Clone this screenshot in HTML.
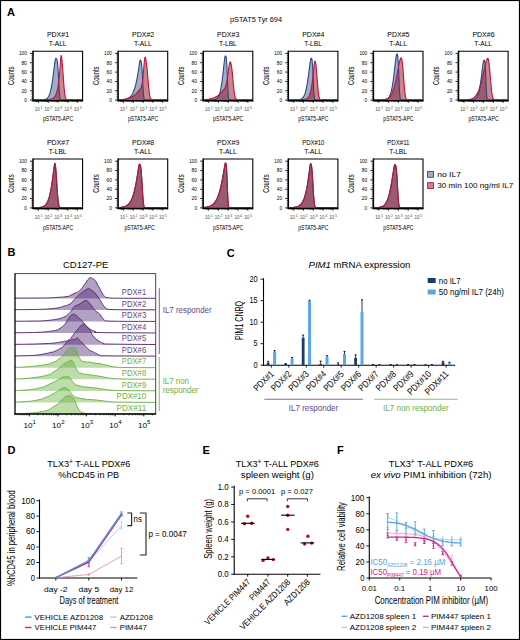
<!DOCTYPE html>
<html><head><meta charset="utf-8"><style>
html,body{margin:0;padding:0;background:#fff;}
svg{display:block;font-family:"Liberation Sans", sans-serif;}
</style></head><body>
<svg width="520" height="640" viewBox="0 0 520 640">
<rect width="520" height="640" fill="#fff"/>
<text x="6.90" y="16.40" font-size="11" fill="#000" font-weight="bold" >A</text>
<text x="7.60" y="256.40" font-size="11" fill="#000" font-weight="bold" >B</text>
<text x="226.80" y="257.20" font-size="11" fill="#000" font-weight="bold" >C</text>
<text x="7.40" y="453.50" font-size="11" fill="#000" font-weight="bold" >D</text>
<text x="202.60" y="453.50" font-size="11" fill="#000" font-weight="bold" >E</text>
<text x="337.00" y="453.50" font-size="11" fill="#000" font-weight="bold" >F</text>
<text x="256.00" y="22.40" font-size="7.6" text-anchor="middle" textLength="52.00" lengthAdjust="spacingAndGlyphs" >pSTAT5 Tyr 694</text>
<text x="58.00" y="36.80" font-size="7.3" text-anchor="middle" textLength="22.20" lengthAdjust="spacingAndGlyphs" >PDX#1</text>
<text x="57.70" y="45.90" font-size="7.3" text-anchor="middle" textLength="17.70" lengthAdjust="spacingAndGlyphs" >T-ALL</text>
<path d="M33.60,99.77 L34.08,99.77 L34.57,99.77 L35.05,99.77 L35.54,99.77 L36.02,99.77 L36.50,99.77 L36.99,99.77 L37.47,99.77 L37.96,99.77 L38.44,99.77 L38.92,99.77 L39.41,99.77 L39.89,99.77 L40.38,99.77 L40.86,99.77 L41.34,99.77 L41.83,99.75 L42.31,99.72 L42.80,99.69 L43.28,99.64 L43.76,99.58 L44.25,99.51 L44.73,99.41 L45.22,99.28 L45.70,99.11 L46.18,98.90 L46.67,98.61 L47.15,98.25 L47.64,97.78 L48.12,97.18 L48.60,96.43 L49.09,95.48 L49.57,94.30 L50.06,92.86 L50.54,91.12 L51.02,89.04 L51.51,86.60 L51.99,83.77 L52.48,80.58 L52.96,77.03 L53.44,73.21 L53.93,69.24 L54.41,65.31 L54.90,61.72 L55.38,58.97 L55.86,58.36 L56.35,58.48 L56.83,59.18 L57.32,61.34 L57.80,65.91 L58.28,73.23 L58.77,82.30 L59.25,90.75 L59.74,96.40 L60.22,98.96 L60.70,99.68 L61.19,99.77 L61.67,99.77 L62.16,99.77 L62.64,99.77 L63.12,99.77 L63.61,99.77 L64.09,99.77 L64.58,99.77 L65.06,99.77 L65.54,99.77 L66.03,99.77 L66.51,99.77 L67.00,99.77 L67.48,99.77 L67.96,99.77 L68.45,99.77 L68.93,99.77 L69.42,99.77 L69.90,99.77 L70.38,99.77 L70.87,99.77 L71.35,99.77 L71.84,99.77 L72.32,99.77 L72.80,99.77 L73.29,99.77 L73.77,99.77 L74.26,99.77 L74.74,99.77 L75.22,99.77 L75.71,99.77 L76.19,99.77 L76.68,99.77 L77.16,99.77 L77.64,99.77 L78.13,99.77 L78.61,99.77 L79.10,99.77 L79.58,99.77 L80.06,99.77 L80.55,99.77 L81.03,99.77 L81.52,99.77 L82.00,99.77 L82.00,100.10 L33.60,100.10 Z" stroke="none" fill="rgba(53,83,138,0.47)" stroke-width="1" />
<path d="M33.60,99.77 L34.08,99.77 L34.57,99.77 L35.05,99.77 L35.54,99.77 L36.02,99.77 L36.50,99.77 L36.99,99.77 L37.47,99.77 L37.96,99.77 L38.44,99.77 L38.92,99.77 L39.41,99.77 L39.89,99.77 L40.38,99.77 L40.86,99.77 L41.34,99.77 L41.83,99.77 L42.31,99.77 L42.80,99.76 L43.28,99.74 L43.76,99.72 L44.25,99.71 L44.73,99.69 L45.22,99.67 L45.70,99.65 L46.18,99.63 L46.67,99.60 L47.15,99.58 L47.64,99.55 L48.12,99.51 L48.60,99.47 L49.09,99.42 L49.57,99.36 L50.06,99.29 L50.54,99.19 L51.02,99.08 L51.51,98.94 L51.99,98.77 L52.48,98.56 L52.96,98.29 L53.44,97.95 L53.93,97.54 L54.41,97.02 L54.90,96.37 L55.38,95.57 L55.86,94.57 L56.35,93.33 L56.83,91.80 L57.32,89.91 L57.80,87.58 L58.28,84.71 L58.77,81.20 L59.25,76.92 L59.74,71.73 L60.22,65.50 L60.70,58.21 L61.19,55.42 L61.67,57.63 L62.16,62.02 L62.64,68.10 L63.12,75.01 L63.61,81.79 L64.09,87.70 L64.58,92.31 L65.06,95.55 L65.54,97.63 L66.03,98.83 L66.51,99.46 L67.00,99.77 L67.48,99.77 L67.96,99.77 L68.45,99.77 L68.93,99.77 L69.42,99.77 L69.90,99.77 L70.38,99.77 L70.87,99.77 L71.35,99.77 L71.84,99.77 L72.32,99.77 L72.80,99.77 L73.29,99.77 L73.77,99.77 L74.26,99.77 L74.74,99.77 L75.22,99.77 L75.71,99.77 L76.19,99.77 L76.68,99.77 L77.16,99.77 L77.64,99.77 L78.13,99.77 L78.61,99.77 L79.10,99.77 L79.58,99.77 L80.06,99.77 L80.55,99.77 L81.03,99.77 L81.52,99.77 L82.00,99.77 L82.00,100.10 L33.60,100.10 Z" stroke="none" fill="rgba(150,0,15,0.48)" stroke-width="1" />
<path d="M33.60,99.77 L34.08,99.77 L34.57,99.77 L35.05,99.77 L35.54,99.77 L36.02,99.77 L36.50,99.77 L36.99,99.77 L37.47,99.77 L37.96,99.77 L38.44,99.77 L38.92,99.77 L39.41,99.77 L39.89,99.77 L40.38,99.77 L40.86,99.77 L41.34,99.77 L41.83,99.75 L42.31,99.72 L42.80,99.69 L43.28,99.64 L43.76,99.58 L44.25,99.51 L44.73,99.41 L45.22,99.28 L45.70,99.11 L46.18,98.90 L46.67,98.61 L47.15,98.25 L47.64,97.78 L48.12,97.18 L48.60,96.43 L49.09,95.48 L49.57,94.30 L50.06,92.86 L50.54,91.12 L51.02,89.04 L51.51,86.60 L51.99,83.77 L52.48,80.58 L52.96,77.03 L53.44,73.21 L53.93,69.24 L54.41,65.31 L54.90,61.72 L55.38,58.97 L55.86,58.36 L56.35,58.48 L56.83,59.18 L57.32,61.34 L57.80,65.91 L58.28,73.23 L58.77,82.30 L59.25,90.75 L59.74,96.40 L60.22,98.96 L60.70,99.68 L61.19,99.77 L61.67,99.77 L62.16,99.77 L62.64,99.77 L63.12,99.77 L63.61,99.77 L64.09,99.77 L64.58,99.77 L65.06,99.77 L65.54,99.77 L66.03,99.77 L66.51,99.77 L67.00,99.77 L67.48,99.77 L67.96,99.77 L68.45,99.77 L68.93,99.77 L69.42,99.77 L69.90,99.77 L70.38,99.77 L70.87,99.77 L71.35,99.77 L71.84,99.77 L72.32,99.77 L72.80,99.77 L73.29,99.77 L73.77,99.77 L74.26,99.77 L74.74,99.77 L75.22,99.77 L75.71,99.77 L76.19,99.77 L76.68,99.77 L77.16,99.77 L77.64,99.77 L78.13,99.77 L78.61,99.77 L79.10,99.77 L79.58,99.77 L80.06,99.77 L80.55,99.77 L81.03,99.77 L81.52,99.77 L82.00,99.77" stroke="#2a4781" fill="none" stroke-width="1.1" stroke-linejoin="round"/>
<path d="M33.60,99.77 L34.08,99.77 L34.57,99.77 L35.05,99.77 L35.54,99.77 L36.02,99.77 L36.50,99.77 L36.99,99.77 L37.47,99.77 L37.96,99.77 L38.44,99.77 L38.92,99.77 L39.41,99.77 L39.89,99.77 L40.38,99.77 L40.86,99.77 L41.34,99.77 L41.83,99.77 L42.31,99.77 L42.80,99.76 L43.28,99.74 L43.76,99.72 L44.25,99.71 L44.73,99.69 L45.22,99.67 L45.70,99.65 L46.18,99.63 L46.67,99.60 L47.15,99.58 L47.64,99.55 L48.12,99.51 L48.60,99.47 L49.09,99.42 L49.57,99.36 L50.06,99.29 L50.54,99.19 L51.02,99.08 L51.51,98.94 L51.99,98.77 L52.48,98.56 L52.96,98.29 L53.44,97.95 L53.93,97.54 L54.41,97.02 L54.90,96.37 L55.38,95.57 L55.86,94.57 L56.35,93.33 L56.83,91.80 L57.32,89.91 L57.80,87.58 L58.28,84.71 L58.77,81.20 L59.25,76.92 L59.74,71.73 L60.22,65.50 L60.70,58.21 L61.19,55.42 L61.67,57.63 L62.16,62.02 L62.64,68.10 L63.12,75.01 L63.61,81.79 L64.09,87.70 L64.58,92.31 L65.06,95.55 L65.54,97.63 L66.03,98.83 L66.51,99.46 L67.00,99.77 L67.48,99.77 L67.96,99.77 L68.45,99.77 L68.93,99.77 L69.42,99.77 L69.90,99.77 L70.38,99.77 L70.87,99.77 L71.35,99.77 L71.84,99.77 L72.32,99.77 L72.80,99.77 L73.29,99.77 L73.77,99.77 L74.26,99.77 L74.74,99.77 L75.22,99.77 L75.71,99.77 L76.19,99.77 L76.68,99.77 L77.16,99.77 L77.64,99.77 L78.13,99.77 L78.61,99.77 L79.10,99.77 L79.58,99.77 L80.06,99.77 L80.55,99.77 L81.03,99.77 L81.52,99.77 L82.00,99.77" stroke="#b8143f" fill="none" stroke-width="1.1" stroke-linejoin="round"/>
<path d="M33.00,51.20 L82.60,51.20 L82.60,100.70" fill="none" stroke="#000" stroke-width="1.1"/>
<line x1="33.00" y1="50.70" x2="33.00" y2="101.30" stroke="#000" stroke-width="1.5" />
<line x1="32.40" y1="100.70" x2="83.10" y2="100.70" stroke="#000" stroke-width="1.4" />
<line x1="30.00" y1="100.10" x2="33.00" y2="100.10" stroke="#000" stroke-width="0.9" />
<text x="26.80" y="102.00" font-size="5.4" text-anchor="end" textLength="2.60" lengthAdjust="spacingAndGlyphs" >0</text>
<line x1="31.40" y1="98.23" x2="33.00" y2="98.23" stroke="#000" stroke-width="0.6" />
<line x1="31.40" y1="96.36" x2="33.00" y2="96.36" stroke="#000" stroke-width="0.6" />
<line x1="31.40" y1="94.50" x2="33.00" y2="94.50" stroke="#000" stroke-width="0.6" />
<line x1="31.40" y1="92.63" x2="33.00" y2="92.63" stroke="#000" stroke-width="0.6" />
<line x1="30.00" y1="90.76" x2="33.00" y2="90.76" stroke="#000" stroke-width="0.9" />
<text x="26.80" y="92.66" font-size="5.4" text-anchor="end" textLength="5.40" lengthAdjust="spacingAndGlyphs" >20</text>
<line x1="31.40" y1="88.89" x2="33.00" y2="88.89" stroke="#000" stroke-width="0.6" />
<line x1="31.40" y1="87.02" x2="33.00" y2="87.02" stroke="#000" stroke-width="0.6" />
<line x1="31.40" y1="85.16" x2="33.00" y2="85.16" stroke="#000" stroke-width="0.6" />
<line x1="31.40" y1="83.29" x2="33.00" y2="83.29" stroke="#000" stroke-width="0.6" />
<line x1="30.00" y1="81.42" x2="33.00" y2="81.42" stroke="#000" stroke-width="0.9" />
<text x="26.80" y="83.32" font-size="5.4" text-anchor="end" textLength="5.40" lengthAdjust="spacingAndGlyphs" >40</text>
<line x1="31.40" y1="79.55" x2="33.00" y2="79.55" stroke="#000" stroke-width="0.6" />
<line x1="31.40" y1="77.68" x2="33.00" y2="77.68" stroke="#000" stroke-width="0.6" />
<line x1="31.40" y1="75.82" x2="33.00" y2="75.82" stroke="#000" stroke-width="0.6" />
<line x1="31.40" y1="73.95" x2="33.00" y2="73.95" stroke="#000" stroke-width="0.6" />
<line x1="30.00" y1="72.08" x2="33.00" y2="72.08" stroke="#000" stroke-width="0.9" />
<text x="26.80" y="73.98" font-size="5.4" text-anchor="end" textLength="5.40" lengthAdjust="spacingAndGlyphs" >60</text>
<line x1="31.40" y1="70.21" x2="33.00" y2="70.21" stroke="#000" stroke-width="0.6" />
<line x1="31.40" y1="68.34" x2="33.00" y2="68.34" stroke="#000" stroke-width="0.6" />
<line x1="31.40" y1="66.48" x2="33.00" y2="66.48" stroke="#000" stroke-width="0.6" />
<line x1="31.40" y1="64.61" x2="33.00" y2="64.61" stroke="#000" stroke-width="0.6" />
<line x1="30.00" y1="62.74" x2="33.00" y2="62.74" stroke="#000" stroke-width="0.9" />
<text x="26.80" y="64.64" font-size="5.4" text-anchor="end" textLength="5.40" lengthAdjust="spacingAndGlyphs" >80</text>
<line x1="31.40" y1="60.87" x2="33.00" y2="60.87" stroke="#000" stroke-width="0.6" />
<line x1="31.40" y1="59.00" x2="33.00" y2="59.00" stroke="#000" stroke-width="0.6" />
<line x1="31.40" y1="57.14" x2="33.00" y2="57.14" stroke="#000" stroke-width="0.6" />
<line x1="31.40" y1="55.27" x2="33.00" y2="55.27" stroke="#000" stroke-width="0.6" />
<line x1="30.00" y1="53.40" x2="33.00" y2="53.40" stroke="#000" stroke-width="0.9" />
<text x="26.80" y="55.30" font-size="5.4" text-anchor="end" textLength="7.80" lengthAdjust="spacingAndGlyphs" >100</text>
<line x1="38.50" y1="100.70" x2="38.50" y2="102.90" stroke="#000" stroke-width="0.8" />
<line x1="41.45" y1="100.70" x2="41.45" y2="101.90" stroke="#000" stroke-width="0.5" />
<line x1="43.18" y1="100.70" x2="43.18" y2="101.90" stroke="#000" stroke-width="0.5" />
<line x1="44.40" y1="100.70" x2="44.40" y2="101.90" stroke="#000" stroke-width="0.5" />
<line x1="45.35" y1="100.70" x2="45.35" y2="101.90" stroke="#000" stroke-width="0.5" />
<line x1="46.13" y1="100.70" x2="46.13" y2="101.90" stroke="#000" stroke-width="0.5" />
<line x1="46.78" y1="100.70" x2="46.78" y2="101.90" stroke="#000" stroke-width="0.5" />
<line x1="47.35" y1="100.70" x2="47.35" y2="101.90" stroke="#000" stroke-width="0.5" />
<line x1="47.85" y1="100.70" x2="47.85" y2="101.90" stroke="#000" stroke-width="0.5" />
<text x="34.80" y="110.80" font-size="5.0" fill="#4a4a4a" textLength="5.00" lengthAdjust="spacingAndGlyphs" >10</text>
<text x="40.50" y="108.70" font-size="3.6" fill="#4a4a4a" >1</text>
<line x1="48.30" y1="100.70" x2="48.30" y2="102.90" stroke="#000" stroke-width="0.8" />
<line x1="51.25" y1="100.70" x2="51.25" y2="101.90" stroke="#000" stroke-width="0.5" />
<line x1="52.98" y1="100.70" x2="52.98" y2="101.90" stroke="#000" stroke-width="0.5" />
<line x1="54.20" y1="100.70" x2="54.20" y2="101.90" stroke="#000" stroke-width="0.5" />
<line x1="55.15" y1="100.70" x2="55.15" y2="101.90" stroke="#000" stroke-width="0.5" />
<line x1="55.93" y1="100.70" x2="55.93" y2="101.90" stroke="#000" stroke-width="0.5" />
<line x1="56.58" y1="100.70" x2="56.58" y2="101.90" stroke="#000" stroke-width="0.5" />
<line x1="57.15" y1="100.70" x2="57.15" y2="101.90" stroke="#000" stroke-width="0.5" />
<line x1="57.65" y1="100.70" x2="57.65" y2="101.90" stroke="#000" stroke-width="0.5" />
<text x="44.60" y="110.80" font-size="5.0" fill="#4a4a4a" textLength="5.00" lengthAdjust="spacingAndGlyphs" >10</text>
<text x="50.30" y="108.70" font-size="3.6" fill="#4a4a4a" >2</text>
<line x1="58.10" y1="100.70" x2="58.10" y2="102.90" stroke="#000" stroke-width="0.8" />
<line x1="61.05" y1="100.70" x2="61.05" y2="101.90" stroke="#000" stroke-width="0.5" />
<line x1="62.78" y1="100.70" x2="62.78" y2="101.90" stroke="#000" stroke-width="0.5" />
<line x1="64.00" y1="100.70" x2="64.00" y2="101.90" stroke="#000" stroke-width="0.5" />
<line x1="64.95" y1="100.70" x2="64.95" y2="101.90" stroke="#000" stroke-width="0.5" />
<line x1="65.73" y1="100.70" x2="65.73" y2="101.90" stroke="#000" stroke-width="0.5" />
<line x1="66.38" y1="100.70" x2="66.38" y2="101.90" stroke="#000" stroke-width="0.5" />
<line x1="66.95" y1="100.70" x2="66.95" y2="101.90" stroke="#000" stroke-width="0.5" />
<line x1="67.45" y1="100.70" x2="67.45" y2="101.90" stroke="#000" stroke-width="0.5" />
<text x="54.40" y="110.80" font-size="5.0" fill="#4a4a4a" textLength="5.00" lengthAdjust="spacingAndGlyphs" >10</text>
<text x="60.10" y="108.70" font-size="3.6" fill="#4a4a4a" >3</text>
<line x1="67.90" y1="100.70" x2="67.90" y2="102.90" stroke="#000" stroke-width="0.8" />
<line x1="70.85" y1="100.70" x2="70.85" y2="101.90" stroke="#000" stroke-width="0.5" />
<line x1="72.58" y1="100.70" x2="72.58" y2="101.90" stroke="#000" stroke-width="0.5" />
<line x1="73.80" y1="100.70" x2="73.80" y2="101.90" stroke="#000" stroke-width="0.5" />
<line x1="74.75" y1="100.70" x2="74.75" y2="101.90" stroke="#000" stroke-width="0.5" />
<line x1="75.53" y1="100.70" x2="75.53" y2="101.90" stroke="#000" stroke-width="0.5" />
<line x1="76.18" y1="100.70" x2="76.18" y2="101.90" stroke="#000" stroke-width="0.5" />
<line x1="76.75" y1="100.70" x2="76.75" y2="101.90" stroke="#000" stroke-width="0.5" />
<line x1="77.25" y1="100.70" x2="77.25" y2="101.90" stroke="#000" stroke-width="0.5" />
<text x="64.20" y="110.80" font-size="5.0" fill="#4a4a4a" textLength="5.00" lengthAdjust="spacingAndGlyphs" >10</text>
<text x="69.90" y="108.70" font-size="3.6" fill="#4a4a4a" >4</text>
<line x1="77.70" y1="100.70" x2="77.70" y2="102.90" stroke="#000" stroke-width="0.8" />
<line x1="80.65" y1="100.70" x2="80.65" y2="101.90" stroke="#000" stroke-width="0.5" />
<line x1="82.38" y1="100.70" x2="82.38" y2="101.90" stroke="#000" stroke-width="0.5" />
<text x="74.00" y="110.80" font-size="5.0" fill="#4a4a4a" textLength="5.00" lengthAdjust="spacingAndGlyphs" >10</text>
<text x="79.70" y="108.70" font-size="3.6" fill="#4a4a4a" >5</text>
<line x1="35.55" y1="100.70" x2="35.55" y2="101.90" stroke="#000" stroke-width="0.5" />
<line x1="36.33" y1="100.70" x2="36.33" y2="101.90" stroke="#000" stroke-width="0.5" />
<line x1="36.98" y1="100.70" x2="36.98" y2="101.90" stroke="#000" stroke-width="0.5" />
<line x1="37.55" y1="100.70" x2="37.55" y2="101.90" stroke="#000" stroke-width="0.5" />
<line x1="38.05" y1="100.70" x2="38.05" y2="101.90" stroke="#000" stroke-width="0.5" />
<text x="13.90" y="75.80" font-size="8.3" text-anchor="middle" textLength="18.50" lengthAdjust="spacingAndGlyphs" transform="rotate(-90 13.90 75.80)" >Counts</text>
<text x="58.00" y="121.40" font-size="7.6" text-anchor="middle" textLength="30.20" lengthAdjust="spacingAndGlyphs" >pSTAT5-APC</text>
<text x="143.10" y="36.80" font-size="7.3" text-anchor="middle" textLength="22.20" lengthAdjust="spacingAndGlyphs" >PDX#2</text>
<text x="142.80" y="45.90" font-size="7.3" text-anchor="middle" textLength="17.70" lengthAdjust="spacingAndGlyphs" >T-ALL</text>
<path d="M118.70,99.77 L119.18,99.77 L119.67,99.77 L120.15,99.77 L120.64,99.77 L121.12,99.77 L121.60,99.77 L122.09,99.73 L122.57,99.68 L123.06,99.63 L123.54,99.56 L124.02,99.49 L124.51,99.41 L124.99,99.31 L125.48,99.20 L125.96,99.07 L126.44,98.93 L126.93,98.76 L127.41,98.57 L127.90,98.35 L128.38,98.09 L128.86,97.79 L129.35,97.46 L129.83,97.07 L130.32,96.62 L130.80,96.10 L131.28,95.52 L131.77,94.84 L132.25,94.08 L132.74,93.20 L133.22,92.21 L133.70,91.08 L134.19,89.81 L134.67,88.37 L135.16,86.76 L135.64,84.96 L136.12,82.95 L136.61,80.73 L137.09,78.29 L137.58,75.62 L138.06,72.74 L138.54,69.68 L139.03,66.49 L139.51,63.29 L140.00,60.40 L140.48,60.02 L140.96,60.65 L141.45,63.04 L141.93,68.28 L142.42,76.36 L142.90,85.57 L143.38,93.19 L143.87,97.60 L144.35,99.30 L144.84,99.72 L145.32,99.77 L145.80,99.77 L146.29,99.77 L146.77,99.77 L147.26,99.77 L147.74,99.77 L148.22,99.77 L148.71,99.77 L149.19,99.77 L149.68,99.77 L150.16,99.77 L150.64,99.77 L151.13,99.77 L151.61,99.77 L152.10,99.77 L152.58,99.77 L153.06,99.77 L153.55,99.77 L154.03,99.77 L154.52,99.77 L155.00,99.77 L155.48,99.77 L155.97,99.77 L156.45,99.77 L156.94,99.77 L157.42,99.77 L157.90,99.77 L158.39,99.77 L158.87,99.77 L159.36,99.77 L159.84,99.77 L160.32,99.77 L160.81,99.77 L161.29,99.77 L161.78,99.77 L162.26,99.77 L162.74,99.77 L163.23,99.77 L163.71,99.77 L164.20,99.77 L164.68,99.77 L165.16,99.77 L165.65,99.77 L166.13,99.77 L166.62,99.77 L167.10,99.77 L167.10,100.10 L118.70,100.10 Z" stroke="none" fill="rgba(53,83,138,0.47)" stroke-width="1" />
<path d="M118.70,99.77 L119.18,99.77 L119.67,99.74 L120.15,99.70 L120.64,99.66 L121.12,99.62 L121.60,99.57 L122.09,99.52 L122.57,99.46 L123.06,99.40 L123.54,99.33 L124.02,99.25 L124.51,99.17 L124.99,99.09 L125.48,98.99 L125.96,98.89 L126.44,98.78 L126.93,98.66 L127.41,98.53 L127.90,98.39 L128.38,98.24 L128.86,98.08 L129.35,97.90 L129.83,97.71 L130.32,97.51 L130.80,97.29 L131.28,97.05 L131.77,96.80 L132.25,96.53 L132.74,96.24 L133.22,95.93 L133.70,95.60 L134.19,95.25 L134.67,94.87 L135.16,94.47 L135.64,94.05 L136.12,93.60 L136.61,93.13 L137.09,92.64 L137.58,92.12 L138.06,91.58 L138.54,91.02 L139.03,90.43 L139.51,89.83 L140.00,89.20 L140.48,88.51 L140.96,87.69 L141.45,86.57 L141.93,84.88 L142.42,82.19 L142.90,78.12 L143.38,72.82 L143.87,66.95 L144.35,61.44 L144.84,57.73 L145.32,57.18 L145.80,59.21 L146.29,62.06 L146.77,65.94 L147.26,70.82 L147.74,76.38 L148.22,82.09 L148.71,87.39 L149.19,91.80 L149.68,95.11 L150.16,97.33 L150.64,98.67 L151.13,99.39 L151.61,99.74 L152.10,99.77 L152.58,99.77 L153.06,99.77 L153.55,99.77 L154.03,99.77 L154.52,99.77 L155.00,99.77 L155.48,99.77 L155.97,99.77 L156.45,99.77 L156.94,99.77 L157.42,99.77 L157.90,99.77 L158.39,99.77 L158.87,99.77 L159.36,99.77 L159.84,99.77 L160.32,99.77 L160.81,99.77 L161.29,99.77 L161.78,99.77 L162.26,99.77 L162.74,99.77 L163.23,99.77 L163.71,99.77 L164.20,99.77 L164.68,99.77 L165.16,99.77 L165.65,99.77 L166.13,99.77 L166.62,99.77 L167.10,99.77 L167.10,100.10 L118.70,100.10 Z" stroke="none" fill="rgba(150,0,15,0.48)" stroke-width="1" />
<path d="M118.70,99.77 L119.18,99.77 L119.67,99.77 L120.15,99.77 L120.64,99.77 L121.12,99.77 L121.60,99.77 L122.09,99.73 L122.57,99.68 L123.06,99.63 L123.54,99.56 L124.02,99.49 L124.51,99.41 L124.99,99.31 L125.48,99.20 L125.96,99.07 L126.44,98.93 L126.93,98.76 L127.41,98.57 L127.90,98.35 L128.38,98.09 L128.86,97.79 L129.35,97.46 L129.83,97.07 L130.32,96.62 L130.80,96.10 L131.28,95.52 L131.77,94.84 L132.25,94.08 L132.74,93.20 L133.22,92.21 L133.70,91.08 L134.19,89.81 L134.67,88.37 L135.16,86.76 L135.64,84.96 L136.12,82.95 L136.61,80.73 L137.09,78.29 L137.58,75.62 L138.06,72.74 L138.54,69.68 L139.03,66.49 L139.51,63.29 L140.00,60.40 L140.48,60.02 L140.96,60.65 L141.45,63.04 L141.93,68.28 L142.42,76.36 L142.90,85.57 L143.38,93.19 L143.87,97.60 L144.35,99.30 L144.84,99.72 L145.32,99.77 L145.80,99.77 L146.29,99.77 L146.77,99.77 L147.26,99.77 L147.74,99.77 L148.22,99.77 L148.71,99.77 L149.19,99.77 L149.68,99.77 L150.16,99.77 L150.64,99.77 L151.13,99.77 L151.61,99.77 L152.10,99.77 L152.58,99.77 L153.06,99.77 L153.55,99.77 L154.03,99.77 L154.52,99.77 L155.00,99.77 L155.48,99.77 L155.97,99.77 L156.45,99.77 L156.94,99.77 L157.42,99.77 L157.90,99.77 L158.39,99.77 L158.87,99.77 L159.36,99.77 L159.84,99.77 L160.32,99.77 L160.81,99.77 L161.29,99.77 L161.78,99.77 L162.26,99.77 L162.74,99.77 L163.23,99.77 L163.71,99.77 L164.20,99.77 L164.68,99.77 L165.16,99.77 L165.65,99.77 L166.13,99.77 L166.62,99.77 L167.10,99.77" stroke="#2a4781" fill="none" stroke-width="1.1" stroke-linejoin="round"/>
<path d="M118.70,99.77 L119.18,99.77 L119.67,99.74 L120.15,99.70 L120.64,99.66 L121.12,99.62 L121.60,99.57 L122.09,99.52 L122.57,99.46 L123.06,99.40 L123.54,99.33 L124.02,99.25 L124.51,99.17 L124.99,99.09 L125.48,98.99 L125.96,98.89 L126.44,98.78 L126.93,98.66 L127.41,98.53 L127.90,98.39 L128.38,98.24 L128.86,98.08 L129.35,97.90 L129.83,97.71 L130.32,97.51 L130.80,97.29 L131.28,97.05 L131.77,96.80 L132.25,96.53 L132.74,96.24 L133.22,95.93 L133.70,95.60 L134.19,95.25 L134.67,94.87 L135.16,94.47 L135.64,94.05 L136.12,93.60 L136.61,93.13 L137.09,92.64 L137.58,92.12 L138.06,91.58 L138.54,91.02 L139.03,90.43 L139.51,89.83 L140.00,89.20 L140.48,88.51 L140.96,87.69 L141.45,86.57 L141.93,84.88 L142.42,82.19 L142.90,78.12 L143.38,72.82 L143.87,66.95 L144.35,61.44 L144.84,57.73 L145.32,57.18 L145.80,59.21 L146.29,62.06 L146.77,65.94 L147.26,70.82 L147.74,76.38 L148.22,82.09 L148.71,87.39 L149.19,91.80 L149.68,95.11 L150.16,97.33 L150.64,98.67 L151.13,99.39 L151.61,99.74 L152.10,99.77 L152.58,99.77 L153.06,99.77 L153.55,99.77 L154.03,99.77 L154.52,99.77 L155.00,99.77 L155.48,99.77 L155.97,99.77 L156.45,99.77 L156.94,99.77 L157.42,99.77 L157.90,99.77 L158.39,99.77 L158.87,99.77 L159.36,99.77 L159.84,99.77 L160.32,99.77 L160.81,99.77 L161.29,99.77 L161.78,99.77 L162.26,99.77 L162.74,99.77 L163.23,99.77 L163.71,99.77 L164.20,99.77 L164.68,99.77 L165.16,99.77 L165.65,99.77 L166.13,99.77 L166.62,99.77 L167.10,99.77" stroke="#b8143f" fill="none" stroke-width="1.1" stroke-linejoin="round"/>
<path d="M118.10,51.20 L167.70,51.20 L167.70,100.70" fill="none" stroke="#000" stroke-width="1.1"/>
<line x1="118.10" y1="50.70" x2="118.10" y2="101.30" stroke="#000" stroke-width="1.5" />
<line x1="117.50" y1="100.70" x2="168.20" y2="100.70" stroke="#000" stroke-width="1.4" />
<line x1="115.10" y1="100.10" x2="118.10" y2="100.10" stroke="#000" stroke-width="0.9" />
<text x="111.90" y="102.00" font-size="5.4" text-anchor="end" textLength="2.60" lengthAdjust="spacingAndGlyphs" >0</text>
<line x1="116.50" y1="98.23" x2="118.10" y2="98.23" stroke="#000" stroke-width="0.6" />
<line x1="116.50" y1="96.36" x2="118.10" y2="96.36" stroke="#000" stroke-width="0.6" />
<line x1="116.50" y1="94.50" x2="118.10" y2="94.50" stroke="#000" stroke-width="0.6" />
<line x1="116.50" y1="92.63" x2="118.10" y2="92.63" stroke="#000" stroke-width="0.6" />
<line x1="115.10" y1="90.76" x2="118.10" y2="90.76" stroke="#000" stroke-width="0.9" />
<text x="111.90" y="92.66" font-size="5.4" text-anchor="end" textLength="5.40" lengthAdjust="spacingAndGlyphs" >20</text>
<line x1="116.50" y1="88.89" x2="118.10" y2="88.89" stroke="#000" stroke-width="0.6" />
<line x1="116.50" y1="87.02" x2="118.10" y2="87.02" stroke="#000" stroke-width="0.6" />
<line x1="116.50" y1="85.16" x2="118.10" y2="85.16" stroke="#000" stroke-width="0.6" />
<line x1="116.50" y1="83.29" x2="118.10" y2="83.29" stroke="#000" stroke-width="0.6" />
<line x1="115.10" y1="81.42" x2="118.10" y2="81.42" stroke="#000" stroke-width="0.9" />
<text x="111.90" y="83.32" font-size="5.4" text-anchor="end" textLength="5.40" lengthAdjust="spacingAndGlyphs" >40</text>
<line x1="116.50" y1="79.55" x2="118.10" y2="79.55" stroke="#000" stroke-width="0.6" />
<line x1="116.50" y1="77.68" x2="118.10" y2="77.68" stroke="#000" stroke-width="0.6" />
<line x1="116.50" y1="75.82" x2="118.10" y2="75.82" stroke="#000" stroke-width="0.6" />
<line x1="116.50" y1="73.95" x2="118.10" y2="73.95" stroke="#000" stroke-width="0.6" />
<line x1="115.10" y1="72.08" x2="118.10" y2="72.08" stroke="#000" stroke-width="0.9" />
<text x="111.90" y="73.98" font-size="5.4" text-anchor="end" textLength="5.40" lengthAdjust="spacingAndGlyphs" >60</text>
<line x1="116.50" y1="70.21" x2="118.10" y2="70.21" stroke="#000" stroke-width="0.6" />
<line x1="116.50" y1="68.34" x2="118.10" y2="68.34" stroke="#000" stroke-width="0.6" />
<line x1="116.50" y1="66.48" x2="118.10" y2="66.48" stroke="#000" stroke-width="0.6" />
<line x1="116.50" y1="64.61" x2="118.10" y2="64.61" stroke="#000" stroke-width="0.6" />
<line x1="115.10" y1="62.74" x2="118.10" y2="62.74" stroke="#000" stroke-width="0.9" />
<text x="111.90" y="64.64" font-size="5.4" text-anchor="end" textLength="5.40" lengthAdjust="spacingAndGlyphs" >80</text>
<line x1="116.50" y1="60.87" x2="118.10" y2="60.87" stroke="#000" stroke-width="0.6" />
<line x1="116.50" y1="59.00" x2="118.10" y2="59.00" stroke="#000" stroke-width="0.6" />
<line x1="116.50" y1="57.14" x2="118.10" y2="57.14" stroke="#000" stroke-width="0.6" />
<line x1="116.50" y1="55.27" x2="118.10" y2="55.27" stroke="#000" stroke-width="0.6" />
<line x1="115.10" y1="53.40" x2="118.10" y2="53.40" stroke="#000" stroke-width="0.9" />
<text x="111.90" y="55.30" font-size="5.4" text-anchor="end" textLength="7.80" lengthAdjust="spacingAndGlyphs" >100</text>
<line x1="123.60" y1="100.70" x2="123.60" y2="102.90" stroke="#000" stroke-width="0.8" />
<line x1="126.55" y1="100.70" x2="126.55" y2="101.90" stroke="#000" stroke-width="0.5" />
<line x1="128.28" y1="100.70" x2="128.28" y2="101.90" stroke="#000" stroke-width="0.5" />
<line x1="129.50" y1="100.70" x2="129.50" y2="101.90" stroke="#000" stroke-width="0.5" />
<line x1="130.45" y1="100.70" x2="130.45" y2="101.90" stroke="#000" stroke-width="0.5" />
<line x1="131.23" y1="100.70" x2="131.23" y2="101.90" stroke="#000" stroke-width="0.5" />
<line x1="131.88" y1="100.70" x2="131.88" y2="101.90" stroke="#000" stroke-width="0.5" />
<line x1="132.45" y1="100.70" x2="132.45" y2="101.90" stroke="#000" stroke-width="0.5" />
<line x1="132.95" y1="100.70" x2="132.95" y2="101.90" stroke="#000" stroke-width="0.5" />
<text x="119.90" y="110.80" font-size="5.0" fill="#4a4a4a" textLength="5.00" lengthAdjust="spacingAndGlyphs" >10</text>
<text x="125.60" y="108.70" font-size="3.6" fill="#4a4a4a" >1</text>
<line x1="133.40" y1="100.70" x2="133.40" y2="102.90" stroke="#000" stroke-width="0.8" />
<line x1="136.35" y1="100.70" x2="136.35" y2="101.90" stroke="#000" stroke-width="0.5" />
<line x1="138.08" y1="100.70" x2="138.08" y2="101.90" stroke="#000" stroke-width="0.5" />
<line x1="139.30" y1="100.70" x2="139.30" y2="101.90" stroke="#000" stroke-width="0.5" />
<line x1="140.25" y1="100.70" x2="140.25" y2="101.90" stroke="#000" stroke-width="0.5" />
<line x1="141.03" y1="100.70" x2="141.03" y2="101.90" stroke="#000" stroke-width="0.5" />
<line x1="141.68" y1="100.70" x2="141.68" y2="101.90" stroke="#000" stroke-width="0.5" />
<line x1="142.25" y1="100.70" x2="142.25" y2="101.90" stroke="#000" stroke-width="0.5" />
<line x1="142.75" y1="100.70" x2="142.75" y2="101.90" stroke="#000" stroke-width="0.5" />
<text x="129.70" y="110.80" font-size="5.0" fill="#4a4a4a" textLength="5.00" lengthAdjust="spacingAndGlyphs" >10</text>
<text x="135.40" y="108.70" font-size="3.6" fill="#4a4a4a" >2</text>
<line x1="143.20" y1="100.70" x2="143.20" y2="102.90" stroke="#000" stroke-width="0.8" />
<line x1="146.15" y1="100.70" x2="146.15" y2="101.90" stroke="#000" stroke-width="0.5" />
<line x1="147.88" y1="100.70" x2="147.88" y2="101.90" stroke="#000" stroke-width="0.5" />
<line x1="149.10" y1="100.70" x2="149.10" y2="101.90" stroke="#000" stroke-width="0.5" />
<line x1="150.05" y1="100.70" x2="150.05" y2="101.90" stroke="#000" stroke-width="0.5" />
<line x1="150.83" y1="100.70" x2="150.83" y2="101.90" stroke="#000" stroke-width="0.5" />
<line x1="151.48" y1="100.70" x2="151.48" y2="101.90" stroke="#000" stroke-width="0.5" />
<line x1="152.05" y1="100.70" x2="152.05" y2="101.90" stroke="#000" stroke-width="0.5" />
<line x1="152.55" y1="100.70" x2="152.55" y2="101.90" stroke="#000" stroke-width="0.5" />
<text x="139.50" y="110.80" font-size="5.0" fill="#4a4a4a" textLength="5.00" lengthAdjust="spacingAndGlyphs" >10</text>
<text x="145.20" y="108.70" font-size="3.6" fill="#4a4a4a" >3</text>
<line x1="153.00" y1="100.70" x2="153.00" y2="102.90" stroke="#000" stroke-width="0.8" />
<line x1="155.95" y1="100.70" x2="155.95" y2="101.90" stroke="#000" stroke-width="0.5" />
<line x1="157.68" y1="100.70" x2="157.68" y2="101.90" stroke="#000" stroke-width="0.5" />
<line x1="158.90" y1="100.70" x2="158.90" y2="101.90" stroke="#000" stroke-width="0.5" />
<line x1="159.85" y1="100.70" x2="159.85" y2="101.90" stroke="#000" stroke-width="0.5" />
<line x1="160.63" y1="100.70" x2="160.63" y2="101.90" stroke="#000" stroke-width="0.5" />
<line x1="161.28" y1="100.70" x2="161.28" y2="101.90" stroke="#000" stroke-width="0.5" />
<line x1="161.85" y1="100.70" x2="161.85" y2="101.90" stroke="#000" stroke-width="0.5" />
<line x1="162.35" y1="100.70" x2="162.35" y2="101.90" stroke="#000" stroke-width="0.5" />
<text x="149.30" y="110.80" font-size="5.0" fill="#4a4a4a" textLength="5.00" lengthAdjust="spacingAndGlyphs" >10</text>
<text x="155.00" y="108.70" font-size="3.6" fill="#4a4a4a" >4</text>
<line x1="162.80" y1="100.70" x2="162.80" y2="102.90" stroke="#000" stroke-width="0.8" />
<line x1="165.75" y1="100.70" x2="165.75" y2="101.90" stroke="#000" stroke-width="0.5" />
<line x1="167.48" y1="100.70" x2="167.48" y2="101.90" stroke="#000" stroke-width="0.5" />
<text x="159.10" y="110.80" font-size="5.0" fill="#4a4a4a" textLength="5.00" lengthAdjust="spacingAndGlyphs" >10</text>
<text x="164.80" y="108.70" font-size="3.6" fill="#4a4a4a" >5</text>
<line x1="120.65" y1="100.70" x2="120.65" y2="101.90" stroke="#000" stroke-width="0.5" />
<line x1="121.43" y1="100.70" x2="121.43" y2="101.90" stroke="#000" stroke-width="0.5" />
<line x1="122.08" y1="100.70" x2="122.08" y2="101.90" stroke="#000" stroke-width="0.5" />
<line x1="122.65" y1="100.70" x2="122.65" y2="101.90" stroke="#000" stroke-width="0.5" />
<line x1="123.15" y1="100.70" x2="123.15" y2="101.90" stroke="#000" stroke-width="0.5" />
<text x="99.00" y="75.80" font-size="8.3" text-anchor="middle" textLength="18.50" lengthAdjust="spacingAndGlyphs" transform="rotate(-90 99.00 75.80)" >Counts</text>
<text x="143.10" y="121.40" font-size="7.6" text-anchor="middle" textLength="30.20" lengthAdjust="spacingAndGlyphs" >pSTAT5-APC</text>
<text x="228.20" y="36.80" font-size="7.3" text-anchor="middle" textLength="22.20" lengthAdjust="spacingAndGlyphs" >PDX#3</text>
<text x="227.90" y="45.90" font-size="7.3" text-anchor="middle" textLength="17.70" lengthAdjust="spacingAndGlyphs" >T-LBL</text>
<path d="M203.80,99.77 L204.28,99.77 L204.77,99.77 L205.25,99.77 L205.74,99.77 L206.22,99.77 L206.70,99.77 L207.19,99.77 L207.67,99.77 L208.16,99.77 L208.64,99.77 L209.12,99.77 L209.61,99.77 L210.09,99.77 L210.58,99.77 L211.06,99.77 L211.54,99.77 L212.03,99.76 L212.51,99.73 L213.00,99.69 L213.48,99.65 L213.96,99.59 L214.45,99.51 L214.93,99.40 L215.42,99.26 L215.90,99.08 L216.38,98.83 L216.87,98.50 L217.35,98.07 L217.84,97.51 L218.32,96.78 L218.80,95.86 L219.29,94.68 L219.77,93.22 L220.26,91.42 L220.74,89.24 L221.22,86.64 L221.71,83.60 L222.19,80.12 L222.68,76.23 L223.16,72.02 L223.64,67.62 L224.13,63.27 L224.61,59.32 L225.10,56.36 L225.58,55.80 L226.06,56.66 L226.55,60.45 L227.03,68.87 L227.52,80.70 L228.00,91.47 L228.48,97.50 L228.97,99.42 L229.45,99.74 L229.94,99.77 L230.42,99.77 L230.90,99.77 L231.39,99.77 L231.87,99.77 L232.36,99.77 L232.84,99.77 L233.32,99.77 L233.81,99.77 L234.29,99.77 L234.78,99.77 L235.26,99.77 L235.74,99.77 L236.23,99.77 L236.71,99.77 L237.20,99.77 L237.68,99.77 L238.16,99.77 L238.65,99.77 L239.13,99.77 L239.62,99.77 L240.10,99.77 L240.58,99.77 L241.07,99.77 L241.55,99.77 L242.04,99.77 L242.52,99.77 L243.00,99.77 L243.49,99.77 L243.97,99.77 L244.46,99.77 L244.94,99.77 L245.42,99.77 L245.91,99.77 L246.39,99.77 L246.88,99.77 L247.36,99.77 L247.84,99.77 L248.33,99.77 L248.81,99.77 L249.30,99.77 L249.78,99.77 L250.26,99.77 L250.75,99.77 L251.23,99.77 L251.72,99.77 L252.20,99.77 L252.20,100.10 L203.80,100.10 Z" stroke="none" fill="rgba(53,83,138,0.47)" stroke-width="1" />
<path d="M203.80,99.76 L204.28,99.72 L204.77,99.68 L205.25,99.64 L205.74,99.59 L206.22,99.54 L206.70,99.48 L207.19,99.42 L207.67,99.35 L208.16,99.28 L208.64,99.20 L209.12,99.11 L209.61,99.01 L210.09,98.91 L210.58,98.80 L211.06,98.68 L211.54,98.55 L212.03,98.41 L212.51,98.26 L213.00,98.09 L213.48,97.92 L213.96,97.72 L214.45,97.52 L214.93,97.30 L215.42,97.06 L215.90,96.80 L216.38,96.53 L216.87,96.24 L217.35,95.92 L217.84,95.59 L218.32,95.23 L218.80,94.85 L219.29,94.45 L219.77,94.03 L220.26,93.58 L220.74,93.10 L221.22,92.60 L221.71,92.08 L222.19,91.53 L222.68,90.97 L223.16,90.37 L223.64,89.75 L224.13,89.09 L224.61,88.35 L225.10,87.49 L225.58,86.42 L226.06,85.02 L226.55,83.12 L227.03,80.62 L227.52,77.68 L228.00,74.27 L228.48,70.52 L228.97,66.83 L229.45,63.78 L229.94,61.99 L230.42,61.93 L230.90,63.30 L231.39,65.53 L231.87,68.91 L232.36,73.35 L232.84,78.50 L233.32,83.78 L233.81,88.62 L234.29,92.59 L234.78,95.50 L235.26,97.43 L235.74,98.59 L236.23,99.23 L236.71,99.57 L237.20,99.75 L237.68,99.77 L238.16,99.77 L238.65,99.77 L239.13,99.77 L239.62,99.77 L240.10,99.77 L240.58,99.77 L241.07,99.77 L241.55,99.77 L242.04,99.77 L242.52,99.77 L243.00,99.77 L243.49,99.77 L243.97,99.77 L244.46,99.77 L244.94,99.77 L245.42,99.77 L245.91,99.77 L246.39,99.77 L246.88,99.77 L247.36,99.77 L247.84,99.77 L248.33,99.77 L248.81,99.77 L249.30,99.77 L249.78,99.77 L250.26,99.77 L250.75,99.77 L251.23,99.77 L251.72,99.77 L252.20,99.77 L252.20,100.10 L203.80,100.10 Z" stroke="none" fill="rgba(150,0,15,0.48)" stroke-width="1" />
<path d="M203.80,99.77 L204.28,99.77 L204.77,99.77 L205.25,99.77 L205.74,99.77 L206.22,99.77 L206.70,99.77 L207.19,99.77 L207.67,99.77 L208.16,99.77 L208.64,99.77 L209.12,99.77 L209.61,99.77 L210.09,99.77 L210.58,99.77 L211.06,99.77 L211.54,99.77 L212.03,99.76 L212.51,99.73 L213.00,99.69 L213.48,99.65 L213.96,99.59 L214.45,99.51 L214.93,99.40 L215.42,99.26 L215.90,99.08 L216.38,98.83 L216.87,98.50 L217.35,98.07 L217.84,97.51 L218.32,96.78 L218.80,95.86 L219.29,94.68 L219.77,93.22 L220.26,91.42 L220.74,89.24 L221.22,86.64 L221.71,83.60 L222.19,80.12 L222.68,76.23 L223.16,72.02 L223.64,67.62 L224.13,63.27 L224.61,59.32 L225.10,56.36 L225.58,55.80 L226.06,56.66 L226.55,60.45 L227.03,68.87 L227.52,80.70 L228.00,91.47 L228.48,97.50 L228.97,99.42 L229.45,99.74 L229.94,99.77 L230.42,99.77 L230.90,99.77 L231.39,99.77 L231.87,99.77 L232.36,99.77 L232.84,99.77 L233.32,99.77 L233.81,99.77 L234.29,99.77 L234.78,99.77 L235.26,99.77 L235.74,99.77 L236.23,99.77 L236.71,99.77 L237.20,99.77 L237.68,99.77 L238.16,99.77 L238.65,99.77 L239.13,99.77 L239.62,99.77 L240.10,99.77 L240.58,99.77 L241.07,99.77 L241.55,99.77 L242.04,99.77 L242.52,99.77 L243.00,99.77 L243.49,99.77 L243.97,99.77 L244.46,99.77 L244.94,99.77 L245.42,99.77 L245.91,99.77 L246.39,99.77 L246.88,99.77 L247.36,99.77 L247.84,99.77 L248.33,99.77 L248.81,99.77 L249.30,99.77 L249.78,99.77 L250.26,99.77 L250.75,99.77 L251.23,99.77 L251.72,99.77 L252.20,99.77" stroke="#2a4781" fill="none" stroke-width="1.1" stroke-linejoin="round"/>
<path d="M203.80,99.76 L204.28,99.72 L204.77,99.68 L205.25,99.64 L205.74,99.59 L206.22,99.54 L206.70,99.48 L207.19,99.42 L207.67,99.35 L208.16,99.28 L208.64,99.20 L209.12,99.11 L209.61,99.01 L210.09,98.91 L210.58,98.80 L211.06,98.68 L211.54,98.55 L212.03,98.41 L212.51,98.26 L213.00,98.09 L213.48,97.92 L213.96,97.72 L214.45,97.52 L214.93,97.30 L215.42,97.06 L215.90,96.80 L216.38,96.53 L216.87,96.24 L217.35,95.92 L217.84,95.59 L218.32,95.23 L218.80,94.85 L219.29,94.45 L219.77,94.03 L220.26,93.58 L220.74,93.10 L221.22,92.60 L221.71,92.08 L222.19,91.53 L222.68,90.97 L223.16,90.37 L223.64,89.75 L224.13,89.09 L224.61,88.35 L225.10,87.49 L225.58,86.42 L226.06,85.02 L226.55,83.12 L227.03,80.62 L227.52,77.68 L228.00,74.27 L228.48,70.52 L228.97,66.83 L229.45,63.78 L229.94,61.99 L230.42,61.93 L230.90,63.30 L231.39,65.53 L231.87,68.91 L232.36,73.35 L232.84,78.50 L233.32,83.78 L233.81,88.62 L234.29,92.59 L234.78,95.50 L235.26,97.43 L235.74,98.59 L236.23,99.23 L236.71,99.57 L237.20,99.75 L237.68,99.77 L238.16,99.77 L238.65,99.77 L239.13,99.77 L239.62,99.77 L240.10,99.77 L240.58,99.77 L241.07,99.77 L241.55,99.77 L242.04,99.77 L242.52,99.77 L243.00,99.77 L243.49,99.77 L243.97,99.77 L244.46,99.77 L244.94,99.77 L245.42,99.77 L245.91,99.77 L246.39,99.77 L246.88,99.77 L247.36,99.77 L247.84,99.77 L248.33,99.77 L248.81,99.77 L249.30,99.77 L249.78,99.77 L250.26,99.77 L250.75,99.77 L251.23,99.77 L251.72,99.77 L252.20,99.77" stroke="#b8143f" fill="none" stroke-width="1.1" stroke-linejoin="round"/>
<path d="M203.20,51.20 L252.80,51.20 L252.80,100.70" fill="none" stroke="#000" stroke-width="1.1"/>
<line x1="203.20" y1="50.70" x2="203.20" y2="101.30" stroke="#000" stroke-width="1.5" />
<line x1="202.60" y1="100.70" x2="253.30" y2="100.70" stroke="#000" stroke-width="1.4" />
<line x1="200.20" y1="100.10" x2="203.20" y2="100.10" stroke="#000" stroke-width="0.9" />
<text x="197.00" y="102.00" font-size="5.4" text-anchor="end" textLength="2.60" lengthAdjust="spacingAndGlyphs" >0</text>
<line x1="201.60" y1="98.23" x2="203.20" y2="98.23" stroke="#000" stroke-width="0.6" />
<line x1="201.60" y1="96.36" x2="203.20" y2="96.36" stroke="#000" stroke-width="0.6" />
<line x1="201.60" y1="94.50" x2="203.20" y2="94.50" stroke="#000" stroke-width="0.6" />
<line x1="201.60" y1="92.63" x2="203.20" y2="92.63" stroke="#000" stroke-width="0.6" />
<line x1="200.20" y1="90.76" x2="203.20" y2="90.76" stroke="#000" stroke-width="0.9" />
<text x="197.00" y="92.66" font-size="5.4" text-anchor="end" textLength="5.40" lengthAdjust="spacingAndGlyphs" >20</text>
<line x1="201.60" y1="88.89" x2="203.20" y2="88.89" stroke="#000" stroke-width="0.6" />
<line x1="201.60" y1="87.02" x2="203.20" y2="87.02" stroke="#000" stroke-width="0.6" />
<line x1="201.60" y1="85.16" x2="203.20" y2="85.16" stroke="#000" stroke-width="0.6" />
<line x1="201.60" y1="83.29" x2="203.20" y2="83.29" stroke="#000" stroke-width="0.6" />
<line x1="200.20" y1="81.42" x2="203.20" y2="81.42" stroke="#000" stroke-width="0.9" />
<text x="197.00" y="83.32" font-size="5.4" text-anchor="end" textLength="5.40" lengthAdjust="spacingAndGlyphs" >40</text>
<line x1="201.60" y1="79.55" x2="203.20" y2="79.55" stroke="#000" stroke-width="0.6" />
<line x1="201.60" y1="77.68" x2="203.20" y2="77.68" stroke="#000" stroke-width="0.6" />
<line x1="201.60" y1="75.82" x2="203.20" y2="75.82" stroke="#000" stroke-width="0.6" />
<line x1="201.60" y1="73.95" x2="203.20" y2="73.95" stroke="#000" stroke-width="0.6" />
<line x1="200.20" y1="72.08" x2="203.20" y2="72.08" stroke="#000" stroke-width="0.9" />
<text x="197.00" y="73.98" font-size="5.4" text-anchor="end" textLength="5.40" lengthAdjust="spacingAndGlyphs" >60</text>
<line x1="201.60" y1="70.21" x2="203.20" y2="70.21" stroke="#000" stroke-width="0.6" />
<line x1="201.60" y1="68.34" x2="203.20" y2="68.34" stroke="#000" stroke-width="0.6" />
<line x1="201.60" y1="66.48" x2="203.20" y2="66.48" stroke="#000" stroke-width="0.6" />
<line x1="201.60" y1="64.61" x2="203.20" y2="64.61" stroke="#000" stroke-width="0.6" />
<line x1="200.20" y1="62.74" x2="203.20" y2="62.74" stroke="#000" stroke-width="0.9" />
<text x="197.00" y="64.64" font-size="5.4" text-anchor="end" textLength="5.40" lengthAdjust="spacingAndGlyphs" >80</text>
<line x1="201.60" y1="60.87" x2="203.20" y2="60.87" stroke="#000" stroke-width="0.6" />
<line x1="201.60" y1="59.00" x2="203.20" y2="59.00" stroke="#000" stroke-width="0.6" />
<line x1="201.60" y1="57.14" x2="203.20" y2="57.14" stroke="#000" stroke-width="0.6" />
<line x1="201.60" y1="55.27" x2="203.20" y2="55.27" stroke="#000" stroke-width="0.6" />
<line x1="200.20" y1="53.40" x2="203.20" y2="53.40" stroke="#000" stroke-width="0.9" />
<text x="197.00" y="55.30" font-size="5.4" text-anchor="end" textLength="7.80" lengthAdjust="spacingAndGlyphs" >100</text>
<line x1="208.70" y1="100.70" x2="208.70" y2="102.90" stroke="#000" stroke-width="0.8" />
<line x1="211.65" y1="100.70" x2="211.65" y2="101.90" stroke="#000" stroke-width="0.5" />
<line x1="213.38" y1="100.70" x2="213.38" y2="101.90" stroke="#000" stroke-width="0.5" />
<line x1="214.60" y1="100.70" x2="214.60" y2="101.90" stroke="#000" stroke-width="0.5" />
<line x1="215.55" y1="100.70" x2="215.55" y2="101.90" stroke="#000" stroke-width="0.5" />
<line x1="216.33" y1="100.70" x2="216.33" y2="101.90" stroke="#000" stroke-width="0.5" />
<line x1="216.98" y1="100.70" x2="216.98" y2="101.90" stroke="#000" stroke-width="0.5" />
<line x1="217.55" y1="100.70" x2="217.55" y2="101.90" stroke="#000" stroke-width="0.5" />
<line x1="218.05" y1="100.70" x2="218.05" y2="101.90" stroke="#000" stroke-width="0.5" />
<text x="205.00" y="110.80" font-size="5.0" fill="#4a4a4a" textLength="5.00" lengthAdjust="spacingAndGlyphs" >10</text>
<text x="210.70" y="108.70" font-size="3.6" fill="#4a4a4a" >1</text>
<line x1="218.50" y1="100.70" x2="218.50" y2="102.90" stroke="#000" stroke-width="0.8" />
<line x1="221.45" y1="100.70" x2="221.45" y2="101.90" stroke="#000" stroke-width="0.5" />
<line x1="223.18" y1="100.70" x2="223.18" y2="101.90" stroke="#000" stroke-width="0.5" />
<line x1="224.40" y1="100.70" x2="224.40" y2="101.90" stroke="#000" stroke-width="0.5" />
<line x1="225.35" y1="100.70" x2="225.35" y2="101.90" stroke="#000" stroke-width="0.5" />
<line x1="226.13" y1="100.70" x2="226.13" y2="101.90" stroke="#000" stroke-width="0.5" />
<line x1="226.78" y1="100.70" x2="226.78" y2="101.90" stroke="#000" stroke-width="0.5" />
<line x1="227.35" y1="100.70" x2="227.35" y2="101.90" stroke="#000" stroke-width="0.5" />
<line x1="227.85" y1="100.70" x2="227.85" y2="101.90" stroke="#000" stroke-width="0.5" />
<text x="214.80" y="110.80" font-size="5.0" fill="#4a4a4a" textLength="5.00" lengthAdjust="spacingAndGlyphs" >10</text>
<text x="220.50" y="108.70" font-size="3.6" fill="#4a4a4a" >2</text>
<line x1="228.30" y1="100.70" x2="228.30" y2="102.90" stroke="#000" stroke-width="0.8" />
<line x1="231.25" y1="100.70" x2="231.25" y2="101.90" stroke="#000" stroke-width="0.5" />
<line x1="232.98" y1="100.70" x2="232.98" y2="101.90" stroke="#000" stroke-width="0.5" />
<line x1="234.20" y1="100.70" x2="234.20" y2="101.90" stroke="#000" stroke-width="0.5" />
<line x1="235.15" y1="100.70" x2="235.15" y2="101.90" stroke="#000" stroke-width="0.5" />
<line x1="235.93" y1="100.70" x2="235.93" y2="101.90" stroke="#000" stroke-width="0.5" />
<line x1="236.58" y1="100.70" x2="236.58" y2="101.90" stroke="#000" stroke-width="0.5" />
<line x1="237.15" y1="100.70" x2="237.15" y2="101.90" stroke="#000" stroke-width="0.5" />
<line x1="237.65" y1="100.70" x2="237.65" y2="101.90" stroke="#000" stroke-width="0.5" />
<text x="224.60" y="110.80" font-size="5.0" fill="#4a4a4a" textLength="5.00" lengthAdjust="spacingAndGlyphs" >10</text>
<text x="230.30" y="108.70" font-size="3.6" fill="#4a4a4a" >3</text>
<line x1="238.10" y1="100.70" x2="238.10" y2="102.90" stroke="#000" stroke-width="0.8" />
<line x1="241.05" y1="100.70" x2="241.05" y2="101.90" stroke="#000" stroke-width="0.5" />
<line x1="242.78" y1="100.70" x2="242.78" y2="101.90" stroke="#000" stroke-width="0.5" />
<line x1="244.00" y1="100.70" x2="244.00" y2="101.90" stroke="#000" stroke-width="0.5" />
<line x1="244.95" y1="100.70" x2="244.95" y2="101.90" stroke="#000" stroke-width="0.5" />
<line x1="245.73" y1="100.70" x2="245.73" y2="101.90" stroke="#000" stroke-width="0.5" />
<line x1="246.38" y1="100.70" x2="246.38" y2="101.90" stroke="#000" stroke-width="0.5" />
<line x1="246.95" y1="100.70" x2="246.95" y2="101.90" stroke="#000" stroke-width="0.5" />
<line x1="247.45" y1="100.70" x2="247.45" y2="101.90" stroke="#000" stroke-width="0.5" />
<text x="234.40" y="110.80" font-size="5.0" fill="#4a4a4a" textLength="5.00" lengthAdjust="spacingAndGlyphs" >10</text>
<text x="240.10" y="108.70" font-size="3.6" fill="#4a4a4a" >4</text>
<line x1="247.90" y1="100.70" x2="247.90" y2="102.90" stroke="#000" stroke-width="0.8" />
<line x1="250.85" y1="100.70" x2="250.85" y2="101.90" stroke="#000" stroke-width="0.5" />
<line x1="252.58" y1="100.70" x2="252.58" y2="101.90" stroke="#000" stroke-width="0.5" />
<text x="244.20" y="110.80" font-size="5.0" fill="#4a4a4a" textLength="5.00" lengthAdjust="spacingAndGlyphs" >10</text>
<text x="249.90" y="108.70" font-size="3.6" fill="#4a4a4a" >5</text>
<line x1="205.75" y1="100.70" x2="205.75" y2="101.90" stroke="#000" stroke-width="0.5" />
<line x1="206.53" y1="100.70" x2="206.53" y2="101.90" stroke="#000" stroke-width="0.5" />
<line x1="207.18" y1="100.70" x2="207.18" y2="101.90" stroke="#000" stroke-width="0.5" />
<line x1="207.75" y1="100.70" x2="207.75" y2="101.90" stroke="#000" stroke-width="0.5" />
<line x1="208.25" y1="100.70" x2="208.25" y2="101.90" stroke="#000" stroke-width="0.5" />
<text x="184.10" y="75.80" font-size="8.3" text-anchor="middle" textLength="18.50" lengthAdjust="spacingAndGlyphs" transform="rotate(-90 184.10 75.80)" >Counts</text>
<text x="228.20" y="121.40" font-size="7.6" text-anchor="middle" textLength="30.20" lengthAdjust="spacingAndGlyphs" >pSTAT5-APC</text>
<text x="313.30" y="36.80" font-size="7.3" text-anchor="middle" textLength="22.20" lengthAdjust="spacingAndGlyphs" >PDX#4</text>
<text x="313.00" y="45.90" font-size="7.3" text-anchor="middle" textLength="17.70" lengthAdjust="spacingAndGlyphs" >T-LBL</text>
<path d="M288.90,99.77 L289.38,99.77 L289.87,99.77 L290.35,99.77 L290.84,99.77 L291.32,99.77 L291.80,99.77 L292.29,99.77 L292.77,99.77 L293.26,99.77 L293.74,99.77 L294.22,99.77 L294.71,99.77 L295.19,99.77 L295.68,99.77 L296.16,99.77 L296.64,99.77 L297.13,99.74 L297.61,99.70 L298.10,99.66 L298.58,99.60 L299.06,99.53 L299.55,99.44 L300.03,99.33 L300.52,99.18 L301.00,98.99 L301.48,98.74 L301.97,98.43 L302.45,98.02 L302.94,97.51 L303.42,96.87 L303.90,96.06 L304.39,95.07 L304.87,93.86 L305.36,92.40 L305.84,90.65 L306.32,88.59 L306.81,86.20 L307.29,83.46 L307.78,80.39 L308.26,77.01 L308.74,73.39 L309.23,69.63 L309.71,65.89 L310.20,62.40 L310.68,59.52 L311.16,58.12 L311.65,58.39 L312.13,60.47 L312.62,66.41 L313.10,76.56 L313.58,87.81 L314.07,95.70 L314.55,98.97 L315.04,99.70 L315.52,99.77 L316.00,99.77 L316.49,99.77 L316.97,99.77 L317.46,99.77 L317.94,99.77 L318.42,99.77 L318.91,99.77 L319.39,99.77 L319.88,99.77 L320.36,99.77 L320.84,99.77 L321.33,99.77 L321.81,99.77 L322.30,99.77 L322.78,99.77 L323.26,99.77 L323.75,99.77 L324.23,99.77 L324.72,99.77 L325.20,99.77 L325.68,99.77 L326.17,99.77 L326.65,99.77 L327.14,99.77 L327.62,99.77 L328.10,99.77 L328.59,99.77 L329.07,99.77 L329.56,99.77 L330.04,99.77 L330.52,99.77 L331.01,99.77 L331.49,99.77 L331.98,99.77 L332.46,99.77 L332.94,99.77 L333.43,99.77 L333.91,99.77 L334.40,99.77 L334.88,99.77 L335.36,99.77 L335.85,99.77 L336.33,99.77 L336.82,99.77 L337.30,99.77 L337.30,100.10 L288.90,100.10 Z" stroke="none" fill="rgba(53,83,138,0.47)" stroke-width="1" />
<path d="M288.90,99.77 L289.38,99.77 L289.87,99.77 L290.35,99.77 L290.84,99.77 L291.32,99.77 L291.80,99.77 L292.29,99.77 L292.77,99.77 L293.26,99.77 L293.74,99.77 L294.22,99.77 L294.71,99.77 L295.19,99.77 L295.68,99.77 L296.16,99.77 L296.64,99.77 L297.13,99.77 L297.61,99.77 L298.10,99.76 L298.58,99.75 L299.06,99.74 L299.55,99.72 L300.03,99.71 L300.52,99.69 L301.00,99.67 L301.48,99.65 L301.97,99.63 L302.45,99.61 L302.94,99.57 L303.42,99.54 L303.90,99.48 L304.39,99.42 L304.87,99.33 L305.36,99.22 L305.84,99.07 L306.32,98.88 L306.81,98.62 L307.29,98.29 L307.78,97.85 L308.26,97.29 L308.74,96.56 L309.23,95.63 L309.71,94.46 L310.20,92.99 L310.68,91.18 L311.16,88.96 L311.65,86.28 L312.13,83.10 L312.62,79.40 L313.10,75.22 L313.58,70.65 L314.07,65.95 L314.55,61.80 L315.04,61.18 L315.52,62.51 L316.00,65.55 L316.49,70.29 L316.97,76.20 L317.46,82.47 L317.94,88.21 L318.42,92.81 L318.91,96.04 L319.39,98.03 L319.88,99.11 L320.36,99.62 L320.84,99.77 L321.33,99.77 L321.81,99.77 L322.30,99.77 L322.78,99.77 L323.26,99.77 L323.75,99.77 L324.23,99.77 L324.72,99.77 L325.20,99.77 L325.68,99.77 L326.17,99.77 L326.65,99.77 L327.14,99.77 L327.62,99.77 L328.10,99.77 L328.59,99.77 L329.07,99.77 L329.56,99.77 L330.04,99.77 L330.52,99.77 L331.01,99.77 L331.49,99.77 L331.98,99.77 L332.46,99.77 L332.94,99.77 L333.43,99.77 L333.91,99.77 L334.40,99.77 L334.88,99.77 L335.36,99.77 L335.85,99.77 L336.33,99.77 L336.82,99.77 L337.30,99.77 L337.30,100.10 L288.90,100.10 Z" stroke="none" fill="rgba(150,0,15,0.48)" stroke-width="1" />
<path d="M288.90,99.77 L289.38,99.77 L289.87,99.77 L290.35,99.77 L290.84,99.77 L291.32,99.77 L291.80,99.77 L292.29,99.77 L292.77,99.77 L293.26,99.77 L293.74,99.77 L294.22,99.77 L294.71,99.77 L295.19,99.77 L295.68,99.77 L296.16,99.77 L296.64,99.77 L297.13,99.74 L297.61,99.70 L298.10,99.66 L298.58,99.60 L299.06,99.53 L299.55,99.44 L300.03,99.33 L300.52,99.18 L301.00,98.99 L301.48,98.74 L301.97,98.43 L302.45,98.02 L302.94,97.51 L303.42,96.87 L303.90,96.06 L304.39,95.07 L304.87,93.86 L305.36,92.40 L305.84,90.65 L306.32,88.59 L306.81,86.20 L307.29,83.46 L307.78,80.39 L308.26,77.01 L308.74,73.39 L309.23,69.63 L309.71,65.89 L310.20,62.40 L310.68,59.52 L311.16,58.12 L311.65,58.39 L312.13,60.47 L312.62,66.41 L313.10,76.56 L313.58,87.81 L314.07,95.70 L314.55,98.97 L315.04,99.70 L315.52,99.77 L316.00,99.77 L316.49,99.77 L316.97,99.77 L317.46,99.77 L317.94,99.77 L318.42,99.77 L318.91,99.77 L319.39,99.77 L319.88,99.77 L320.36,99.77 L320.84,99.77 L321.33,99.77 L321.81,99.77 L322.30,99.77 L322.78,99.77 L323.26,99.77 L323.75,99.77 L324.23,99.77 L324.72,99.77 L325.20,99.77 L325.68,99.77 L326.17,99.77 L326.65,99.77 L327.14,99.77 L327.62,99.77 L328.10,99.77 L328.59,99.77 L329.07,99.77 L329.56,99.77 L330.04,99.77 L330.52,99.77 L331.01,99.77 L331.49,99.77 L331.98,99.77 L332.46,99.77 L332.94,99.77 L333.43,99.77 L333.91,99.77 L334.40,99.77 L334.88,99.77 L335.36,99.77 L335.85,99.77 L336.33,99.77 L336.82,99.77 L337.30,99.77" stroke="#2a4781" fill="none" stroke-width="1.1" stroke-linejoin="round"/>
<path d="M288.90,99.77 L289.38,99.77 L289.87,99.77 L290.35,99.77 L290.84,99.77 L291.32,99.77 L291.80,99.77 L292.29,99.77 L292.77,99.77 L293.26,99.77 L293.74,99.77 L294.22,99.77 L294.71,99.77 L295.19,99.77 L295.68,99.77 L296.16,99.77 L296.64,99.77 L297.13,99.77 L297.61,99.77 L298.10,99.76 L298.58,99.75 L299.06,99.74 L299.55,99.72 L300.03,99.71 L300.52,99.69 L301.00,99.67 L301.48,99.65 L301.97,99.63 L302.45,99.61 L302.94,99.57 L303.42,99.54 L303.90,99.48 L304.39,99.42 L304.87,99.33 L305.36,99.22 L305.84,99.07 L306.32,98.88 L306.81,98.62 L307.29,98.29 L307.78,97.85 L308.26,97.29 L308.74,96.56 L309.23,95.63 L309.71,94.46 L310.20,92.99 L310.68,91.18 L311.16,88.96 L311.65,86.28 L312.13,83.10 L312.62,79.40 L313.10,75.22 L313.58,70.65 L314.07,65.95 L314.55,61.80 L315.04,61.18 L315.52,62.51 L316.00,65.55 L316.49,70.29 L316.97,76.20 L317.46,82.47 L317.94,88.21 L318.42,92.81 L318.91,96.04 L319.39,98.03 L319.88,99.11 L320.36,99.62 L320.84,99.77 L321.33,99.77 L321.81,99.77 L322.30,99.77 L322.78,99.77 L323.26,99.77 L323.75,99.77 L324.23,99.77 L324.72,99.77 L325.20,99.77 L325.68,99.77 L326.17,99.77 L326.65,99.77 L327.14,99.77 L327.62,99.77 L328.10,99.77 L328.59,99.77 L329.07,99.77 L329.56,99.77 L330.04,99.77 L330.52,99.77 L331.01,99.77 L331.49,99.77 L331.98,99.77 L332.46,99.77 L332.94,99.77 L333.43,99.77 L333.91,99.77 L334.40,99.77 L334.88,99.77 L335.36,99.77 L335.85,99.77 L336.33,99.77 L336.82,99.77 L337.30,99.77" stroke="#b8143f" fill="none" stroke-width="1.1" stroke-linejoin="round"/>
<path d="M288.30,51.20 L337.90,51.20 L337.90,100.70" fill="none" stroke="#000" stroke-width="1.1"/>
<line x1="288.30" y1="50.70" x2="288.30" y2="101.30" stroke="#000" stroke-width="1.5" />
<line x1="287.70" y1="100.70" x2="338.40" y2="100.70" stroke="#000" stroke-width="1.4" />
<line x1="285.30" y1="100.10" x2="288.30" y2="100.10" stroke="#000" stroke-width="0.9" />
<text x="282.10" y="102.00" font-size="5.4" text-anchor="end" textLength="2.60" lengthAdjust="spacingAndGlyphs" >0</text>
<line x1="286.70" y1="98.23" x2="288.30" y2="98.23" stroke="#000" stroke-width="0.6" />
<line x1="286.70" y1="96.36" x2="288.30" y2="96.36" stroke="#000" stroke-width="0.6" />
<line x1="286.70" y1="94.50" x2="288.30" y2="94.50" stroke="#000" stroke-width="0.6" />
<line x1="286.70" y1="92.63" x2="288.30" y2="92.63" stroke="#000" stroke-width="0.6" />
<line x1="285.30" y1="90.76" x2="288.30" y2="90.76" stroke="#000" stroke-width="0.9" />
<text x="282.10" y="92.66" font-size="5.4" text-anchor="end" textLength="5.40" lengthAdjust="spacingAndGlyphs" >20</text>
<line x1="286.70" y1="88.89" x2="288.30" y2="88.89" stroke="#000" stroke-width="0.6" />
<line x1="286.70" y1="87.02" x2="288.30" y2="87.02" stroke="#000" stroke-width="0.6" />
<line x1="286.70" y1="85.16" x2="288.30" y2="85.16" stroke="#000" stroke-width="0.6" />
<line x1="286.70" y1="83.29" x2="288.30" y2="83.29" stroke="#000" stroke-width="0.6" />
<line x1="285.30" y1="81.42" x2="288.30" y2="81.42" stroke="#000" stroke-width="0.9" />
<text x="282.10" y="83.32" font-size="5.4" text-anchor="end" textLength="5.40" lengthAdjust="spacingAndGlyphs" >40</text>
<line x1="286.70" y1="79.55" x2="288.30" y2="79.55" stroke="#000" stroke-width="0.6" />
<line x1="286.70" y1="77.68" x2="288.30" y2="77.68" stroke="#000" stroke-width="0.6" />
<line x1="286.70" y1="75.82" x2="288.30" y2="75.82" stroke="#000" stroke-width="0.6" />
<line x1="286.70" y1="73.95" x2="288.30" y2="73.95" stroke="#000" stroke-width="0.6" />
<line x1="285.30" y1="72.08" x2="288.30" y2="72.08" stroke="#000" stroke-width="0.9" />
<text x="282.10" y="73.98" font-size="5.4" text-anchor="end" textLength="5.40" lengthAdjust="spacingAndGlyphs" >60</text>
<line x1="286.70" y1="70.21" x2="288.30" y2="70.21" stroke="#000" stroke-width="0.6" />
<line x1="286.70" y1="68.34" x2="288.30" y2="68.34" stroke="#000" stroke-width="0.6" />
<line x1="286.70" y1="66.48" x2="288.30" y2="66.48" stroke="#000" stroke-width="0.6" />
<line x1="286.70" y1="64.61" x2="288.30" y2="64.61" stroke="#000" stroke-width="0.6" />
<line x1="285.30" y1="62.74" x2="288.30" y2="62.74" stroke="#000" stroke-width="0.9" />
<text x="282.10" y="64.64" font-size="5.4" text-anchor="end" textLength="5.40" lengthAdjust="spacingAndGlyphs" >80</text>
<line x1="286.70" y1="60.87" x2="288.30" y2="60.87" stroke="#000" stroke-width="0.6" />
<line x1="286.70" y1="59.00" x2="288.30" y2="59.00" stroke="#000" stroke-width="0.6" />
<line x1="286.70" y1="57.14" x2="288.30" y2="57.14" stroke="#000" stroke-width="0.6" />
<line x1="286.70" y1="55.27" x2="288.30" y2="55.27" stroke="#000" stroke-width="0.6" />
<line x1="285.30" y1="53.40" x2="288.30" y2="53.40" stroke="#000" stroke-width="0.9" />
<text x="282.10" y="55.30" font-size="5.4" text-anchor="end" textLength="7.80" lengthAdjust="spacingAndGlyphs" >100</text>
<line x1="293.80" y1="100.70" x2="293.80" y2="102.90" stroke="#000" stroke-width="0.8" />
<line x1="296.75" y1="100.70" x2="296.75" y2="101.90" stroke="#000" stroke-width="0.5" />
<line x1="298.48" y1="100.70" x2="298.48" y2="101.90" stroke="#000" stroke-width="0.5" />
<line x1="299.70" y1="100.70" x2="299.70" y2="101.90" stroke="#000" stroke-width="0.5" />
<line x1="300.65" y1="100.70" x2="300.65" y2="101.90" stroke="#000" stroke-width="0.5" />
<line x1="301.43" y1="100.70" x2="301.43" y2="101.90" stroke="#000" stroke-width="0.5" />
<line x1="302.08" y1="100.70" x2="302.08" y2="101.90" stroke="#000" stroke-width="0.5" />
<line x1="302.65" y1="100.70" x2="302.65" y2="101.90" stroke="#000" stroke-width="0.5" />
<line x1="303.15" y1="100.70" x2="303.15" y2="101.90" stroke="#000" stroke-width="0.5" />
<text x="290.10" y="110.80" font-size="5.0" fill="#4a4a4a" textLength="5.00" lengthAdjust="spacingAndGlyphs" >10</text>
<text x="295.80" y="108.70" font-size="3.6" fill="#4a4a4a" >1</text>
<line x1="303.60" y1="100.70" x2="303.60" y2="102.90" stroke="#000" stroke-width="0.8" />
<line x1="306.55" y1="100.70" x2="306.55" y2="101.90" stroke="#000" stroke-width="0.5" />
<line x1="308.28" y1="100.70" x2="308.28" y2="101.90" stroke="#000" stroke-width="0.5" />
<line x1="309.50" y1="100.70" x2="309.50" y2="101.90" stroke="#000" stroke-width="0.5" />
<line x1="310.45" y1="100.70" x2="310.45" y2="101.90" stroke="#000" stroke-width="0.5" />
<line x1="311.23" y1="100.70" x2="311.23" y2="101.90" stroke="#000" stroke-width="0.5" />
<line x1="311.88" y1="100.70" x2="311.88" y2="101.90" stroke="#000" stroke-width="0.5" />
<line x1="312.45" y1="100.70" x2="312.45" y2="101.90" stroke="#000" stroke-width="0.5" />
<line x1="312.95" y1="100.70" x2="312.95" y2="101.90" stroke="#000" stroke-width="0.5" />
<text x="299.90" y="110.80" font-size="5.0" fill="#4a4a4a" textLength="5.00" lengthAdjust="spacingAndGlyphs" >10</text>
<text x="305.60" y="108.70" font-size="3.6" fill="#4a4a4a" >2</text>
<line x1="313.40" y1="100.70" x2="313.40" y2="102.90" stroke="#000" stroke-width="0.8" />
<line x1="316.35" y1="100.70" x2="316.35" y2="101.90" stroke="#000" stroke-width="0.5" />
<line x1="318.08" y1="100.70" x2="318.08" y2="101.90" stroke="#000" stroke-width="0.5" />
<line x1="319.30" y1="100.70" x2="319.30" y2="101.90" stroke="#000" stroke-width="0.5" />
<line x1="320.25" y1="100.70" x2="320.25" y2="101.90" stroke="#000" stroke-width="0.5" />
<line x1="321.03" y1="100.70" x2="321.03" y2="101.90" stroke="#000" stroke-width="0.5" />
<line x1="321.68" y1="100.70" x2="321.68" y2="101.90" stroke="#000" stroke-width="0.5" />
<line x1="322.25" y1="100.70" x2="322.25" y2="101.90" stroke="#000" stroke-width="0.5" />
<line x1="322.75" y1="100.70" x2="322.75" y2="101.90" stroke="#000" stroke-width="0.5" />
<text x="309.70" y="110.80" font-size="5.0" fill="#4a4a4a" textLength="5.00" lengthAdjust="spacingAndGlyphs" >10</text>
<text x="315.40" y="108.70" font-size="3.6" fill="#4a4a4a" >3</text>
<line x1="323.20" y1="100.70" x2="323.20" y2="102.90" stroke="#000" stroke-width="0.8" />
<line x1="326.15" y1="100.70" x2="326.15" y2="101.90" stroke="#000" stroke-width="0.5" />
<line x1="327.88" y1="100.70" x2="327.88" y2="101.90" stroke="#000" stroke-width="0.5" />
<line x1="329.10" y1="100.70" x2="329.10" y2="101.90" stroke="#000" stroke-width="0.5" />
<line x1="330.05" y1="100.70" x2="330.05" y2="101.90" stroke="#000" stroke-width="0.5" />
<line x1="330.83" y1="100.70" x2="330.83" y2="101.90" stroke="#000" stroke-width="0.5" />
<line x1="331.48" y1="100.70" x2="331.48" y2="101.90" stroke="#000" stroke-width="0.5" />
<line x1="332.05" y1="100.70" x2="332.05" y2="101.90" stroke="#000" stroke-width="0.5" />
<line x1="332.55" y1="100.70" x2="332.55" y2="101.90" stroke="#000" stroke-width="0.5" />
<text x="319.50" y="110.80" font-size="5.0" fill="#4a4a4a" textLength="5.00" lengthAdjust="spacingAndGlyphs" >10</text>
<text x="325.20" y="108.70" font-size="3.6" fill="#4a4a4a" >4</text>
<line x1="333.00" y1="100.70" x2="333.00" y2="102.90" stroke="#000" stroke-width="0.8" />
<line x1="335.95" y1="100.70" x2="335.95" y2="101.90" stroke="#000" stroke-width="0.5" />
<line x1="337.68" y1="100.70" x2="337.68" y2="101.90" stroke="#000" stroke-width="0.5" />
<text x="329.30" y="110.80" font-size="5.0" fill="#4a4a4a" textLength="5.00" lengthAdjust="spacingAndGlyphs" >10</text>
<text x="335.00" y="108.70" font-size="3.6" fill="#4a4a4a" >5</text>
<line x1="290.85" y1="100.70" x2="290.85" y2="101.90" stroke="#000" stroke-width="0.5" />
<line x1="291.63" y1="100.70" x2="291.63" y2="101.90" stroke="#000" stroke-width="0.5" />
<line x1="292.28" y1="100.70" x2="292.28" y2="101.90" stroke="#000" stroke-width="0.5" />
<line x1="292.85" y1="100.70" x2="292.85" y2="101.90" stroke="#000" stroke-width="0.5" />
<line x1="293.35" y1="100.70" x2="293.35" y2="101.90" stroke="#000" stroke-width="0.5" />
<text x="269.20" y="75.80" font-size="8.3" text-anchor="middle" textLength="18.50" lengthAdjust="spacingAndGlyphs" transform="rotate(-90 269.20 75.80)" >Counts</text>
<text x="313.30" y="121.40" font-size="7.6" text-anchor="middle" textLength="30.20" lengthAdjust="spacingAndGlyphs" >pSTAT5-APC</text>
<text x="398.40" y="36.80" font-size="7.3" text-anchor="middle" textLength="22.20" lengthAdjust="spacingAndGlyphs" >PDX#5</text>
<text x="398.10" y="45.90" font-size="7.3" text-anchor="middle" textLength="17.70" lengthAdjust="spacingAndGlyphs" >T-ALL</text>
<path d="M374.00,99.77 L374.48,99.77 L374.97,99.77 L375.45,99.77 L375.94,99.77 L376.42,99.77 L376.90,99.77 L377.39,99.77 L377.87,99.77 L378.36,99.77 L378.84,99.77 L379.32,99.77 L379.81,99.77 L380.29,99.77 L380.78,99.77 L381.26,99.77 L381.74,99.77 L382.23,99.76 L382.71,99.74 L383.20,99.71 L383.68,99.67 L384.16,99.62 L384.65,99.56 L385.13,99.48 L385.62,99.37 L386.10,99.24 L386.58,99.06 L387.07,98.83 L387.55,98.52 L388.04,98.13 L388.52,97.63 L389.00,96.99 L389.49,96.19 L389.97,95.18 L390.46,93.93 L390.94,92.39 L391.42,90.55 L391.91,88.34 L392.39,85.75 L392.88,82.76 L393.36,79.37 L393.84,75.61 L394.33,71.54 L394.81,67.28 L395.30,63.01 L395.78,58.99 L396.26,55.64 L396.75,53.93 L397.23,54.16 L397.72,56.03 L398.20,61.56 L398.68,71.50 L399.17,83.52 L399.65,93.19 L400.14,98.09 L400.62,99.55 L401.10,99.77 L401.59,99.77 L402.07,99.77 L402.56,99.77 L403.04,99.77 L403.52,99.77 L404.01,99.77 L404.49,99.77 L404.98,99.77 L405.46,99.77 L405.94,99.77 L406.43,99.77 L406.91,99.77 L407.40,99.77 L407.88,99.77 L408.36,99.77 L408.85,99.77 L409.33,99.77 L409.82,99.77 L410.30,99.77 L410.78,99.77 L411.27,99.77 L411.75,99.77 L412.24,99.77 L412.72,99.77 L413.20,99.77 L413.69,99.77 L414.17,99.77 L414.66,99.77 L415.14,99.77 L415.62,99.77 L416.11,99.77 L416.59,99.77 L417.08,99.77 L417.56,99.77 L418.04,99.77 L418.53,99.77 L419.01,99.77 L419.50,99.77 L419.98,99.77 L420.46,99.77 L420.95,99.77 L421.43,99.77 L421.92,99.77 L422.40,99.77 L422.40,100.10 L374.00,100.10 Z" stroke="none" fill="rgba(53,83,138,0.47)" stroke-width="1" />
<path d="M374.00,99.77 L374.48,99.77 L374.97,99.77 L375.45,99.77 L375.94,99.77 L376.42,99.77 L376.90,99.77 L377.39,99.77 L377.87,99.77 L378.36,99.77 L378.84,99.77 L379.32,99.77 L379.81,99.77 L380.29,99.77 L380.78,99.77 L381.26,99.77 L381.74,99.74 L382.23,99.70 L382.71,99.66 L383.20,99.62 L383.68,99.56 L384.16,99.50 L384.65,99.42 L385.13,99.33 L385.62,99.22 L386.10,99.09 L386.58,98.93 L387.07,98.75 L387.55,98.52 L388.04,98.25 L388.52,97.93 L389.00,97.56 L389.49,97.11 L389.97,96.59 L390.46,95.98 L390.94,95.27 L391.42,94.45 L391.91,93.51 L392.39,92.44 L392.88,91.23 L393.36,89.86 L393.84,88.34 L394.33,86.66 L394.81,84.81 L395.30,82.81 L395.78,80.65 L396.26,78.36 L396.75,75.95 L397.23,73.45 L397.72,70.91 L398.20,68.36 L398.68,65.88 L399.17,63.52 L399.65,61.39 L400.14,59.58 L400.62,58.27 L401.10,57.79 L401.59,58.43 L402.07,60.60 L402.56,64.56 L403.04,70.06 L403.52,76.48 L404.01,82.94 L404.49,88.66 L404.98,93.13 L405.46,96.23 L405.94,98.13 L406.43,99.16 L406.91,99.65 L407.40,99.77 L407.88,99.77 L408.36,99.77 L408.85,99.77 L409.33,99.77 L409.82,99.77 L410.30,99.77 L410.78,99.77 L411.27,99.77 L411.75,99.77 L412.24,99.77 L412.72,99.77 L413.20,99.77 L413.69,99.77 L414.17,99.77 L414.66,99.77 L415.14,99.77 L415.62,99.77 L416.11,99.77 L416.59,99.77 L417.08,99.77 L417.56,99.77 L418.04,99.77 L418.53,99.77 L419.01,99.77 L419.50,99.77 L419.98,99.77 L420.46,99.77 L420.95,99.77 L421.43,99.77 L421.92,99.77 L422.40,99.77 L422.40,100.10 L374.00,100.10 Z" stroke="none" fill="rgba(150,0,15,0.48)" stroke-width="1" />
<path d="M374.00,99.77 L374.48,99.77 L374.97,99.77 L375.45,99.77 L375.94,99.77 L376.42,99.77 L376.90,99.77 L377.39,99.77 L377.87,99.77 L378.36,99.77 L378.84,99.77 L379.32,99.77 L379.81,99.77 L380.29,99.77 L380.78,99.77 L381.26,99.77 L381.74,99.77 L382.23,99.76 L382.71,99.74 L383.20,99.71 L383.68,99.67 L384.16,99.62 L384.65,99.56 L385.13,99.48 L385.62,99.37 L386.10,99.24 L386.58,99.06 L387.07,98.83 L387.55,98.52 L388.04,98.13 L388.52,97.63 L389.00,96.99 L389.49,96.19 L389.97,95.18 L390.46,93.93 L390.94,92.39 L391.42,90.55 L391.91,88.34 L392.39,85.75 L392.88,82.76 L393.36,79.37 L393.84,75.61 L394.33,71.54 L394.81,67.28 L395.30,63.01 L395.78,58.99 L396.26,55.64 L396.75,53.93 L397.23,54.16 L397.72,56.03 L398.20,61.56 L398.68,71.50 L399.17,83.52 L399.65,93.19 L400.14,98.09 L400.62,99.55 L401.10,99.77 L401.59,99.77 L402.07,99.77 L402.56,99.77 L403.04,99.77 L403.52,99.77 L404.01,99.77 L404.49,99.77 L404.98,99.77 L405.46,99.77 L405.94,99.77 L406.43,99.77 L406.91,99.77 L407.40,99.77 L407.88,99.77 L408.36,99.77 L408.85,99.77 L409.33,99.77 L409.82,99.77 L410.30,99.77 L410.78,99.77 L411.27,99.77 L411.75,99.77 L412.24,99.77 L412.72,99.77 L413.20,99.77 L413.69,99.77 L414.17,99.77 L414.66,99.77 L415.14,99.77 L415.62,99.77 L416.11,99.77 L416.59,99.77 L417.08,99.77 L417.56,99.77 L418.04,99.77 L418.53,99.77 L419.01,99.77 L419.50,99.77 L419.98,99.77 L420.46,99.77 L420.95,99.77 L421.43,99.77 L421.92,99.77 L422.40,99.77" stroke="#2a4781" fill="none" stroke-width="1.1" stroke-linejoin="round"/>
<path d="M374.00,99.77 L374.48,99.77 L374.97,99.77 L375.45,99.77 L375.94,99.77 L376.42,99.77 L376.90,99.77 L377.39,99.77 L377.87,99.77 L378.36,99.77 L378.84,99.77 L379.32,99.77 L379.81,99.77 L380.29,99.77 L380.78,99.77 L381.26,99.77 L381.74,99.74 L382.23,99.70 L382.71,99.66 L383.20,99.62 L383.68,99.56 L384.16,99.50 L384.65,99.42 L385.13,99.33 L385.62,99.22 L386.10,99.09 L386.58,98.93 L387.07,98.75 L387.55,98.52 L388.04,98.25 L388.52,97.93 L389.00,97.56 L389.49,97.11 L389.97,96.59 L390.46,95.98 L390.94,95.27 L391.42,94.45 L391.91,93.51 L392.39,92.44 L392.88,91.23 L393.36,89.86 L393.84,88.34 L394.33,86.66 L394.81,84.81 L395.30,82.81 L395.78,80.65 L396.26,78.36 L396.75,75.95 L397.23,73.45 L397.72,70.91 L398.20,68.36 L398.68,65.88 L399.17,63.52 L399.65,61.39 L400.14,59.58 L400.62,58.27 L401.10,57.79 L401.59,58.43 L402.07,60.60 L402.56,64.56 L403.04,70.06 L403.52,76.48 L404.01,82.94 L404.49,88.66 L404.98,93.13 L405.46,96.23 L405.94,98.13 L406.43,99.16 L406.91,99.65 L407.40,99.77 L407.88,99.77 L408.36,99.77 L408.85,99.77 L409.33,99.77 L409.82,99.77 L410.30,99.77 L410.78,99.77 L411.27,99.77 L411.75,99.77 L412.24,99.77 L412.72,99.77 L413.20,99.77 L413.69,99.77 L414.17,99.77 L414.66,99.77 L415.14,99.77 L415.62,99.77 L416.11,99.77 L416.59,99.77 L417.08,99.77 L417.56,99.77 L418.04,99.77 L418.53,99.77 L419.01,99.77 L419.50,99.77 L419.98,99.77 L420.46,99.77 L420.95,99.77 L421.43,99.77 L421.92,99.77 L422.40,99.77" stroke="#b8143f" fill="none" stroke-width="1.1" stroke-linejoin="round"/>
<path d="M373.40,51.20 L423.00,51.20 L423.00,100.70" fill="none" stroke="#000" stroke-width="1.1"/>
<line x1="373.40" y1="50.70" x2="373.40" y2="101.30" stroke="#000" stroke-width="1.5" />
<line x1="372.80" y1="100.70" x2="423.50" y2="100.70" stroke="#000" stroke-width="1.4" />
<line x1="370.40" y1="100.10" x2="373.40" y2="100.10" stroke="#000" stroke-width="0.9" />
<text x="367.20" y="102.00" font-size="5.4" text-anchor="end" textLength="2.60" lengthAdjust="spacingAndGlyphs" >0</text>
<line x1="371.80" y1="98.23" x2="373.40" y2="98.23" stroke="#000" stroke-width="0.6" />
<line x1="371.80" y1="96.36" x2="373.40" y2="96.36" stroke="#000" stroke-width="0.6" />
<line x1="371.80" y1="94.50" x2="373.40" y2="94.50" stroke="#000" stroke-width="0.6" />
<line x1="371.80" y1="92.63" x2="373.40" y2="92.63" stroke="#000" stroke-width="0.6" />
<line x1="370.40" y1="90.76" x2="373.40" y2="90.76" stroke="#000" stroke-width="0.9" />
<text x="367.20" y="92.66" font-size="5.4" text-anchor="end" textLength="5.40" lengthAdjust="spacingAndGlyphs" >20</text>
<line x1="371.80" y1="88.89" x2="373.40" y2="88.89" stroke="#000" stroke-width="0.6" />
<line x1="371.80" y1="87.02" x2="373.40" y2="87.02" stroke="#000" stroke-width="0.6" />
<line x1="371.80" y1="85.16" x2="373.40" y2="85.16" stroke="#000" stroke-width="0.6" />
<line x1="371.80" y1="83.29" x2="373.40" y2="83.29" stroke="#000" stroke-width="0.6" />
<line x1="370.40" y1="81.42" x2="373.40" y2="81.42" stroke="#000" stroke-width="0.9" />
<text x="367.20" y="83.32" font-size="5.4" text-anchor="end" textLength="5.40" lengthAdjust="spacingAndGlyphs" >40</text>
<line x1="371.80" y1="79.55" x2="373.40" y2="79.55" stroke="#000" stroke-width="0.6" />
<line x1="371.80" y1="77.68" x2="373.40" y2="77.68" stroke="#000" stroke-width="0.6" />
<line x1="371.80" y1="75.82" x2="373.40" y2="75.82" stroke="#000" stroke-width="0.6" />
<line x1="371.80" y1="73.95" x2="373.40" y2="73.95" stroke="#000" stroke-width="0.6" />
<line x1="370.40" y1="72.08" x2="373.40" y2="72.08" stroke="#000" stroke-width="0.9" />
<text x="367.20" y="73.98" font-size="5.4" text-anchor="end" textLength="5.40" lengthAdjust="spacingAndGlyphs" >60</text>
<line x1="371.80" y1="70.21" x2="373.40" y2="70.21" stroke="#000" stroke-width="0.6" />
<line x1="371.80" y1="68.34" x2="373.40" y2="68.34" stroke="#000" stroke-width="0.6" />
<line x1="371.80" y1="66.48" x2="373.40" y2="66.48" stroke="#000" stroke-width="0.6" />
<line x1="371.80" y1="64.61" x2="373.40" y2="64.61" stroke="#000" stroke-width="0.6" />
<line x1="370.40" y1="62.74" x2="373.40" y2="62.74" stroke="#000" stroke-width="0.9" />
<text x="367.20" y="64.64" font-size="5.4" text-anchor="end" textLength="5.40" lengthAdjust="spacingAndGlyphs" >80</text>
<line x1="371.80" y1="60.87" x2="373.40" y2="60.87" stroke="#000" stroke-width="0.6" />
<line x1="371.80" y1="59.00" x2="373.40" y2="59.00" stroke="#000" stroke-width="0.6" />
<line x1="371.80" y1="57.14" x2="373.40" y2="57.14" stroke="#000" stroke-width="0.6" />
<line x1="371.80" y1="55.27" x2="373.40" y2="55.27" stroke="#000" stroke-width="0.6" />
<line x1="370.40" y1="53.40" x2="373.40" y2="53.40" stroke="#000" stroke-width="0.9" />
<text x="367.20" y="55.30" font-size="5.4" text-anchor="end" textLength="7.80" lengthAdjust="spacingAndGlyphs" >100</text>
<line x1="378.90" y1="100.70" x2="378.90" y2="102.90" stroke="#000" stroke-width="0.8" />
<line x1="381.85" y1="100.70" x2="381.85" y2="101.90" stroke="#000" stroke-width="0.5" />
<line x1="383.58" y1="100.70" x2="383.58" y2="101.90" stroke="#000" stroke-width="0.5" />
<line x1="384.80" y1="100.70" x2="384.80" y2="101.90" stroke="#000" stroke-width="0.5" />
<line x1="385.75" y1="100.70" x2="385.75" y2="101.90" stroke="#000" stroke-width="0.5" />
<line x1="386.53" y1="100.70" x2="386.53" y2="101.90" stroke="#000" stroke-width="0.5" />
<line x1="387.18" y1="100.70" x2="387.18" y2="101.90" stroke="#000" stroke-width="0.5" />
<line x1="387.75" y1="100.70" x2="387.75" y2="101.90" stroke="#000" stroke-width="0.5" />
<line x1="388.25" y1="100.70" x2="388.25" y2="101.90" stroke="#000" stroke-width="0.5" />
<text x="375.20" y="110.80" font-size="5.0" fill="#4a4a4a" textLength="5.00" lengthAdjust="spacingAndGlyphs" >10</text>
<text x="380.90" y="108.70" font-size="3.6" fill="#4a4a4a" >1</text>
<line x1="388.70" y1="100.70" x2="388.70" y2="102.90" stroke="#000" stroke-width="0.8" />
<line x1="391.65" y1="100.70" x2="391.65" y2="101.90" stroke="#000" stroke-width="0.5" />
<line x1="393.38" y1="100.70" x2="393.38" y2="101.90" stroke="#000" stroke-width="0.5" />
<line x1="394.60" y1="100.70" x2="394.60" y2="101.90" stroke="#000" stroke-width="0.5" />
<line x1="395.55" y1="100.70" x2="395.55" y2="101.90" stroke="#000" stroke-width="0.5" />
<line x1="396.33" y1="100.70" x2="396.33" y2="101.90" stroke="#000" stroke-width="0.5" />
<line x1="396.98" y1="100.70" x2="396.98" y2="101.90" stroke="#000" stroke-width="0.5" />
<line x1="397.55" y1="100.70" x2="397.55" y2="101.90" stroke="#000" stroke-width="0.5" />
<line x1="398.05" y1="100.70" x2="398.05" y2="101.90" stroke="#000" stroke-width="0.5" />
<text x="385.00" y="110.80" font-size="5.0" fill="#4a4a4a" textLength="5.00" lengthAdjust="spacingAndGlyphs" >10</text>
<text x="390.70" y="108.70" font-size="3.6" fill="#4a4a4a" >2</text>
<line x1="398.50" y1="100.70" x2="398.50" y2="102.90" stroke="#000" stroke-width="0.8" />
<line x1="401.45" y1="100.70" x2="401.45" y2="101.90" stroke="#000" stroke-width="0.5" />
<line x1="403.18" y1="100.70" x2="403.18" y2="101.90" stroke="#000" stroke-width="0.5" />
<line x1="404.40" y1="100.70" x2="404.40" y2="101.90" stroke="#000" stroke-width="0.5" />
<line x1="405.35" y1="100.70" x2="405.35" y2="101.90" stroke="#000" stroke-width="0.5" />
<line x1="406.13" y1="100.70" x2="406.13" y2="101.90" stroke="#000" stroke-width="0.5" />
<line x1="406.78" y1="100.70" x2="406.78" y2="101.90" stroke="#000" stroke-width="0.5" />
<line x1="407.35" y1="100.70" x2="407.35" y2="101.90" stroke="#000" stroke-width="0.5" />
<line x1="407.85" y1="100.70" x2="407.85" y2="101.90" stroke="#000" stroke-width="0.5" />
<text x="394.80" y="110.80" font-size="5.0" fill="#4a4a4a" textLength="5.00" lengthAdjust="spacingAndGlyphs" >10</text>
<text x="400.50" y="108.70" font-size="3.6" fill="#4a4a4a" >3</text>
<line x1="408.30" y1="100.70" x2="408.30" y2="102.90" stroke="#000" stroke-width="0.8" />
<line x1="411.25" y1="100.70" x2="411.25" y2="101.90" stroke="#000" stroke-width="0.5" />
<line x1="412.98" y1="100.70" x2="412.98" y2="101.90" stroke="#000" stroke-width="0.5" />
<line x1="414.20" y1="100.70" x2="414.20" y2="101.90" stroke="#000" stroke-width="0.5" />
<line x1="415.15" y1="100.70" x2="415.15" y2="101.90" stroke="#000" stroke-width="0.5" />
<line x1="415.93" y1="100.70" x2="415.93" y2="101.90" stroke="#000" stroke-width="0.5" />
<line x1="416.58" y1="100.70" x2="416.58" y2="101.90" stroke="#000" stroke-width="0.5" />
<line x1="417.15" y1="100.70" x2="417.15" y2="101.90" stroke="#000" stroke-width="0.5" />
<line x1="417.65" y1="100.70" x2="417.65" y2="101.90" stroke="#000" stroke-width="0.5" />
<text x="404.60" y="110.80" font-size="5.0" fill="#4a4a4a" textLength="5.00" lengthAdjust="spacingAndGlyphs" >10</text>
<text x="410.30" y="108.70" font-size="3.6" fill="#4a4a4a" >4</text>
<line x1="418.10" y1="100.70" x2="418.10" y2="102.90" stroke="#000" stroke-width="0.8" />
<line x1="421.05" y1="100.70" x2="421.05" y2="101.90" stroke="#000" stroke-width="0.5" />
<line x1="422.78" y1="100.70" x2="422.78" y2="101.90" stroke="#000" stroke-width="0.5" />
<text x="414.40" y="110.80" font-size="5.0" fill="#4a4a4a" textLength="5.00" lengthAdjust="spacingAndGlyphs" >10</text>
<text x="420.10" y="108.70" font-size="3.6" fill="#4a4a4a" >5</text>
<line x1="375.95" y1="100.70" x2="375.95" y2="101.90" stroke="#000" stroke-width="0.5" />
<line x1="376.73" y1="100.70" x2="376.73" y2="101.90" stroke="#000" stroke-width="0.5" />
<line x1="377.38" y1="100.70" x2="377.38" y2="101.90" stroke="#000" stroke-width="0.5" />
<line x1="377.95" y1="100.70" x2="377.95" y2="101.90" stroke="#000" stroke-width="0.5" />
<line x1="378.45" y1="100.70" x2="378.45" y2="101.90" stroke="#000" stroke-width="0.5" />
<text x="354.30" y="75.80" font-size="8.3" text-anchor="middle" textLength="18.50" lengthAdjust="spacingAndGlyphs" transform="rotate(-90 354.30 75.80)" >Counts</text>
<text x="398.40" y="121.40" font-size="7.6" text-anchor="middle" textLength="30.20" lengthAdjust="spacingAndGlyphs" >pSTAT5-APC</text>
<text x="483.50" y="36.80" font-size="7.3" text-anchor="middle" textLength="22.20" lengthAdjust="spacingAndGlyphs" >PDX#6</text>
<text x="483.20" y="45.90" font-size="7.3" text-anchor="middle" textLength="17.70" lengthAdjust="spacingAndGlyphs" >T-ALL</text>
<path d="M459.10,99.77 L459.58,99.77 L460.07,99.77 L460.55,99.77 L461.04,99.77 L461.52,99.77 L462.00,99.77 L462.49,99.77 L462.97,99.77 L463.46,99.77 L463.94,99.77 L464.42,99.77 L464.91,99.77 L465.39,99.77 L465.88,99.77 L466.36,99.77 L466.84,99.77 L467.33,99.77 L467.81,99.77 L468.30,99.76 L468.78,99.75 L469.26,99.73 L469.75,99.71 L470.23,99.69 L470.72,99.67 L471.20,99.64 L471.68,99.61 L472.17,99.56 L472.65,99.51 L473.14,99.43 L473.62,99.33 L474.10,99.19 L474.59,99.01 L475.07,98.76 L475.56,98.44 L476.04,98.01 L476.52,97.46 L477.01,96.74 L477.49,95.83 L477.98,94.68 L478.46,93.25 L478.94,91.50 L479.43,89.39 L479.91,86.89 L480.40,83.99 L480.88,80.70 L481.36,77.07 L481.85,73.18 L482.33,69.19 L482.82,65.36 L483.30,62.06 L483.78,60.06 L484.27,60.20 L484.75,61.76 L485.24,66.73 L485.72,75.88 L486.20,86.76 L486.69,95.03 L487.17,98.79 L487.66,99.73 L488.14,99.77 L488.62,99.77 L489.11,99.77 L489.59,99.77 L490.08,99.77 L490.56,99.77 L491.04,99.77 L491.53,99.77 L492.01,99.77 L492.50,99.77 L492.98,99.77 L493.46,99.77 L493.95,99.77 L494.43,99.77 L494.92,99.77 L495.40,99.77 L495.88,99.77 L496.37,99.77 L496.85,99.77 L497.34,99.77 L497.82,99.77 L498.30,99.77 L498.79,99.77 L499.27,99.77 L499.76,99.77 L500.24,99.77 L500.72,99.77 L501.21,99.77 L501.69,99.77 L502.18,99.77 L502.66,99.77 L503.14,99.77 L503.63,99.77 L504.11,99.77 L504.60,99.77 L505.08,99.77 L505.56,99.77 L506.05,99.77 L506.53,99.77 L507.02,99.77 L507.50,99.77 L507.50,100.10 L459.10,100.10 Z" stroke="none" fill="rgba(53,83,138,0.47)" stroke-width="1" />
<path d="M459.10,99.77 L459.58,99.77 L460.07,99.77 L460.55,99.77 L461.04,99.77 L461.52,99.77 L462.00,99.77 L462.49,99.77 L462.97,99.77 L463.46,99.77 L463.94,99.77 L464.42,99.77 L464.91,99.77 L465.39,99.77 L465.88,99.75 L466.36,99.72 L466.84,99.68 L467.33,99.64 L467.81,99.59 L468.30,99.53 L468.78,99.46 L469.26,99.38 L469.75,99.29 L470.23,99.19 L470.72,99.06 L471.20,98.92 L471.68,98.75 L472.17,98.55 L472.65,98.32 L473.14,98.06 L473.62,97.75 L474.10,97.39 L474.59,96.98 L475.07,96.51 L475.56,95.97 L476.04,95.36 L476.52,94.67 L477.01,93.88 L477.49,93.00 L477.98,92.02 L478.46,90.93 L478.94,89.72 L479.43,88.39 L479.91,86.95 L480.40,85.37 L480.88,83.68 L481.36,81.87 L481.85,79.96 L482.33,77.94 L482.82,75.85 L483.30,73.69 L483.78,71.49 L484.27,69.30 L484.75,67.13 L485.24,65.05 L485.72,63.09 L486.20,61.34 L486.69,59.85 L487.17,58.75 L487.66,58.29 L488.14,58.73 L488.62,60.39 L489.11,63.58 L489.59,68.21 L490.08,73.86 L490.56,79.89 L491.04,85.61 L491.53,90.49 L492.01,94.21 L492.50,96.78 L492.98,98.37 L493.46,99.25 L493.95,99.69 L494.43,99.77 L494.92,99.77 L495.40,99.77 L495.88,99.77 L496.37,99.77 L496.85,99.77 L497.34,99.77 L497.82,99.77 L498.30,99.77 L498.79,99.77 L499.27,99.77 L499.76,99.77 L500.24,99.77 L500.72,99.77 L501.21,99.77 L501.69,99.77 L502.18,99.77 L502.66,99.77 L503.14,99.77 L503.63,99.77 L504.11,99.77 L504.60,99.77 L505.08,99.77 L505.56,99.77 L506.05,99.77 L506.53,99.77 L507.02,99.77 L507.50,99.77 L507.50,100.10 L459.10,100.10 Z" stroke="none" fill="rgba(150,0,15,0.48)" stroke-width="1" />
<path d="M459.10,99.77 L459.58,99.77 L460.07,99.77 L460.55,99.77 L461.04,99.77 L461.52,99.77 L462.00,99.77 L462.49,99.77 L462.97,99.77 L463.46,99.77 L463.94,99.77 L464.42,99.77 L464.91,99.77 L465.39,99.77 L465.88,99.77 L466.36,99.77 L466.84,99.77 L467.33,99.77 L467.81,99.77 L468.30,99.76 L468.78,99.75 L469.26,99.73 L469.75,99.71 L470.23,99.69 L470.72,99.67 L471.20,99.64 L471.68,99.61 L472.17,99.56 L472.65,99.51 L473.14,99.43 L473.62,99.33 L474.10,99.19 L474.59,99.01 L475.07,98.76 L475.56,98.44 L476.04,98.01 L476.52,97.46 L477.01,96.74 L477.49,95.83 L477.98,94.68 L478.46,93.25 L478.94,91.50 L479.43,89.39 L479.91,86.89 L480.40,83.99 L480.88,80.70 L481.36,77.07 L481.85,73.18 L482.33,69.19 L482.82,65.36 L483.30,62.06 L483.78,60.06 L484.27,60.20 L484.75,61.76 L485.24,66.73 L485.72,75.88 L486.20,86.76 L486.69,95.03 L487.17,98.79 L487.66,99.73 L488.14,99.77 L488.62,99.77 L489.11,99.77 L489.59,99.77 L490.08,99.77 L490.56,99.77 L491.04,99.77 L491.53,99.77 L492.01,99.77 L492.50,99.77 L492.98,99.77 L493.46,99.77 L493.95,99.77 L494.43,99.77 L494.92,99.77 L495.40,99.77 L495.88,99.77 L496.37,99.77 L496.85,99.77 L497.34,99.77 L497.82,99.77 L498.30,99.77 L498.79,99.77 L499.27,99.77 L499.76,99.77 L500.24,99.77 L500.72,99.77 L501.21,99.77 L501.69,99.77 L502.18,99.77 L502.66,99.77 L503.14,99.77 L503.63,99.77 L504.11,99.77 L504.60,99.77 L505.08,99.77 L505.56,99.77 L506.05,99.77 L506.53,99.77 L507.02,99.77 L507.50,99.77" stroke="#2a4781" fill="none" stroke-width="1.1" stroke-linejoin="round"/>
<path d="M459.10,99.77 L459.58,99.77 L460.07,99.77 L460.55,99.77 L461.04,99.77 L461.52,99.77 L462.00,99.77 L462.49,99.77 L462.97,99.77 L463.46,99.77 L463.94,99.77 L464.42,99.77 L464.91,99.77 L465.39,99.77 L465.88,99.75 L466.36,99.72 L466.84,99.68 L467.33,99.64 L467.81,99.59 L468.30,99.53 L468.78,99.46 L469.26,99.38 L469.75,99.29 L470.23,99.19 L470.72,99.06 L471.20,98.92 L471.68,98.75 L472.17,98.55 L472.65,98.32 L473.14,98.06 L473.62,97.75 L474.10,97.39 L474.59,96.98 L475.07,96.51 L475.56,95.97 L476.04,95.36 L476.52,94.67 L477.01,93.88 L477.49,93.00 L477.98,92.02 L478.46,90.93 L478.94,89.72 L479.43,88.39 L479.91,86.95 L480.40,85.37 L480.88,83.68 L481.36,81.87 L481.85,79.96 L482.33,77.94 L482.82,75.85 L483.30,73.69 L483.78,71.49 L484.27,69.30 L484.75,67.13 L485.24,65.05 L485.72,63.09 L486.20,61.34 L486.69,59.85 L487.17,58.75 L487.66,58.29 L488.14,58.73 L488.62,60.39 L489.11,63.58 L489.59,68.21 L490.08,73.86 L490.56,79.89 L491.04,85.61 L491.53,90.49 L492.01,94.21 L492.50,96.78 L492.98,98.37 L493.46,99.25 L493.95,99.69 L494.43,99.77 L494.92,99.77 L495.40,99.77 L495.88,99.77 L496.37,99.77 L496.85,99.77 L497.34,99.77 L497.82,99.77 L498.30,99.77 L498.79,99.77 L499.27,99.77 L499.76,99.77 L500.24,99.77 L500.72,99.77 L501.21,99.77 L501.69,99.77 L502.18,99.77 L502.66,99.77 L503.14,99.77 L503.63,99.77 L504.11,99.77 L504.60,99.77 L505.08,99.77 L505.56,99.77 L506.05,99.77 L506.53,99.77 L507.02,99.77 L507.50,99.77" stroke="#b8143f" fill="none" stroke-width="1.1" stroke-linejoin="round"/>
<path d="M458.50,51.20 L508.10,51.20 L508.10,100.70" fill="none" stroke="#000" stroke-width="1.1"/>
<line x1="458.50" y1="50.70" x2="458.50" y2="101.30" stroke="#000" stroke-width="1.5" />
<line x1="457.90" y1="100.70" x2="508.60" y2="100.70" stroke="#000" stroke-width="1.4" />
<line x1="455.50" y1="100.10" x2="458.50" y2="100.10" stroke="#000" stroke-width="0.9" />
<text x="452.30" y="102.00" font-size="5.4" text-anchor="end" textLength="2.60" lengthAdjust="spacingAndGlyphs" >0</text>
<line x1="456.90" y1="98.23" x2="458.50" y2="98.23" stroke="#000" stroke-width="0.6" />
<line x1="456.90" y1="96.36" x2="458.50" y2="96.36" stroke="#000" stroke-width="0.6" />
<line x1="456.90" y1="94.50" x2="458.50" y2="94.50" stroke="#000" stroke-width="0.6" />
<line x1="456.90" y1="92.63" x2="458.50" y2="92.63" stroke="#000" stroke-width="0.6" />
<line x1="455.50" y1="90.76" x2="458.50" y2="90.76" stroke="#000" stroke-width="0.9" />
<text x="452.30" y="92.66" font-size="5.4" text-anchor="end" textLength="5.40" lengthAdjust="spacingAndGlyphs" >20</text>
<line x1="456.90" y1="88.89" x2="458.50" y2="88.89" stroke="#000" stroke-width="0.6" />
<line x1="456.90" y1="87.02" x2="458.50" y2="87.02" stroke="#000" stroke-width="0.6" />
<line x1="456.90" y1="85.16" x2="458.50" y2="85.16" stroke="#000" stroke-width="0.6" />
<line x1="456.90" y1="83.29" x2="458.50" y2="83.29" stroke="#000" stroke-width="0.6" />
<line x1="455.50" y1="81.42" x2="458.50" y2="81.42" stroke="#000" stroke-width="0.9" />
<text x="452.30" y="83.32" font-size="5.4" text-anchor="end" textLength="5.40" lengthAdjust="spacingAndGlyphs" >40</text>
<line x1="456.90" y1="79.55" x2="458.50" y2="79.55" stroke="#000" stroke-width="0.6" />
<line x1="456.90" y1="77.68" x2="458.50" y2="77.68" stroke="#000" stroke-width="0.6" />
<line x1="456.90" y1="75.82" x2="458.50" y2="75.82" stroke="#000" stroke-width="0.6" />
<line x1="456.90" y1="73.95" x2="458.50" y2="73.95" stroke="#000" stroke-width="0.6" />
<line x1="455.50" y1="72.08" x2="458.50" y2="72.08" stroke="#000" stroke-width="0.9" />
<text x="452.30" y="73.98" font-size="5.4" text-anchor="end" textLength="5.40" lengthAdjust="spacingAndGlyphs" >60</text>
<line x1="456.90" y1="70.21" x2="458.50" y2="70.21" stroke="#000" stroke-width="0.6" />
<line x1="456.90" y1="68.34" x2="458.50" y2="68.34" stroke="#000" stroke-width="0.6" />
<line x1="456.90" y1="66.48" x2="458.50" y2="66.48" stroke="#000" stroke-width="0.6" />
<line x1="456.90" y1="64.61" x2="458.50" y2="64.61" stroke="#000" stroke-width="0.6" />
<line x1="455.50" y1="62.74" x2="458.50" y2="62.74" stroke="#000" stroke-width="0.9" />
<text x="452.30" y="64.64" font-size="5.4" text-anchor="end" textLength="5.40" lengthAdjust="spacingAndGlyphs" >80</text>
<line x1="456.90" y1="60.87" x2="458.50" y2="60.87" stroke="#000" stroke-width="0.6" />
<line x1="456.90" y1="59.00" x2="458.50" y2="59.00" stroke="#000" stroke-width="0.6" />
<line x1="456.90" y1="57.14" x2="458.50" y2="57.14" stroke="#000" stroke-width="0.6" />
<line x1="456.90" y1="55.27" x2="458.50" y2="55.27" stroke="#000" stroke-width="0.6" />
<line x1="455.50" y1="53.40" x2="458.50" y2="53.40" stroke="#000" stroke-width="0.9" />
<text x="452.30" y="55.30" font-size="5.4" text-anchor="end" textLength="7.80" lengthAdjust="spacingAndGlyphs" >100</text>
<line x1="464.00" y1="100.70" x2="464.00" y2="102.90" stroke="#000" stroke-width="0.8" />
<line x1="466.95" y1="100.70" x2="466.95" y2="101.90" stroke="#000" stroke-width="0.5" />
<line x1="468.68" y1="100.70" x2="468.68" y2="101.90" stroke="#000" stroke-width="0.5" />
<line x1="469.90" y1="100.70" x2="469.90" y2="101.90" stroke="#000" stroke-width="0.5" />
<line x1="470.85" y1="100.70" x2="470.85" y2="101.90" stroke="#000" stroke-width="0.5" />
<line x1="471.63" y1="100.70" x2="471.63" y2="101.90" stroke="#000" stroke-width="0.5" />
<line x1="472.28" y1="100.70" x2="472.28" y2="101.90" stroke="#000" stroke-width="0.5" />
<line x1="472.85" y1="100.70" x2="472.85" y2="101.90" stroke="#000" stroke-width="0.5" />
<line x1="473.35" y1="100.70" x2="473.35" y2="101.90" stroke="#000" stroke-width="0.5" />
<text x="460.30" y="110.80" font-size="5.0" fill="#4a4a4a" textLength="5.00" lengthAdjust="spacingAndGlyphs" >10</text>
<text x="466.00" y="108.70" font-size="3.6" fill="#4a4a4a" >1</text>
<line x1="473.80" y1="100.70" x2="473.80" y2="102.90" stroke="#000" stroke-width="0.8" />
<line x1="476.75" y1="100.70" x2="476.75" y2="101.90" stroke="#000" stroke-width="0.5" />
<line x1="478.48" y1="100.70" x2="478.48" y2="101.90" stroke="#000" stroke-width="0.5" />
<line x1="479.70" y1="100.70" x2="479.70" y2="101.90" stroke="#000" stroke-width="0.5" />
<line x1="480.65" y1="100.70" x2="480.65" y2="101.90" stroke="#000" stroke-width="0.5" />
<line x1="481.43" y1="100.70" x2="481.43" y2="101.90" stroke="#000" stroke-width="0.5" />
<line x1="482.08" y1="100.70" x2="482.08" y2="101.90" stroke="#000" stroke-width="0.5" />
<line x1="482.65" y1="100.70" x2="482.65" y2="101.90" stroke="#000" stroke-width="0.5" />
<line x1="483.15" y1="100.70" x2="483.15" y2="101.90" stroke="#000" stroke-width="0.5" />
<text x="470.10" y="110.80" font-size="5.0" fill="#4a4a4a" textLength="5.00" lengthAdjust="spacingAndGlyphs" >10</text>
<text x="475.80" y="108.70" font-size="3.6" fill="#4a4a4a" >2</text>
<line x1="483.60" y1="100.70" x2="483.60" y2="102.90" stroke="#000" stroke-width="0.8" />
<line x1="486.55" y1="100.70" x2="486.55" y2="101.90" stroke="#000" stroke-width="0.5" />
<line x1="488.28" y1="100.70" x2="488.28" y2="101.90" stroke="#000" stroke-width="0.5" />
<line x1="489.50" y1="100.70" x2="489.50" y2="101.90" stroke="#000" stroke-width="0.5" />
<line x1="490.45" y1="100.70" x2="490.45" y2="101.90" stroke="#000" stroke-width="0.5" />
<line x1="491.23" y1="100.70" x2="491.23" y2="101.90" stroke="#000" stroke-width="0.5" />
<line x1="491.88" y1="100.70" x2="491.88" y2="101.90" stroke="#000" stroke-width="0.5" />
<line x1="492.45" y1="100.70" x2="492.45" y2="101.90" stroke="#000" stroke-width="0.5" />
<line x1="492.95" y1="100.70" x2="492.95" y2="101.90" stroke="#000" stroke-width="0.5" />
<text x="479.90" y="110.80" font-size="5.0" fill="#4a4a4a" textLength="5.00" lengthAdjust="spacingAndGlyphs" >10</text>
<text x="485.60" y="108.70" font-size="3.6" fill="#4a4a4a" >3</text>
<line x1="493.40" y1="100.70" x2="493.40" y2="102.90" stroke="#000" stroke-width="0.8" />
<line x1="496.35" y1="100.70" x2="496.35" y2="101.90" stroke="#000" stroke-width="0.5" />
<line x1="498.08" y1="100.70" x2="498.08" y2="101.90" stroke="#000" stroke-width="0.5" />
<line x1="499.30" y1="100.70" x2="499.30" y2="101.90" stroke="#000" stroke-width="0.5" />
<line x1="500.25" y1="100.70" x2="500.25" y2="101.90" stroke="#000" stroke-width="0.5" />
<line x1="501.03" y1="100.70" x2="501.03" y2="101.90" stroke="#000" stroke-width="0.5" />
<line x1="501.68" y1="100.70" x2="501.68" y2="101.90" stroke="#000" stroke-width="0.5" />
<line x1="502.25" y1="100.70" x2="502.25" y2="101.90" stroke="#000" stroke-width="0.5" />
<line x1="502.75" y1="100.70" x2="502.75" y2="101.90" stroke="#000" stroke-width="0.5" />
<text x="489.70" y="110.80" font-size="5.0" fill="#4a4a4a" textLength="5.00" lengthAdjust="spacingAndGlyphs" >10</text>
<text x="495.40" y="108.70" font-size="3.6" fill="#4a4a4a" >4</text>
<line x1="503.20" y1="100.70" x2="503.20" y2="102.90" stroke="#000" stroke-width="0.8" />
<line x1="506.15" y1="100.70" x2="506.15" y2="101.90" stroke="#000" stroke-width="0.5" />
<line x1="507.88" y1="100.70" x2="507.88" y2="101.90" stroke="#000" stroke-width="0.5" />
<text x="499.50" y="110.80" font-size="5.0" fill="#4a4a4a" textLength="5.00" lengthAdjust="spacingAndGlyphs" >10</text>
<text x="505.20" y="108.70" font-size="3.6" fill="#4a4a4a" >5</text>
<line x1="461.05" y1="100.70" x2="461.05" y2="101.90" stroke="#000" stroke-width="0.5" />
<line x1="461.83" y1="100.70" x2="461.83" y2="101.90" stroke="#000" stroke-width="0.5" />
<line x1="462.48" y1="100.70" x2="462.48" y2="101.90" stroke="#000" stroke-width="0.5" />
<line x1="463.05" y1="100.70" x2="463.05" y2="101.90" stroke="#000" stroke-width="0.5" />
<line x1="463.55" y1="100.70" x2="463.55" y2="101.90" stroke="#000" stroke-width="0.5" />
<text x="439.40" y="75.80" font-size="8.3" text-anchor="middle" textLength="18.50" lengthAdjust="spacingAndGlyphs" transform="rotate(-90 439.40 75.80)" >Counts</text>
<text x="483.50" y="121.40" font-size="7.6" text-anchor="middle" textLength="30.20" lengthAdjust="spacingAndGlyphs" >pSTAT5-APC</text>
<text x="58.00" y="145.10" font-size="7.3" text-anchor="middle" textLength="22.20" lengthAdjust="spacingAndGlyphs" >PDX#7</text>
<text x="57.70" y="154.20" font-size="7.3" text-anchor="middle" textLength="17.70" lengthAdjust="spacingAndGlyphs" >T-LBL</text>
<path d="M33.60,207.57 L34.08,207.57 L34.57,207.57 L35.05,207.57 L35.54,207.57 L36.02,207.57 L36.50,207.57 L36.99,207.57 L37.47,207.57 L37.96,207.57 L38.44,207.55 L38.92,207.51 L39.41,207.45 L39.89,207.39 L40.38,207.31 L40.86,207.22 L41.34,207.11 L41.83,206.98 L42.31,206.83 L42.80,206.65 L43.28,206.43 L43.76,206.17 L44.25,205.86 L44.73,205.49 L45.22,205.05 L45.70,204.54 L46.18,203.92 L46.67,203.20 L47.15,202.36 L47.64,201.37 L48.12,200.23 L48.60,198.90 L49.09,197.37 L49.57,195.62 L50.06,193.62 L50.54,191.37 L51.02,188.85 L51.51,186.05 L51.99,182.98 L52.48,179.65 L52.96,176.12 L53.44,172.46 L53.93,168.82 L54.41,165.48 L54.90,163.60 L55.38,165.34 L55.86,169.90 L56.35,176.70 L56.83,184.47 L57.32,191.87 L57.80,197.92 L58.28,202.23 L58.77,204.91 L59.25,206.39 L59.74,207.11 L60.22,207.43 L60.70,207.56 L61.19,207.57 L61.67,207.57 L62.16,207.57 L62.64,207.57 L63.12,207.57 L63.61,207.57 L64.09,207.57 L64.58,207.57 L65.06,207.57 L65.54,207.57 L66.03,207.57 L66.51,207.57 L67.00,207.57 L67.48,207.57 L67.96,207.57 L68.45,207.57 L68.93,207.57 L69.42,207.57 L69.90,207.57 L70.38,207.57 L70.87,207.57 L71.35,207.57 L71.84,207.57 L72.32,207.57 L72.80,207.57 L73.29,207.57 L73.77,207.57 L74.26,207.57 L74.74,207.57 L75.22,207.57 L75.71,207.57 L76.19,207.57 L76.68,207.57 L77.16,207.57 L77.64,207.57 L78.13,207.57 L78.61,207.57 L79.10,207.57 L79.58,207.57 L80.06,207.57 L80.55,207.57 L81.03,207.57 L81.52,207.57 L82.00,207.57 L82.00,207.90 L33.60,207.90 Z" stroke="none" fill="rgba(53,83,138,0.47)" stroke-width="1" />
<path d="M33.60,207.57 L34.08,207.57 L34.57,207.57 L35.05,207.57 L35.54,207.57 L36.02,207.57 L36.50,207.57 L36.99,207.57 L37.47,207.57 L37.96,207.57 L38.44,207.57 L38.92,207.54 L39.41,207.49 L39.89,207.44 L40.38,207.37 L40.86,207.29 L41.34,207.19 L41.83,207.08 L42.31,206.94 L42.80,206.78 L43.28,206.58 L43.76,206.34 L44.25,206.06 L44.73,205.72 L45.22,205.31 L45.70,204.82 L46.18,204.25 L46.67,203.56 L47.15,202.75 L47.64,201.80 L48.12,200.69 L48.60,199.38 L49.09,197.88 L49.57,196.13 L50.06,194.14 L50.54,191.87 L51.02,189.32 L51.51,186.47 L51.99,183.32 L52.48,179.89 L52.96,176.24 L53.44,172.43 L53.93,168.62 L54.41,165.11 L54.90,163.14 L55.38,164.89 L55.86,169.50 L56.35,176.37 L56.83,184.22 L57.32,191.70 L57.80,197.82 L58.28,202.17 L58.77,204.89 L59.25,206.38 L59.74,207.11 L60.22,207.43 L60.70,207.56 L61.19,207.57 L61.67,207.57 L62.16,207.57 L62.64,207.57 L63.12,207.57 L63.61,207.57 L64.09,207.57 L64.58,207.57 L65.06,207.57 L65.54,207.57 L66.03,207.57 L66.51,207.57 L67.00,207.57 L67.48,207.57 L67.96,207.57 L68.45,207.57 L68.93,207.57 L69.42,207.57 L69.90,207.57 L70.38,207.57 L70.87,207.57 L71.35,207.57 L71.84,207.57 L72.32,207.57 L72.80,207.57 L73.29,207.57 L73.77,207.57 L74.26,207.57 L74.74,207.57 L75.22,207.57 L75.71,207.57 L76.19,207.57 L76.68,207.57 L77.16,207.57 L77.64,207.57 L78.13,207.57 L78.61,207.57 L79.10,207.57 L79.58,207.57 L80.06,207.57 L80.55,207.57 L81.03,207.57 L81.52,207.57 L82.00,207.57 L82.00,207.90 L33.60,207.90 Z" stroke="none" fill="rgba(150,0,15,0.48)" stroke-width="1" />
<path d="M33.60,207.57 L34.08,207.57 L34.57,207.57 L35.05,207.57 L35.54,207.57 L36.02,207.57 L36.50,207.57 L36.99,207.57 L37.47,207.57 L37.96,207.57 L38.44,207.55 L38.92,207.51 L39.41,207.45 L39.89,207.39 L40.38,207.31 L40.86,207.22 L41.34,207.11 L41.83,206.98 L42.31,206.83 L42.80,206.65 L43.28,206.43 L43.76,206.17 L44.25,205.86 L44.73,205.49 L45.22,205.05 L45.70,204.54 L46.18,203.92 L46.67,203.20 L47.15,202.36 L47.64,201.37 L48.12,200.23 L48.60,198.90 L49.09,197.37 L49.57,195.62 L50.06,193.62 L50.54,191.37 L51.02,188.85 L51.51,186.05 L51.99,182.98 L52.48,179.65 L52.96,176.12 L53.44,172.46 L53.93,168.82 L54.41,165.48 L54.90,163.60 L55.38,165.34 L55.86,169.90 L56.35,176.70 L56.83,184.47 L57.32,191.87 L57.80,197.92 L58.28,202.23 L58.77,204.91 L59.25,206.39 L59.74,207.11 L60.22,207.43 L60.70,207.56 L61.19,207.57 L61.67,207.57 L62.16,207.57 L62.64,207.57 L63.12,207.57 L63.61,207.57 L64.09,207.57 L64.58,207.57 L65.06,207.57 L65.54,207.57 L66.03,207.57 L66.51,207.57 L67.00,207.57 L67.48,207.57 L67.96,207.57 L68.45,207.57 L68.93,207.57 L69.42,207.57 L69.90,207.57 L70.38,207.57 L70.87,207.57 L71.35,207.57 L71.84,207.57 L72.32,207.57 L72.80,207.57 L73.29,207.57 L73.77,207.57 L74.26,207.57 L74.74,207.57 L75.22,207.57 L75.71,207.57 L76.19,207.57 L76.68,207.57 L77.16,207.57 L77.64,207.57 L78.13,207.57 L78.61,207.57 L79.10,207.57 L79.58,207.57 L80.06,207.57 L80.55,207.57 L81.03,207.57 L81.52,207.57 L82.00,207.57" stroke="#2a4781" fill="none" stroke-width="1.1" stroke-linejoin="round"/>
<path d="M33.60,207.57 L34.08,207.57 L34.57,207.57 L35.05,207.57 L35.54,207.57 L36.02,207.57 L36.50,207.57 L36.99,207.57 L37.47,207.57 L37.96,207.57 L38.44,207.57 L38.92,207.54 L39.41,207.49 L39.89,207.44 L40.38,207.37 L40.86,207.29 L41.34,207.19 L41.83,207.08 L42.31,206.94 L42.80,206.78 L43.28,206.58 L43.76,206.34 L44.25,206.06 L44.73,205.72 L45.22,205.31 L45.70,204.82 L46.18,204.25 L46.67,203.56 L47.15,202.75 L47.64,201.80 L48.12,200.69 L48.60,199.38 L49.09,197.88 L49.57,196.13 L50.06,194.14 L50.54,191.87 L51.02,189.32 L51.51,186.47 L51.99,183.32 L52.48,179.89 L52.96,176.24 L53.44,172.43 L53.93,168.62 L54.41,165.11 L54.90,163.14 L55.38,164.89 L55.86,169.50 L56.35,176.37 L56.83,184.22 L57.32,191.70 L57.80,197.82 L58.28,202.17 L58.77,204.89 L59.25,206.38 L59.74,207.11 L60.22,207.43 L60.70,207.56 L61.19,207.57 L61.67,207.57 L62.16,207.57 L62.64,207.57 L63.12,207.57 L63.61,207.57 L64.09,207.57 L64.58,207.57 L65.06,207.57 L65.54,207.57 L66.03,207.57 L66.51,207.57 L67.00,207.57 L67.48,207.57 L67.96,207.57 L68.45,207.57 L68.93,207.57 L69.42,207.57 L69.90,207.57 L70.38,207.57 L70.87,207.57 L71.35,207.57 L71.84,207.57 L72.32,207.57 L72.80,207.57 L73.29,207.57 L73.77,207.57 L74.26,207.57 L74.74,207.57 L75.22,207.57 L75.71,207.57 L76.19,207.57 L76.68,207.57 L77.16,207.57 L77.64,207.57 L78.13,207.57 L78.61,207.57 L79.10,207.57 L79.58,207.57 L80.06,207.57 L80.55,207.57 L81.03,207.57 L81.52,207.57 L82.00,207.57" stroke="#b8143f" fill="none" stroke-width="1.1" stroke-linejoin="round"/>
<path d="M33.00,159.00 L82.60,159.00 L82.60,208.50" fill="none" stroke="#000" stroke-width="1.1"/>
<line x1="33.00" y1="158.50" x2="33.00" y2="209.10" stroke="#000" stroke-width="1.5" />
<line x1="32.40" y1="208.50" x2="83.10" y2="208.50" stroke="#000" stroke-width="1.4" />
<line x1="30.00" y1="207.90" x2="33.00" y2="207.90" stroke="#000" stroke-width="0.9" />
<text x="26.80" y="209.80" font-size="5.4" text-anchor="end" textLength="2.60" lengthAdjust="spacingAndGlyphs" >0</text>
<line x1="31.40" y1="206.03" x2="33.00" y2="206.03" stroke="#000" stroke-width="0.6" />
<line x1="31.40" y1="204.16" x2="33.00" y2="204.16" stroke="#000" stroke-width="0.6" />
<line x1="31.40" y1="202.30" x2="33.00" y2="202.30" stroke="#000" stroke-width="0.6" />
<line x1="31.40" y1="200.43" x2="33.00" y2="200.43" stroke="#000" stroke-width="0.6" />
<line x1="30.00" y1="198.56" x2="33.00" y2="198.56" stroke="#000" stroke-width="0.9" />
<text x="26.80" y="200.46" font-size="5.4" text-anchor="end" textLength="5.40" lengthAdjust="spacingAndGlyphs" >20</text>
<line x1="31.40" y1="196.69" x2="33.00" y2="196.69" stroke="#000" stroke-width="0.6" />
<line x1="31.40" y1="194.82" x2="33.00" y2="194.82" stroke="#000" stroke-width="0.6" />
<line x1="31.40" y1="192.96" x2="33.00" y2="192.96" stroke="#000" stroke-width="0.6" />
<line x1="31.40" y1="191.09" x2="33.00" y2="191.09" stroke="#000" stroke-width="0.6" />
<line x1="30.00" y1="189.22" x2="33.00" y2="189.22" stroke="#000" stroke-width="0.9" />
<text x="26.80" y="191.12" font-size="5.4" text-anchor="end" textLength="5.40" lengthAdjust="spacingAndGlyphs" >40</text>
<line x1="31.40" y1="187.35" x2="33.00" y2="187.35" stroke="#000" stroke-width="0.6" />
<line x1="31.40" y1="185.48" x2="33.00" y2="185.48" stroke="#000" stroke-width="0.6" />
<line x1="31.40" y1="183.62" x2="33.00" y2="183.62" stroke="#000" stroke-width="0.6" />
<line x1="31.40" y1="181.75" x2="33.00" y2="181.75" stroke="#000" stroke-width="0.6" />
<line x1="30.00" y1="179.88" x2="33.00" y2="179.88" stroke="#000" stroke-width="0.9" />
<text x="26.80" y="181.78" font-size="5.4" text-anchor="end" textLength="5.40" lengthAdjust="spacingAndGlyphs" >60</text>
<line x1="31.40" y1="178.01" x2="33.00" y2="178.01" stroke="#000" stroke-width="0.6" />
<line x1="31.40" y1="176.14" x2="33.00" y2="176.14" stroke="#000" stroke-width="0.6" />
<line x1="31.40" y1="174.28" x2="33.00" y2="174.28" stroke="#000" stroke-width="0.6" />
<line x1="31.40" y1="172.41" x2="33.00" y2="172.41" stroke="#000" stroke-width="0.6" />
<line x1="30.00" y1="170.54" x2="33.00" y2="170.54" stroke="#000" stroke-width="0.9" />
<text x="26.80" y="172.44" font-size="5.4" text-anchor="end" textLength="5.40" lengthAdjust="spacingAndGlyphs" >80</text>
<line x1="31.40" y1="168.67" x2="33.00" y2="168.67" stroke="#000" stroke-width="0.6" />
<line x1="31.40" y1="166.80" x2="33.00" y2="166.80" stroke="#000" stroke-width="0.6" />
<line x1="31.40" y1="164.94" x2="33.00" y2="164.94" stroke="#000" stroke-width="0.6" />
<line x1="31.40" y1="163.07" x2="33.00" y2="163.07" stroke="#000" stroke-width="0.6" />
<line x1="30.00" y1="161.20" x2="33.00" y2="161.20" stroke="#000" stroke-width="0.9" />
<text x="26.80" y="163.10" font-size="5.4" text-anchor="end" textLength="7.80" lengthAdjust="spacingAndGlyphs" >100</text>
<line x1="38.50" y1="208.50" x2="38.50" y2="210.70" stroke="#000" stroke-width="0.8" />
<line x1="41.45" y1="208.50" x2="41.45" y2="209.70" stroke="#000" stroke-width="0.5" />
<line x1="43.18" y1="208.50" x2="43.18" y2="209.70" stroke="#000" stroke-width="0.5" />
<line x1="44.40" y1="208.50" x2="44.40" y2="209.70" stroke="#000" stroke-width="0.5" />
<line x1="45.35" y1="208.50" x2="45.35" y2="209.70" stroke="#000" stroke-width="0.5" />
<line x1="46.13" y1="208.50" x2="46.13" y2="209.70" stroke="#000" stroke-width="0.5" />
<line x1="46.78" y1="208.50" x2="46.78" y2="209.70" stroke="#000" stroke-width="0.5" />
<line x1="47.35" y1="208.50" x2="47.35" y2="209.70" stroke="#000" stroke-width="0.5" />
<line x1="47.85" y1="208.50" x2="47.85" y2="209.70" stroke="#000" stroke-width="0.5" />
<text x="34.80" y="219.40" font-size="5.0" fill="#4a4a4a" textLength="5.00" lengthAdjust="spacingAndGlyphs" >10</text>
<text x="40.50" y="217.30" font-size="3.6" fill="#4a4a4a" >1</text>
<line x1="48.30" y1="208.50" x2="48.30" y2="210.70" stroke="#000" stroke-width="0.8" />
<line x1="51.25" y1="208.50" x2="51.25" y2="209.70" stroke="#000" stroke-width="0.5" />
<line x1="52.98" y1="208.50" x2="52.98" y2="209.70" stroke="#000" stroke-width="0.5" />
<line x1="54.20" y1="208.50" x2="54.20" y2="209.70" stroke="#000" stroke-width="0.5" />
<line x1="55.15" y1="208.50" x2="55.15" y2="209.70" stroke="#000" stroke-width="0.5" />
<line x1="55.93" y1="208.50" x2="55.93" y2="209.70" stroke="#000" stroke-width="0.5" />
<line x1="56.58" y1="208.50" x2="56.58" y2="209.70" stroke="#000" stroke-width="0.5" />
<line x1="57.15" y1="208.50" x2="57.15" y2="209.70" stroke="#000" stroke-width="0.5" />
<line x1="57.65" y1="208.50" x2="57.65" y2="209.70" stroke="#000" stroke-width="0.5" />
<text x="44.60" y="219.40" font-size="5.0" fill="#4a4a4a" textLength="5.00" lengthAdjust="spacingAndGlyphs" >10</text>
<text x="50.30" y="217.30" font-size="3.6" fill="#4a4a4a" >2</text>
<line x1="58.10" y1="208.50" x2="58.10" y2="210.70" stroke="#000" stroke-width="0.8" />
<line x1="61.05" y1="208.50" x2="61.05" y2="209.70" stroke="#000" stroke-width="0.5" />
<line x1="62.78" y1="208.50" x2="62.78" y2="209.70" stroke="#000" stroke-width="0.5" />
<line x1="64.00" y1="208.50" x2="64.00" y2="209.70" stroke="#000" stroke-width="0.5" />
<line x1="64.95" y1="208.50" x2="64.95" y2="209.70" stroke="#000" stroke-width="0.5" />
<line x1="65.73" y1="208.50" x2="65.73" y2="209.70" stroke="#000" stroke-width="0.5" />
<line x1="66.38" y1="208.50" x2="66.38" y2="209.70" stroke="#000" stroke-width="0.5" />
<line x1="66.95" y1="208.50" x2="66.95" y2="209.70" stroke="#000" stroke-width="0.5" />
<line x1="67.45" y1="208.50" x2="67.45" y2="209.70" stroke="#000" stroke-width="0.5" />
<text x="54.40" y="219.40" font-size="5.0" fill="#4a4a4a" textLength="5.00" lengthAdjust="spacingAndGlyphs" >10</text>
<text x="60.10" y="217.30" font-size="3.6" fill="#4a4a4a" >3</text>
<line x1="67.90" y1="208.50" x2="67.90" y2="210.70" stroke="#000" stroke-width="0.8" />
<line x1="70.85" y1="208.50" x2="70.85" y2="209.70" stroke="#000" stroke-width="0.5" />
<line x1="72.58" y1="208.50" x2="72.58" y2="209.70" stroke="#000" stroke-width="0.5" />
<line x1="73.80" y1="208.50" x2="73.80" y2="209.70" stroke="#000" stroke-width="0.5" />
<line x1="74.75" y1="208.50" x2="74.75" y2="209.70" stroke="#000" stroke-width="0.5" />
<line x1="75.53" y1="208.50" x2="75.53" y2="209.70" stroke="#000" stroke-width="0.5" />
<line x1="76.18" y1="208.50" x2="76.18" y2="209.70" stroke="#000" stroke-width="0.5" />
<line x1="76.75" y1="208.50" x2="76.75" y2="209.70" stroke="#000" stroke-width="0.5" />
<line x1="77.25" y1="208.50" x2="77.25" y2="209.70" stroke="#000" stroke-width="0.5" />
<text x="64.20" y="219.40" font-size="5.0" fill="#4a4a4a" textLength="5.00" lengthAdjust="spacingAndGlyphs" >10</text>
<text x="69.90" y="217.30" font-size="3.6" fill="#4a4a4a" >4</text>
<line x1="77.70" y1="208.50" x2="77.70" y2="210.70" stroke="#000" stroke-width="0.8" />
<line x1="80.65" y1="208.50" x2="80.65" y2="209.70" stroke="#000" stroke-width="0.5" />
<line x1="82.38" y1="208.50" x2="82.38" y2="209.70" stroke="#000" stroke-width="0.5" />
<text x="74.00" y="219.40" font-size="5.0" fill="#4a4a4a" textLength="5.00" lengthAdjust="spacingAndGlyphs" >10</text>
<text x="79.70" y="217.30" font-size="3.6" fill="#4a4a4a" >5</text>
<line x1="35.55" y1="208.50" x2="35.55" y2="209.70" stroke="#000" stroke-width="0.5" />
<line x1="36.33" y1="208.50" x2="36.33" y2="209.70" stroke="#000" stroke-width="0.5" />
<line x1="36.98" y1="208.50" x2="36.98" y2="209.70" stroke="#000" stroke-width="0.5" />
<line x1="37.55" y1="208.50" x2="37.55" y2="209.70" stroke="#000" stroke-width="0.5" />
<line x1="38.05" y1="208.50" x2="38.05" y2="209.70" stroke="#000" stroke-width="0.5" />
<text x="13.90" y="183.60" font-size="8.3" text-anchor="middle" textLength="18.50" lengthAdjust="spacingAndGlyphs" transform="rotate(-90 13.90 183.60)" >Counts</text>
<text x="58.00" y="230.00" font-size="7.6" text-anchor="middle" textLength="30.20" lengthAdjust="spacingAndGlyphs" >pSTAT5-APC</text>
<text x="143.10" y="145.10" font-size="7.3" text-anchor="middle" textLength="22.20" lengthAdjust="spacingAndGlyphs" >PDX#8</text>
<text x="142.80" y="154.20" font-size="7.3" text-anchor="middle" textLength="17.70" lengthAdjust="spacingAndGlyphs" >T-ALL</text>
<path d="M118.70,207.57 L119.18,207.56 L119.67,207.52 L120.15,207.47 L120.64,207.41 L121.12,207.34 L121.60,207.26 L122.09,207.17 L122.57,207.07 L123.06,206.96 L123.54,206.83 L124.02,206.68 L124.51,206.52 L124.99,206.33 L125.48,206.11 L125.96,205.87 L126.44,205.59 L126.93,205.28 L127.41,204.93 L127.90,204.52 L128.38,204.07 L128.86,203.56 L129.35,202.98 L129.83,202.32 L130.32,201.59 L130.80,200.77 L131.28,199.84 L131.77,198.81 L132.25,197.65 L132.74,196.36 L133.22,194.93 L133.70,193.35 L134.19,191.60 L134.67,189.67 L135.16,187.57 L135.64,185.27 L136.12,182.78 L136.61,180.10 L137.09,177.25 L137.58,174.25 L138.06,171.15 L138.54,168.06 L139.03,165.23 L139.51,164.51 L140.00,164.79 L140.48,166.00 L140.96,168.92 L141.45,174.12 L141.93,181.44 L142.42,189.77 L142.90,197.39 L143.38,202.88 L143.87,205.90 L144.35,207.14 L144.84,207.50 L145.32,207.57 L145.80,207.57 L146.29,207.57 L146.77,207.57 L147.26,207.57 L147.74,207.57 L148.22,207.57 L148.71,207.57 L149.19,207.57 L149.68,207.57 L150.16,207.57 L150.64,207.57 L151.13,207.57 L151.61,207.57 L152.10,207.57 L152.58,207.57 L153.06,207.57 L153.55,207.57 L154.03,207.57 L154.52,207.57 L155.00,207.57 L155.48,207.57 L155.97,207.57 L156.45,207.57 L156.94,207.57 L157.42,207.57 L157.90,207.57 L158.39,207.57 L158.87,207.57 L159.36,207.57 L159.84,207.57 L160.32,207.57 L160.81,207.57 L161.29,207.57 L161.78,207.57 L162.26,207.57 L162.74,207.57 L163.23,207.57 L163.71,207.57 L164.20,207.57 L164.68,207.57 L165.16,207.57 L165.65,207.57 L166.13,207.57 L166.62,207.57 L167.10,207.57 L167.10,207.90 L118.70,207.90 Z" stroke="none" fill="rgba(53,83,138,0.47)" stroke-width="1" />
<path d="M118.70,207.57 L119.18,207.57 L119.67,207.56 L120.15,207.51 L120.64,207.45 L121.12,207.39 L121.60,207.32 L122.09,207.24 L122.57,207.15 L123.06,207.05 L123.54,206.93 L124.02,206.79 L124.51,206.64 L124.99,206.46 L125.48,206.26 L125.96,206.03 L126.44,205.77 L126.93,205.47 L127.41,205.14 L127.90,204.75 L128.38,204.32 L128.86,203.82 L129.35,203.26 L129.83,202.63 L130.32,201.91 L130.80,201.10 L131.28,200.19 L131.77,199.17 L132.25,198.02 L132.74,196.74 L133.22,195.31 L133.70,193.72 L134.19,191.95 L134.67,190.00 L135.16,187.86 L135.64,185.52 L136.12,182.97 L136.61,180.22 L137.09,177.28 L137.58,174.17 L138.06,170.96 L138.54,167.75 L139.03,164.80 L139.51,164.04 L140.00,164.32 L140.48,165.55 L140.96,168.50 L141.45,173.75 L141.93,181.15 L142.42,189.58 L142.90,197.28 L143.38,202.83 L143.87,205.88 L144.35,207.13 L144.84,207.50 L145.32,207.57 L145.80,207.57 L146.29,207.57 L146.77,207.57 L147.26,207.57 L147.74,207.57 L148.22,207.57 L148.71,207.57 L149.19,207.57 L149.68,207.57 L150.16,207.57 L150.64,207.57 L151.13,207.57 L151.61,207.57 L152.10,207.57 L152.58,207.57 L153.06,207.57 L153.55,207.57 L154.03,207.57 L154.52,207.57 L155.00,207.57 L155.48,207.57 L155.97,207.57 L156.45,207.57 L156.94,207.57 L157.42,207.57 L157.90,207.57 L158.39,207.57 L158.87,207.57 L159.36,207.57 L159.84,207.57 L160.32,207.57 L160.81,207.57 L161.29,207.57 L161.78,207.57 L162.26,207.57 L162.74,207.57 L163.23,207.57 L163.71,207.57 L164.20,207.57 L164.68,207.57 L165.16,207.57 L165.65,207.57 L166.13,207.57 L166.62,207.57 L167.10,207.57 L167.10,207.90 L118.70,207.90 Z" stroke="none" fill="rgba(150,0,15,0.48)" stroke-width="1" />
<path d="M118.70,207.57 L119.18,207.56 L119.67,207.52 L120.15,207.47 L120.64,207.41 L121.12,207.34 L121.60,207.26 L122.09,207.17 L122.57,207.07 L123.06,206.96 L123.54,206.83 L124.02,206.68 L124.51,206.52 L124.99,206.33 L125.48,206.11 L125.96,205.87 L126.44,205.59 L126.93,205.28 L127.41,204.93 L127.90,204.52 L128.38,204.07 L128.86,203.56 L129.35,202.98 L129.83,202.32 L130.32,201.59 L130.80,200.77 L131.28,199.84 L131.77,198.81 L132.25,197.65 L132.74,196.36 L133.22,194.93 L133.70,193.35 L134.19,191.60 L134.67,189.67 L135.16,187.57 L135.64,185.27 L136.12,182.78 L136.61,180.10 L137.09,177.25 L137.58,174.25 L138.06,171.15 L138.54,168.06 L139.03,165.23 L139.51,164.51 L140.00,164.79 L140.48,166.00 L140.96,168.92 L141.45,174.12 L141.93,181.44 L142.42,189.77 L142.90,197.39 L143.38,202.88 L143.87,205.90 L144.35,207.14 L144.84,207.50 L145.32,207.57 L145.80,207.57 L146.29,207.57 L146.77,207.57 L147.26,207.57 L147.74,207.57 L148.22,207.57 L148.71,207.57 L149.19,207.57 L149.68,207.57 L150.16,207.57 L150.64,207.57 L151.13,207.57 L151.61,207.57 L152.10,207.57 L152.58,207.57 L153.06,207.57 L153.55,207.57 L154.03,207.57 L154.52,207.57 L155.00,207.57 L155.48,207.57 L155.97,207.57 L156.45,207.57 L156.94,207.57 L157.42,207.57 L157.90,207.57 L158.39,207.57 L158.87,207.57 L159.36,207.57 L159.84,207.57 L160.32,207.57 L160.81,207.57 L161.29,207.57 L161.78,207.57 L162.26,207.57 L162.74,207.57 L163.23,207.57 L163.71,207.57 L164.20,207.57 L164.68,207.57 L165.16,207.57 L165.65,207.57 L166.13,207.57 L166.62,207.57 L167.10,207.57" stroke="#2a4781" fill="none" stroke-width="1.1" stroke-linejoin="round"/>
<path d="M118.70,207.57 L119.18,207.57 L119.67,207.56 L120.15,207.51 L120.64,207.45 L121.12,207.39 L121.60,207.32 L122.09,207.24 L122.57,207.15 L123.06,207.05 L123.54,206.93 L124.02,206.79 L124.51,206.64 L124.99,206.46 L125.48,206.26 L125.96,206.03 L126.44,205.77 L126.93,205.47 L127.41,205.14 L127.90,204.75 L128.38,204.32 L128.86,203.82 L129.35,203.26 L129.83,202.63 L130.32,201.91 L130.80,201.10 L131.28,200.19 L131.77,199.17 L132.25,198.02 L132.74,196.74 L133.22,195.31 L133.70,193.72 L134.19,191.95 L134.67,190.00 L135.16,187.86 L135.64,185.52 L136.12,182.97 L136.61,180.22 L137.09,177.28 L137.58,174.17 L138.06,170.96 L138.54,167.75 L139.03,164.80 L139.51,164.04 L140.00,164.32 L140.48,165.55 L140.96,168.50 L141.45,173.75 L141.93,181.15 L142.42,189.58 L142.90,197.28 L143.38,202.83 L143.87,205.88 L144.35,207.13 L144.84,207.50 L145.32,207.57 L145.80,207.57 L146.29,207.57 L146.77,207.57 L147.26,207.57 L147.74,207.57 L148.22,207.57 L148.71,207.57 L149.19,207.57 L149.68,207.57 L150.16,207.57 L150.64,207.57 L151.13,207.57 L151.61,207.57 L152.10,207.57 L152.58,207.57 L153.06,207.57 L153.55,207.57 L154.03,207.57 L154.52,207.57 L155.00,207.57 L155.48,207.57 L155.97,207.57 L156.45,207.57 L156.94,207.57 L157.42,207.57 L157.90,207.57 L158.39,207.57 L158.87,207.57 L159.36,207.57 L159.84,207.57 L160.32,207.57 L160.81,207.57 L161.29,207.57 L161.78,207.57 L162.26,207.57 L162.74,207.57 L163.23,207.57 L163.71,207.57 L164.20,207.57 L164.68,207.57 L165.16,207.57 L165.65,207.57 L166.13,207.57 L166.62,207.57 L167.10,207.57" stroke="#b8143f" fill="none" stroke-width="1.1" stroke-linejoin="round"/>
<path d="M118.10,159.00 L167.70,159.00 L167.70,208.50" fill="none" stroke="#000" stroke-width="1.1"/>
<line x1="118.10" y1="158.50" x2="118.10" y2="209.10" stroke="#000" stroke-width="1.5" />
<line x1="117.50" y1="208.50" x2="168.20" y2="208.50" stroke="#000" stroke-width="1.4" />
<line x1="115.10" y1="207.90" x2="118.10" y2="207.90" stroke="#000" stroke-width="0.9" />
<text x="111.90" y="209.80" font-size="5.4" text-anchor="end" textLength="2.60" lengthAdjust="spacingAndGlyphs" >0</text>
<line x1="116.50" y1="206.03" x2="118.10" y2="206.03" stroke="#000" stroke-width="0.6" />
<line x1="116.50" y1="204.16" x2="118.10" y2="204.16" stroke="#000" stroke-width="0.6" />
<line x1="116.50" y1="202.30" x2="118.10" y2="202.30" stroke="#000" stroke-width="0.6" />
<line x1="116.50" y1="200.43" x2="118.10" y2="200.43" stroke="#000" stroke-width="0.6" />
<line x1="115.10" y1="198.56" x2="118.10" y2="198.56" stroke="#000" stroke-width="0.9" />
<text x="111.90" y="200.46" font-size="5.4" text-anchor="end" textLength="5.40" lengthAdjust="spacingAndGlyphs" >20</text>
<line x1="116.50" y1="196.69" x2="118.10" y2="196.69" stroke="#000" stroke-width="0.6" />
<line x1="116.50" y1="194.82" x2="118.10" y2="194.82" stroke="#000" stroke-width="0.6" />
<line x1="116.50" y1="192.96" x2="118.10" y2="192.96" stroke="#000" stroke-width="0.6" />
<line x1="116.50" y1="191.09" x2="118.10" y2="191.09" stroke="#000" stroke-width="0.6" />
<line x1="115.10" y1="189.22" x2="118.10" y2="189.22" stroke="#000" stroke-width="0.9" />
<text x="111.90" y="191.12" font-size="5.4" text-anchor="end" textLength="5.40" lengthAdjust="spacingAndGlyphs" >40</text>
<line x1="116.50" y1="187.35" x2="118.10" y2="187.35" stroke="#000" stroke-width="0.6" />
<line x1="116.50" y1="185.48" x2="118.10" y2="185.48" stroke="#000" stroke-width="0.6" />
<line x1="116.50" y1="183.62" x2="118.10" y2="183.62" stroke="#000" stroke-width="0.6" />
<line x1="116.50" y1="181.75" x2="118.10" y2="181.75" stroke="#000" stroke-width="0.6" />
<line x1="115.10" y1="179.88" x2="118.10" y2="179.88" stroke="#000" stroke-width="0.9" />
<text x="111.90" y="181.78" font-size="5.4" text-anchor="end" textLength="5.40" lengthAdjust="spacingAndGlyphs" >60</text>
<line x1="116.50" y1="178.01" x2="118.10" y2="178.01" stroke="#000" stroke-width="0.6" />
<line x1="116.50" y1="176.14" x2="118.10" y2="176.14" stroke="#000" stroke-width="0.6" />
<line x1="116.50" y1="174.28" x2="118.10" y2="174.28" stroke="#000" stroke-width="0.6" />
<line x1="116.50" y1="172.41" x2="118.10" y2="172.41" stroke="#000" stroke-width="0.6" />
<line x1="115.10" y1="170.54" x2="118.10" y2="170.54" stroke="#000" stroke-width="0.9" />
<text x="111.90" y="172.44" font-size="5.4" text-anchor="end" textLength="5.40" lengthAdjust="spacingAndGlyphs" >80</text>
<line x1="116.50" y1="168.67" x2="118.10" y2="168.67" stroke="#000" stroke-width="0.6" />
<line x1="116.50" y1="166.80" x2="118.10" y2="166.80" stroke="#000" stroke-width="0.6" />
<line x1="116.50" y1="164.94" x2="118.10" y2="164.94" stroke="#000" stroke-width="0.6" />
<line x1="116.50" y1="163.07" x2="118.10" y2="163.07" stroke="#000" stroke-width="0.6" />
<line x1="115.10" y1="161.20" x2="118.10" y2="161.20" stroke="#000" stroke-width="0.9" />
<text x="111.90" y="163.10" font-size="5.4" text-anchor="end" textLength="7.80" lengthAdjust="spacingAndGlyphs" >100</text>
<line x1="123.60" y1="208.50" x2="123.60" y2="210.70" stroke="#000" stroke-width="0.8" />
<line x1="126.55" y1="208.50" x2="126.55" y2="209.70" stroke="#000" stroke-width="0.5" />
<line x1="128.28" y1="208.50" x2="128.28" y2="209.70" stroke="#000" stroke-width="0.5" />
<line x1="129.50" y1="208.50" x2="129.50" y2="209.70" stroke="#000" stroke-width="0.5" />
<line x1="130.45" y1="208.50" x2="130.45" y2="209.70" stroke="#000" stroke-width="0.5" />
<line x1="131.23" y1="208.50" x2="131.23" y2="209.70" stroke="#000" stroke-width="0.5" />
<line x1="131.88" y1="208.50" x2="131.88" y2="209.70" stroke="#000" stroke-width="0.5" />
<line x1="132.45" y1="208.50" x2="132.45" y2="209.70" stroke="#000" stroke-width="0.5" />
<line x1="132.95" y1="208.50" x2="132.95" y2="209.70" stroke="#000" stroke-width="0.5" />
<text x="119.90" y="219.40" font-size="5.0" fill="#4a4a4a" textLength="5.00" lengthAdjust="spacingAndGlyphs" >10</text>
<text x="125.60" y="217.30" font-size="3.6" fill="#4a4a4a" >1</text>
<line x1="133.40" y1="208.50" x2="133.40" y2="210.70" stroke="#000" stroke-width="0.8" />
<line x1="136.35" y1="208.50" x2="136.35" y2="209.70" stroke="#000" stroke-width="0.5" />
<line x1="138.08" y1="208.50" x2="138.08" y2="209.70" stroke="#000" stroke-width="0.5" />
<line x1="139.30" y1="208.50" x2="139.30" y2="209.70" stroke="#000" stroke-width="0.5" />
<line x1="140.25" y1="208.50" x2="140.25" y2="209.70" stroke="#000" stroke-width="0.5" />
<line x1="141.03" y1="208.50" x2="141.03" y2="209.70" stroke="#000" stroke-width="0.5" />
<line x1="141.68" y1="208.50" x2="141.68" y2="209.70" stroke="#000" stroke-width="0.5" />
<line x1="142.25" y1="208.50" x2="142.25" y2="209.70" stroke="#000" stroke-width="0.5" />
<line x1="142.75" y1="208.50" x2="142.75" y2="209.70" stroke="#000" stroke-width="0.5" />
<text x="129.70" y="219.40" font-size="5.0" fill="#4a4a4a" textLength="5.00" lengthAdjust="spacingAndGlyphs" >10</text>
<text x="135.40" y="217.30" font-size="3.6" fill="#4a4a4a" >2</text>
<line x1="143.20" y1="208.50" x2="143.20" y2="210.70" stroke="#000" stroke-width="0.8" />
<line x1="146.15" y1="208.50" x2="146.15" y2="209.70" stroke="#000" stroke-width="0.5" />
<line x1="147.88" y1="208.50" x2="147.88" y2="209.70" stroke="#000" stroke-width="0.5" />
<line x1="149.10" y1="208.50" x2="149.10" y2="209.70" stroke="#000" stroke-width="0.5" />
<line x1="150.05" y1="208.50" x2="150.05" y2="209.70" stroke="#000" stroke-width="0.5" />
<line x1="150.83" y1="208.50" x2="150.83" y2="209.70" stroke="#000" stroke-width="0.5" />
<line x1="151.48" y1="208.50" x2="151.48" y2="209.70" stroke="#000" stroke-width="0.5" />
<line x1="152.05" y1="208.50" x2="152.05" y2="209.70" stroke="#000" stroke-width="0.5" />
<line x1="152.55" y1="208.50" x2="152.55" y2="209.70" stroke="#000" stroke-width="0.5" />
<text x="139.50" y="219.40" font-size="5.0" fill="#4a4a4a" textLength="5.00" lengthAdjust="spacingAndGlyphs" >10</text>
<text x="145.20" y="217.30" font-size="3.6" fill="#4a4a4a" >3</text>
<line x1="153.00" y1="208.50" x2="153.00" y2="210.70" stroke="#000" stroke-width="0.8" />
<line x1="155.95" y1="208.50" x2="155.95" y2="209.70" stroke="#000" stroke-width="0.5" />
<line x1="157.68" y1="208.50" x2="157.68" y2="209.70" stroke="#000" stroke-width="0.5" />
<line x1="158.90" y1="208.50" x2="158.90" y2="209.70" stroke="#000" stroke-width="0.5" />
<line x1="159.85" y1="208.50" x2="159.85" y2="209.70" stroke="#000" stroke-width="0.5" />
<line x1="160.63" y1="208.50" x2="160.63" y2="209.70" stroke="#000" stroke-width="0.5" />
<line x1="161.28" y1="208.50" x2="161.28" y2="209.70" stroke="#000" stroke-width="0.5" />
<line x1="161.85" y1="208.50" x2="161.85" y2="209.70" stroke="#000" stroke-width="0.5" />
<line x1="162.35" y1="208.50" x2="162.35" y2="209.70" stroke="#000" stroke-width="0.5" />
<text x="149.30" y="219.40" font-size="5.0" fill="#4a4a4a" textLength="5.00" lengthAdjust="spacingAndGlyphs" >10</text>
<text x="155.00" y="217.30" font-size="3.6" fill="#4a4a4a" >4</text>
<line x1="162.80" y1="208.50" x2="162.80" y2="210.70" stroke="#000" stroke-width="0.8" />
<line x1="165.75" y1="208.50" x2="165.75" y2="209.70" stroke="#000" stroke-width="0.5" />
<line x1="167.48" y1="208.50" x2="167.48" y2="209.70" stroke="#000" stroke-width="0.5" />
<text x="159.10" y="219.40" font-size="5.0" fill="#4a4a4a" textLength="5.00" lengthAdjust="spacingAndGlyphs" >10</text>
<text x="164.80" y="217.30" font-size="3.6" fill="#4a4a4a" >5</text>
<line x1="120.65" y1="208.50" x2="120.65" y2="209.70" stroke="#000" stroke-width="0.5" />
<line x1="121.43" y1="208.50" x2="121.43" y2="209.70" stroke="#000" stroke-width="0.5" />
<line x1="122.08" y1="208.50" x2="122.08" y2="209.70" stroke="#000" stroke-width="0.5" />
<line x1="122.65" y1="208.50" x2="122.65" y2="209.70" stroke="#000" stroke-width="0.5" />
<line x1="123.15" y1="208.50" x2="123.15" y2="209.70" stroke="#000" stroke-width="0.5" />
<text x="99.00" y="183.60" font-size="8.3" text-anchor="middle" textLength="18.50" lengthAdjust="spacingAndGlyphs" transform="rotate(-90 99.00 183.60)" >Counts</text>
<text x="139.60" y="230.00" font-size="7.6" text-anchor="middle" textLength="30.20" lengthAdjust="spacingAndGlyphs" >pSTAT5-APC</text>
<text x="228.20" y="145.10" font-size="7.3" text-anchor="middle" textLength="22.20" lengthAdjust="spacingAndGlyphs" >PDX#9</text>
<text x="227.90" y="154.20" font-size="7.3" text-anchor="middle" textLength="17.70" lengthAdjust="spacingAndGlyphs" >T-ALL</text>
<path d="M203.80,207.52 L204.28,207.47 L204.77,207.41 L205.25,207.35 L205.74,207.28 L206.22,207.20 L206.70,207.11 L207.19,207.01 L207.67,206.89 L208.16,206.76 L208.64,206.62 L209.12,206.46 L209.61,206.28 L210.09,206.08 L210.58,205.85 L211.06,205.60 L211.54,205.31 L212.03,205.00 L212.51,204.64 L213.00,204.24 L213.48,203.80 L213.96,203.30 L214.45,202.75 L214.93,202.14 L215.42,201.46 L215.90,200.70 L216.38,199.86 L216.87,198.93 L217.35,197.90 L217.84,196.76 L218.32,195.51 L218.80,194.14 L219.29,192.63 L219.77,190.99 L220.26,189.19 L220.74,187.25 L221.22,185.14 L221.71,182.88 L222.19,180.45 L222.68,177.87 L223.16,175.15 L223.64,172.32 L224.13,169.43 L224.61,166.56 L225.10,163.93 L225.58,163.14 L226.06,164.17 L226.55,168.66 L227.03,178.32 L227.52,191.07 L228.00,201.41 L228.48,206.24 L228.97,207.42 L229.45,207.56 L229.94,207.57 L230.42,207.57 L230.90,207.57 L231.39,207.57 L231.87,207.57 L232.36,207.57 L232.84,207.57 L233.32,207.57 L233.81,207.57 L234.29,207.57 L234.78,207.57 L235.26,207.57 L235.74,207.57 L236.23,207.57 L236.71,207.57 L237.20,207.57 L237.68,207.57 L238.16,207.57 L238.65,207.57 L239.13,207.57 L239.62,207.57 L240.10,207.57 L240.58,207.57 L241.07,207.57 L241.55,207.57 L242.04,207.57 L242.52,207.57 L243.00,207.57 L243.49,207.57 L243.97,207.57 L244.46,207.57 L244.94,207.57 L245.42,207.57 L245.91,207.57 L246.39,207.57 L246.88,207.57 L247.36,207.57 L247.84,207.57 L248.33,207.57 L248.81,207.57 L249.30,207.57 L249.78,207.57 L250.26,207.57 L250.75,207.57 L251.23,207.57 L251.72,207.57 L252.20,207.57 L252.20,207.90 L203.80,207.90 Z" stroke="none" fill="rgba(53,83,138,0.47)" stroke-width="1" />
<path d="M203.80,207.51 L204.28,207.46 L204.77,207.41 L205.25,207.34 L205.74,207.27 L206.22,207.19 L206.70,207.10 L207.19,207.00 L207.67,206.88 L208.16,206.75 L208.64,206.61 L209.12,206.45 L209.61,206.27 L210.09,206.06 L210.58,205.83 L211.06,205.58 L211.54,205.29 L212.03,204.97 L212.51,204.61 L213.00,204.21 L213.48,203.76 L213.96,203.26 L214.45,202.70 L214.93,202.08 L215.42,201.39 L215.90,200.63 L216.38,199.78 L216.87,198.84 L217.35,197.80 L217.84,196.65 L218.32,195.39 L218.80,194.00 L219.29,192.48 L219.77,190.81 L220.26,189.00 L220.74,187.04 L221.22,184.91 L221.71,182.62 L222.19,180.16 L222.68,177.56 L223.16,174.81 L223.64,171.95 L224.13,169.03 L224.61,166.13 L225.10,163.48 L225.58,162.68 L226.06,163.71 L226.55,168.25 L227.03,178.02 L227.52,190.90 L228.00,201.35 L228.48,206.23 L228.97,207.42 L229.45,207.56 L229.94,207.57 L230.42,207.57 L230.90,207.57 L231.39,207.57 L231.87,207.57 L232.36,207.57 L232.84,207.57 L233.32,207.57 L233.81,207.57 L234.29,207.57 L234.78,207.57 L235.26,207.57 L235.74,207.57 L236.23,207.57 L236.71,207.57 L237.20,207.57 L237.68,207.57 L238.16,207.57 L238.65,207.57 L239.13,207.57 L239.62,207.57 L240.10,207.57 L240.58,207.57 L241.07,207.57 L241.55,207.57 L242.04,207.57 L242.52,207.57 L243.00,207.57 L243.49,207.57 L243.97,207.57 L244.46,207.57 L244.94,207.57 L245.42,207.57 L245.91,207.57 L246.39,207.57 L246.88,207.57 L247.36,207.57 L247.84,207.57 L248.33,207.57 L248.81,207.57 L249.30,207.57 L249.78,207.57 L250.26,207.57 L250.75,207.57 L251.23,207.57 L251.72,207.57 L252.20,207.57 L252.20,207.90 L203.80,207.90 Z" stroke="none" fill="rgba(150,0,15,0.48)" stroke-width="1" />
<path d="M203.80,207.52 L204.28,207.47 L204.77,207.41 L205.25,207.35 L205.74,207.28 L206.22,207.20 L206.70,207.11 L207.19,207.01 L207.67,206.89 L208.16,206.76 L208.64,206.62 L209.12,206.46 L209.61,206.28 L210.09,206.08 L210.58,205.85 L211.06,205.60 L211.54,205.31 L212.03,205.00 L212.51,204.64 L213.00,204.24 L213.48,203.80 L213.96,203.30 L214.45,202.75 L214.93,202.14 L215.42,201.46 L215.90,200.70 L216.38,199.86 L216.87,198.93 L217.35,197.90 L217.84,196.76 L218.32,195.51 L218.80,194.14 L219.29,192.63 L219.77,190.99 L220.26,189.19 L220.74,187.25 L221.22,185.14 L221.71,182.88 L222.19,180.45 L222.68,177.87 L223.16,175.15 L223.64,172.32 L224.13,169.43 L224.61,166.56 L225.10,163.93 L225.58,163.14 L226.06,164.17 L226.55,168.66 L227.03,178.32 L227.52,191.07 L228.00,201.41 L228.48,206.24 L228.97,207.42 L229.45,207.56 L229.94,207.57 L230.42,207.57 L230.90,207.57 L231.39,207.57 L231.87,207.57 L232.36,207.57 L232.84,207.57 L233.32,207.57 L233.81,207.57 L234.29,207.57 L234.78,207.57 L235.26,207.57 L235.74,207.57 L236.23,207.57 L236.71,207.57 L237.20,207.57 L237.68,207.57 L238.16,207.57 L238.65,207.57 L239.13,207.57 L239.62,207.57 L240.10,207.57 L240.58,207.57 L241.07,207.57 L241.55,207.57 L242.04,207.57 L242.52,207.57 L243.00,207.57 L243.49,207.57 L243.97,207.57 L244.46,207.57 L244.94,207.57 L245.42,207.57 L245.91,207.57 L246.39,207.57 L246.88,207.57 L247.36,207.57 L247.84,207.57 L248.33,207.57 L248.81,207.57 L249.30,207.57 L249.78,207.57 L250.26,207.57 L250.75,207.57 L251.23,207.57 L251.72,207.57 L252.20,207.57" stroke="#2a4781" fill="none" stroke-width="1.1" stroke-linejoin="round"/>
<path d="M203.80,207.51 L204.28,207.46 L204.77,207.41 L205.25,207.34 L205.74,207.27 L206.22,207.19 L206.70,207.10 L207.19,207.00 L207.67,206.88 L208.16,206.75 L208.64,206.61 L209.12,206.45 L209.61,206.27 L210.09,206.06 L210.58,205.83 L211.06,205.58 L211.54,205.29 L212.03,204.97 L212.51,204.61 L213.00,204.21 L213.48,203.76 L213.96,203.26 L214.45,202.70 L214.93,202.08 L215.42,201.39 L215.90,200.63 L216.38,199.78 L216.87,198.84 L217.35,197.80 L217.84,196.65 L218.32,195.39 L218.80,194.00 L219.29,192.48 L219.77,190.81 L220.26,189.00 L220.74,187.04 L221.22,184.91 L221.71,182.62 L222.19,180.16 L222.68,177.56 L223.16,174.81 L223.64,171.95 L224.13,169.03 L224.61,166.13 L225.10,163.48 L225.58,162.68 L226.06,163.71 L226.55,168.25 L227.03,178.02 L227.52,190.90 L228.00,201.35 L228.48,206.23 L228.97,207.42 L229.45,207.56 L229.94,207.57 L230.42,207.57 L230.90,207.57 L231.39,207.57 L231.87,207.57 L232.36,207.57 L232.84,207.57 L233.32,207.57 L233.81,207.57 L234.29,207.57 L234.78,207.57 L235.26,207.57 L235.74,207.57 L236.23,207.57 L236.71,207.57 L237.20,207.57 L237.68,207.57 L238.16,207.57 L238.65,207.57 L239.13,207.57 L239.62,207.57 L240.10,207.57 L240.58,207.57 L241.07,207.57 L241.55,207.57 L242.04,207.57 L242.52,207.57 L243.00,207.57 L243.49,207.57 L243.97,207.57 L244.46,207.57 L244.94,207.57 L245.42,207.57 L245.91,207.57 L246.39,207.57 L246.88,207.57 L247.36,207.57 L247.84,207.57 L248.33,207.57 L248.81,207.57 L249.30,207.57 L249.78,207.57 L250.26,207.57 L250.75,207.57 L251.23,207.57 L251.72,207.57 L252.20,207.57" stroke="#b8143f" fill="none" stroke-width="1.1" stroke-linejoin="round"/>
<path d="M203.20,159.00 L252.80,159.00 L252.80,208.50" fill="none" stroke="#000" stroke-width="1.1"/>
<line x1="203.20" y1="158.50" x2="203.20" y2="209.10" stroke="#000" stroke-width="1.5" />
<line x1="202.60" y1="208.50" x2="253.30" y2="208.50" stroke="#000" stroke-width="1.4" />
<line x1="200.20" y1="207.90" x2="203.20" y2="207.90" stroke="#000" stroke-width="0.9" />
<text x="197.00" y="209.80" font-size="5.4" text-anchor="end" textLength="2.60" lengthAdjust="spacingAndGlyphs" >0</text>
<line x1="201.60" y1="206.03" x2="203.20" y2="206.03" stroke="#000" stroke-width="0.6" />
<line x1="201.60" y1="204.16" x2="203.20" y2="204.16" stroke="#000" stroke-width="0.6" />
<line x1="201.60" y1="202.30" x2="203.20" y2="202.30" stroke="#000" stroke-width="0.6" />
<line x1="201.60" y1="200.43" x2="203.20" y2="200.43" stroke="#000" stroke-width="0.6" />
<line x1="200.20" y1="198.56" x2="203.20" y2="198.56" stroke="#000" stroke-width="0.9" />
<text x="197.00" y="200.46" font-size="5.4" text-anchor="end" textLength="5.40" lengthAdjust="spacingAndGlyphs" >20</text>
<line x1="201.60" y1="196.69" x2="203.20" y2="196.69" stroke="#000" stroke-width="0.6" />
<line x1="201.60" y1="194.82" x2="203.20" y2="194.82" stroke="#000" stroke-width="0.6" />
<line x1="201.60" y1="192.96" x2="203.20" y2="192.96" stroke="#000" stroke-width="0.6" />
<line x1="201.60" y1="191.09" x2="203.20" y2="191.09" stroke="#000" stroke-width="0.6" />
<line x1="200.20" y1="189.22" x2="203.20" y2="189.22" stroke="#000" stroke-width="0.9" />
<text x="197.00" y="191.12" font-size="5.4" text-anchor="end" textLength="5.40" lengthAdjust="spacingAndGlyphs" >40</text>
<line x1="201.60" y1="187.35" x2="203.20" y2="187.35" stroke="#000" stroke-width="0.6" />
<line x1="201.60" y1="185.48" x2="203.20" y2="185.48" stroke="#000" stroke-width="0.6" />
<line x1="201.60" y1="183.62" x2="203.20" y2="183.62" stroke="#000" stroke-width="0.6" />
<line x1="201.60" y1="181.75" x2="203.20" y2="181.75" stroke="#000" stroke-width="0.6" />
<line x1="200.20" y1="179.88" x2="203.20" y2="179.88" stroke="#000" stroke-width="0.9" />
<text x="197.00" y="181.78" font-size="5.4" text-anchor="end" textLength="5.40" lengthAdjust="spacingAndGlyphs" >60</text>
<line x1="201.60" y1="178.01" x2="203.20" y2="178.01" stroke="#000" stroke-width="0.6" />
<line x1="201.60" y1="176.14" x2="203.20" y2="176.14" stroke="#000" stroke-width="0.6" />
<line x1="201.60" y1="174.28" x2="203.20" y2="174.28" stroke="#000" stroke-width="0.6" />
<line x1="201.60" y1="172.41" x2="203.20" y2="172.41" stroke="#000" stroke-width="0.6" />
<line x1="200.20" y1="170.54" x2="203.20" y2="170.54" stroke="#000" stroke-width="0.9" />
<text x="197.00" y="172.44" font-size="5.4" text-anchor="end" textLength="5.40" lengthAdjust="spacingAndGlyphs" >80</text>
<line x1="201.60" y1="168.67" x2="203.20" y2="168.67" stroke="#000" stroke-width="0.6" />
<line x1="201.60" y1="166.80" x2="203.20" y2="166.80" stroke="#000" stroke-width="0.6" />
<line x1="201.60" y1="164.94" x2="203.20" y2="164.94" stroke="#000" stroke-width="0.6" />
<line x1="201.60" y1="163.07" x2="203.20" y2="163.07" stroke="#000" stroke-width="0.6" />
<line x1="200.20" y1="161.20" x2="203.20" y2="161.20" stroke="#000" stroke-width="0.9" />
<text x="197.00" y="163.10" font-size="5.4" text-anchor="end" textLength="7.80" lengthAdjust="spacingAndGlyphs" >100</text>
<line x1="208.70" y1="208.50" x2="208.70" y2="210.70" stroke="#000" stroke-width="0.8" />
<line x1="211.65" y1="208.50" x2="211.65" y2="209.70" stroke="#000" stroke-width="0.5" />
<line x1="213.38" y1="208.50" x2="213.38" y2="209.70" stroke="#000" stroke-width="0.5" />
<line x1="214.60" y1="208.50" x2="214.60" y2="209.70" stroke="#000" stroke-width="0.5" />
<line x1="215.55" y1="208.50" x2="215.55" y2="209.70" stroke="#000" stroke-width="0.5" />
<line x1="216.33" y1="208.50" x2="216.33" y2="209.70" stroke="#000" stroke-width="0.5" />
<line x1="216.98" y1="208.50" x2="216.98" y2="209.70" stroke="#000" stroke-width="0.5" />
<line x1="217.55" y1="208.50" x2="217.55" y2="209.70" stroke="#000" stroke-width="0.5" />
<line x1="218.05" y1="208.50" x2="218.05" y2="209.70" stroke="#000" stroke-width="0.5" />
<text x="205.00" y="219.40" font-size="5.0" fill="#4a4a4a" textLength="5.00" lengthAdjust="spacingAndGlyphs" >10</text>
<text x="210.70" y="217.30" font-size="3.6" fill="#4a4a4a" >1</text>
<line x1="218.50" y1="208.50" x2="218.50" y2="210.70" stroke="#000" stroke-width="0.8" />
<line x1="221.45" y1="208.50" x2="221.45" y2="209.70" stroke="#000" stroke-width="0.5" />
<line x1="223.18" y1="208.50" x2="223.18" y2="209.70" stroke="#000" stroke-width="0.5" />
<line x1="224.40" y1="208.50" x2="224.40" y2="209.70" stroke="#000" stroke-width="0.5" />
<line x1="225.35" y1="208.50" x2="225.35" y2="209.70" stroke="#000" stroke-width="0.5" />
<line x1="226.13" y1="208.50" x2="226.13" y2="209.70" stroke="#000" stroke-width="0.5" />
<line x1="226.78" y1="208.50" x2="226.78" y2="209.70" stroke="#000" stroke-width="0.5" />
<line x1="227.35" y1="208.50" x2="227.35" y2="209.70" stroke="#000" stroke-width="0.5" />
<line x1="227.85" y1="208.50" x2="227.85" y2="209.70" stroke="#000" stroke-width="0.5" />
<text x="214.80" y="219.40" font-size="5.0" fill="#4a4a4a" textLength="5.00" lengthAdjust="spacingAndGlyphs" >10</text>
<text x="220.50" y="217.30" font-size="3.6" fill="#4a4a4a" >2</text>
<line x1="228.30" y1="208.50" x2="228.30" y2="210.70" stroke="#000" stroke-width="0.8" />
<line x1="231.25" y1="208.50" x2="231.25" y2="209.70" stroke="#000" stroke-width="0.5" />
<line x1="232.98" y1="208.50" x2="232.98" y2="209.70" stroke="#000" stroke-width="0.5" />
<line x1="234.20" y1="208.50" x2="234.20" y2="209.70" stroke="#000" stroke-width="0.5" />
<line x1="235.15" y1="208.50" x2="235.15" y2="209.70" stroke="#000" stroke-width="0.5" />
<line x1="235.93" y1="208.50" x2="235.93" y2="209.70" stroke="#000" stroke-width="0.5" />
<line x1="236.58" y1="208.50" x2="236.58" y2="209.70" stroke="#000" stroke-width="0.5" />
<line x1="237.15" y1="208.50" x2="237.15" y2="209.70" stroke="#000" stroke-width="0.5" />
<line x1="237.65" y1="208.50" x2="237.65" y2="209.70" stroke="#000" stroke-width="0.5" />
<text x="224.60" y="219.40" font-size="5.0" fill="#4a4a4a" textLength="5.00" lengthAdjust="spacingAndGlyphs" >10</text>
<text x="230.30" y="217.30" font-size="3.6" fill="#4a4a4a" >3</text>
<line x1="238.10" y1="208.50" x2="238.10" y2="210.70" stroke="#000" stroke-width="0.8" />
<line x1="241.05" y1="208.50" x2="241.05" y2="209.70" stroke="#000" stroke-width="0.5" />
<line x1="242.78" y1="208.50" x2="242.78" y2="209.70" stroke="#000" stroke-width="0.5" />
<line x1="244.00" y1="208.50" x2="244.00" y2="209.70" stroke="#000" stroke-width="0.5" />
<line x1="244.95" y1="208.50" x2="244.95" y2="209.70" stroke="#000" stroke-width="0.5" />
<line x1="245.73" y1="208.50" x2="245.73" y2="209.70" stroke="#000" stroke-width="0.5" />
<line x1="246.38" y1="208.50" x2="246.38" y2="209.70" stroke="#000" stroke-width="0.5" />
<line x1="246.95" y1="208.50" x2="246.95" y2="209.70" stroke="#000" stroke-width="0.5" />
<line x1="247.45" y1="208.50" x2="247.45" y2="209.70" stroke="#000" stroke-width="0.5" />
<text x="234.40" y="219.40" font-size="5.0" fill="#4a4a4a" textLength="5.00" lengthAdjust="spacingAndGlyphs" >10</text>
<text x="240.10" y="217.30" font-size="3.6" fill="#4a4a4a" >4</text>
<line x1="247.90" y1="208.50" x2="247.90" y2="210.70" stroke="#000" stroke-width="0.8" />
<line x1="250.85" y1="208.50" x2="250.85" y2="209.70" stroke="#000" stroke-width="0.5" />
<line x1="252.58" y1="208.50" x2="252.58" y2="209.70" stroke="#000" stroke-width="0.5" />
<text x="244.20" y="219.40" font-size="5.0" fill="#4a4a4a" textLength="5.00" lengthAdjust="spacingAndGlyphs" >10</text>
<text x="249.90" y="217.30" font-size="3.6" fill="#4a4a4a" >5</text>
<line x1="205.75" y1="208.50" x2="205.75" y2="209.70" stroke="#000" stroke-width="0.5" />
<line x1="206.53" y1="208.50" x2="206.53" y2="209.70" stroke="#000" stroke-width="0.5" />
<line x1="207.18" y1="208.50" x2="207.18" y2="209.70" stroke="#000" stroke-width="0.5" />
<line x1="207.75" y1="208.50" x2="207.75" y2="209.70" stroke="#000" stroke-width="0.5" />
<line x1="208.25" y1="208.50" x2="208.25" y2="209.70" stroke="#000" stroke-width="0.5" />
<text x="184.10" y="183.60" font-size="8.3" text-anchor="middle" textLength="18.50" lengthAdjust="spacingAndGlyphs" transform="rotate(-90 184.10 183.60)" >Counts</text>
<text x="228.20" y="230.00" font-size="7.6" text-anchor="middle" textLength="30.20" lengthAdjust="spacingAndGlyphs" >pSTAT5-APC</text>
<text x="313.30" y="145.10" font-size="7.3" text-anchor="middle" textLength="22.20" lengthAdjust="spacingAndGlyphs" >PDX#10</text>
<text x="313.00" y="154.20" font-size="7.3" text-anchor="middle" textLength="17.70" lengthAdjust="spacingAndGlyphs" >T-ALL</text>
<path d="M288.90,207.57 L289.38,207.57 L289.87,207.57 L290.35,207.57 L290.84,207.57 L291.32,207.57 L291.80,207.57 L292.29,207.54 L292.77,207.49 L293.26,207.44 L293.74,207.38 L294.22,207.31 L294.71,207.23 L295.19,207.14 L295.68,207.03 L296.16,206.91 L296.64,206.77 L297.13,206.61 L297.61,206.43 L298.10,206.21 L298.58,205.96 L299.06,205.68 L299.55,205.35 L300.03,204.97 L300.52,204.53 L301.00,204.03 L301.48,203.44 L301.97,202.78 L302.45,202.01 L302.94,201.14 L303.42,200.13 L303.90,198.99 L304.39,197.69 L304.87,196.21 L305.36,194.54 L305.84,192.66 L306.32,190.54 L306.81,188.17 L307.29,185.53 L307.78,182.62 L308.26,179.43 L308.74,175.98 L309.23,172.30 L309.71,168.49 L310.20,164.81 L310.68,163.62 L311.16,164.35 L311.65,166.84 L312.13,171.74 L312.62,178.94 L313.10,187.33 L313.58,195.25 L314.07,201.29 L314.55,204.96 L315.04,206.72 L315.52,207.37 L316.00,207.57 L316.49,207.57 L316.97,207.57 L317.46,207.57 L317.94,207.57 L318.42,207.57 L318.91,207.57 L319.39,207.57 L319.88,207.57 L320.36,207.57 L320.84,207.57 L321.33,207.57 L321.81,207.57 L322.30,207.57 L322.78,207.57 L323.26,207.57 L323.75,207.57 L324.23,207.57 L324.72,207.57 L325.20,207.57 L325.68,207.57 L326.17,207.57 L326.65,207.57 L327.14,207.57 L327.62,207.57 L328.10,207.57 L328.59,207.57 L329.07,207.57 L329.56,207.57 L330.04,207.57 L330.52,207.57 L331.01,207.57 L331.49,207.57 L331.98,207.57 L332.46,207.57 L332.94,207.57 L333.43,207.57 L333.91,207.57 L334.40,207.57 L334.88,207.57 L335.36,207.57 L335.85,207.57 L336.33,207.57 L336.82,207.57 L337.30,207.57 L337.30,207.90 L288.90,207.90 Z" stroke="none" fill="rgba(53,83,138,0.47)" stroke-width="1" />
<path d="M288.90,207.57 L289.38,207.57 L289.87,207.57 L290.35,207.57 L290.84,207.57 L291.32,207.57 L291.80,207.57 L292.29,207.54 L292.77,207.49 L293.26,207.44 L293.74,207.38 L294.22,207.31 L294.71,207.23 L295.19,207.14 L295.68,207.03 L296.16,206.91 L296.64,206.77 L297.13,206.61 L297.61,206.43 L298.10,206.21 L298.58,205.96 L299.06,205.68 L299.55,205.35 L300.03,204.97 L300.52,204.53 L301.00,204.03 L301.48,203.44 L301.97,202.78 L302.45,202.01 L302.94,201.14 L303.42,200.13 L303.90,198.99 L304.39,197.69 L304.87,196.21 L305.36,194.54 L305.84,192.66 L306.32,190.54 L306.81,188.17 L307.29,185.53 L307.78,182.62 L308.26,179.43 L308.74,175.98 L309.23,172.30 L309.71,168.49 L310.20,164.81 L310.68,163.62 L311.16,164.35 L311.65,166.84 L312.13,171.74 L312.62,178.94 L313.10,187.33 L313.58,195.25 L314.07,201.29 L314.55,204.96 L315.04,206.72 L315.52,207.37 L316.00,207.57 L316.49,207.57 L316.97,207.57 L317.46,207.57 L317.94,207.57 L318.42,207.57 L318.91,207.57 L319.39,207.57 L319.88,207.57 L320.36,207.57 L320.84,207.57 L321.33,207.57 L321.81,207.57 L322.30,207.57 L322.78,207.57 L323.26,207.57 L323.75,207.57 L324.23,207.57 L324.72,207.57 L325.20,207.57 L325.68,207.57 L326.17,207.57 L326.65,207.57 L327.14,207.57 L327.62,207.57 L328.10,207.57 L328.59,207.57 L329.07,207.57 L329.56,207.57 L330.04,207.57 L330.52,207.57 L331.01,207.57 L331.49,207.57 L331.98,207.57 L332.46,207.57 L332.94,207.57 L333.43,207.57 L333.91,207.57 L334.40,207.57 L334.88,207.57 L335.36,207.57 L335.85,207.57 L336.33,207.57 L336.82,207.57 L337.30,207.57 L337.30,207.90 L288.90,207.90 Z" stroke="none" fill="rgba(150,0,15,0.48)" stroke-width="1" />
<path d="M288.90,207.57 L289.38,207.57 L289.87,207.57 L290.35,207.57 L290.84,207.57 L291.32,207.57 L291.80,207.57 L292.29,207.54 L292.77,207.49 L293.26,207.44 L293.74,207.38 L294.22,207.31 L294.71,207.23 L295.19,207.14 L295.68,207.03 L296.16,206.91 L296.64,206.77 L297.13,206.61 L297.61,206.43 L298.10,206.21 L298.58,205.96 L299.06,205.68 L299.55,205.35 L300.03,204.97 L300.52,204.53 L301.00,204.03 L301.48,203.44 L301.97,202.78 L302.45,202.01 L302.94,201.14 L303.42,200.13 L303.90,198.99 L304.39,197.69 L304.87,196.21 L305.36,194.54 L305.84,192.66 L306.32,190.54 L306.81,188.17 L307.29,185.53 L307.78,182.62 L308.26,179.43 L308.74,175.98 L309.23,172.30 L309.71,168.49 L310.20,164.81 L310.68,163.62 L311.16,164.35 L311.65,166.84 L312.13,171.74 L312.62,178.94 L313.10,187.33 L313.58,195.25 L314.07,201.29 L314.55,204.96 L315.04,206.72 L315.52,207.37 L316.00,207.57 L316.49,207.57 L316.97,207.57 L317.46,207.57 L317.94,207.57 L318.42,207.57 L318.91,207.57 L319.39,207.57 L319.88,207.57 L320.36,207.57 L320.84,207.57 L321.33,207.57 L321.81,207.57 L322.30,207.57 L322.78,207.57 L323.26,207.57 L323.75,207.57 L324.23,207.57 L324.72,207.57 L325.20,207.57 L325.68,207.57 L326.17,207.57 L326.65,207.57 L327.14,207.57 L327.62,207.57 L328.10,207.57 L328.59,207.57 L329.07,207.57 L329.56,207.57 L330.04,207.57 L330.52,207.57 L331.01,207.57 L331.49,207.57 L331.98,207.57 L332.46,207.57 L332.94,207.57 L333.43,207.57 L333.91,207.57 L334.40,207.57 L334.88,207.57 L335.36,207.57 L335.85,207.57 L336.33,207.57 L336.82,207.57 L337.30,207.57" stroke="#2a4781" fill="none" stroke-width="1.1" stroke-linejoin="round"/>
<path d="M288.90,207.57 L289.38,207.57 L289.87,207.57 L290.35,207.57 L290.84,207.57 L291.32,207.57 L291.80,207.57 L292.29,207.54 L292.77,207.49 L293.26,207.44 L293.74,207.38 L294.22,207.31 L294.71,207.23 L295.19,207.14 L295.68,207.03 L296.16,206.91 L296.64,206.77 L297.13,206.61 L297.61,206.43 L298.10,206.21 L298.58,205.96 L299.06,205.68 L299.55,205.35 L300.03,204.97 L300.52,204.53 L301.00,204.03 L301.48,203.44 L301.97,202.78 L302.45,202.01 L302.94,201.14 L303.42,200.13 L303.90,198.99 L304.39,197.69 L304.87,196.21 L305.36,194.54 L305.84,192.66 L306.32,190.54 L306.81,188.17 L307.29,185.53 L307.78,182.62 L308.26,179.43 L308.74,175.98 L309.23,172.30 L309.71,168.49 L310.20,164.81 L310.68,163.62 L311.16,164.35 L311.65,166.84 L312.13,171.74 L312.62,178.94 L313.10,187.33 L313.58,195.25 L314.07,201.29 L314.55,204.96 L315.04,206.72 L315.52,207.37 L316.00,207.57 L316.49,207.57 L316.97,207.57 L317.46,207.57 L317.94,207.57 L318.42,207.57 L318.91,207.57 L319.39,207.57 L319.88,207.57 L320.36,207.57 L320.84,207.57 L321.33,207.57 L321.81,207.57 L322.30,207.57 L322.78,207.57 L323.26,207.57 L323.75,207.57 L324.23,207.57 L324.72,207.57 L325.20,207.57 L325.68,207.57 L326.17,207.57 L326.65,207.57 L327.14,207.57 L327.62,207.57 L328.10,207.57 L328.59,207.57 L329.07,207.57 L329.56,207.57 L330.04,207.57 L330.52,207.57 L331.01,207.57 L331.49,207.57 L331.98,207.57 L332.46,207.57 L332.94,207.57 L333.43,207.57 L333.91,207.57 L334.40,207.57 L334.88,207.57 L335.36,207.57 L335.85,207.57 L336.33,207.57 L336.82,207.57 L337.30,207.57" stroke="#b8143f" fill="none" stroke-width="1.1" stroke-linejoin="round"/>
<path d="M288.30,159.00 L337.90,159.00 L337.90,208.50" fill="none" stroke="#000" stroke-width="1.1"/>
<line x1="288.30" y1="158.50" x2="288.30" y2="209.10" stroke="#000" stroke-width="1.5" />
<line x1="287.70" y1="208.50" x2="338.40" y2="208.50" stroke="#000" stroke-width="1.4" />
<line x1="285.30" y1="207.90" x2="288.30" y2="207.90" stroke="#000" stroke-width="0.9" />
<text x="282.10" y="209.80" font-size="5.4" text-anchor="end" textLength="2.60" lengthAdjust="spacingAndGlyphs" >0</text>
<line x1="286.70" y1="206.03" x2="288.30" y2="206.03" stroke="#000" stroke-width="0.6" />
<line x1="286.70" y1="204.16" x2="288.30" y2="204.16" stroke="#000" stroke-width="0.6" />
<line x1="286.70" y1="202.30" x2="288.30" y2="202.30" stroke="#000" stroke-width="0.6" />
<line x1="286.70" y1="200.43" x2="288.30" y2="200.43" stroke="#000" stroke-width="0.6" />
<line x1="285.30" y1="198.56" x2="288.30" y2="198.56" stroke="#000" stroke-width="0.9" />
<text x="282.10" y="200.46" font-size="5.4" text-anchor="end" textLength="5.40" lengthAdjust="spacingAndGlyphs" >20</text>
<line x1="286.70" y1="196.69" x2="288.30" y2="196.69" stroke="#000" stroke-width="0.6" />
<line x1="286.70" y1="194.82" x2="288.30" y2="194.82" stroke="#000" stroke-width="0.6" />
<line x1="286.70" y1="192.96" x2="288.30" y2="192.96" stroke="#000" stroke-width="0.6" />
<line x1="286.70" y1="191.09" x2="288.30" y2="191.09" stroke="#000" stroke-width="0.6" />
<line x1="285.30" y1="189.22" x2="288.30" y2="189.22" stroke="#000" stroke-width="0.9" />
<text x="282.10" y="191.12" font-size="5.4" text-anchor="end" textLength="5.40" lengthAdjust="spacingAndGlyphs" >40</text>
<line x1="286.70" y1="187.35" x2="288.30" y2="187.35" stroke="#000" stroke-width="0.6" />
<line x1="286.70" y1="185.48" x2="288.30" y2="185.48" stroke="#000" stroke-width="0.6" />
<line x1="286.70" y1="183.62" x2="288.30" y2="183.62" stroke="#000" stroke-width="0.6" />
<line x1="286.70" y1="181.75" x2="288.30" y2="181.75" stroke="#000" stroke-width="0.6" />
<line x1="285.30" y1="179.88" x2="288.30" y2="179.88" stroke="#000" stroke-width="0.9" />
<text x="282.10" y="181.78" font-size="5.4" text-anchor="end" textLength="5.40" lengthAdjust="spacingAndGlyphs" >60</text>
<line x1="286.70" y1="178.01" x2="288.30" y2="178.01" stroke="#000" stroke-width="0.6" />
<line x1="286.70" y1="176.14" x2="288.30" y2="176.14" stroke="#000" stroke-width="0.6" />
<line x1="286.70" y1="174.28" x2="288.30" y2="174.28" stroke="#000" stroke-width="0.6" />
<line x1="286.70" y1="172.41" x2="288.30" y2="172.41" stroke="#000" stroke-width="0.6" />
<line x1="285.30" y1="170.54" x2="288.30" y2="170.54" stroke="#000" stroke-width="0.9" />
<text x="282.10" y="172.44" font-size="5.4" text-anchor="end" textLength="5.40" lengthAdjust="spacingAndGlyphs" >80</text>
<line x1="286.70" y1="168.67" x2="288.30" y2="168.67" stroke="#000" stroke-width="0.6" />
<line x1="286.70" y1="166.80" x2="288.30" y2="166.80" stroke="#000" stroke-width="0.6" />
<line x1="286.70" y1="164.94" x2="288.30" y2="164.94" stroke="#000" stroke-width="0.6" />
<line x1="286.70" y1="163.07" x2="288.30" y2="163.07" stroke="#000" stroke-width="0.6" />
<line x1="285.30" y1="161.20" x2="288.30" y2="161.20" stroke="#000" stroke-width="0.9" />
<text x="282.10" y="163.10" font-size="5.4" text-anchor="end" textLength="7.80" lengthAdjust="spacingAndGlyphs" >100</text>
<line x1="293.80" y1="208.50" x2="293.80" y2="210.70" stroke="#000" stroke-width="0.8" />
<line x1="296.75" y1="208.50" x2="296.75" y2="209.70" stroke="#000" stroke-width="0.5" />
<line x1="298.48" y1="208.50" x2="298.48" y2="209.70" stroke="#000" stroke-width="0.5" />
<line x1="299.70" y1="208.50" x2="299.70" y2="209.70" stroke="#000" stroke-width="0.5" />
<line x1="300.65" y1="208.50" x2="300.65" y2="209.70" stroke="#000" stroke-width="0.5" />
<line x1="301.43" y1="208.50" x2="301.43" y2="209.70" stroke="#000" stroke-width="0.5" />
<line x1="302.08" y1="208.50" x2="302.08" y2="209.70" stroke="#000" stroke-width="0.5" />
<line x1="302.65" y1="208.50" x2="302.65" y2="209.70" stroke="#000" stroke-width="0.5" />
<line x1="303.15" y1="208.50" x2="303.15" y2="209.70" stroke="#000" stroke-width="0.5" />
<text x="290.10" y="219.40" font-size="5.0" fill="#4a4a4a" textLength="5.00" lengthAdjust="spacingAndGlyphs" >10</text>
<text x="295.80" y="217.30" font-size="3.6" fill="#4a4a4a" >1</text>
<line x1="303.60" y1="208.50" x2="303.60" y2="210.70" stroke="#000" stroke-width="0.8" />
<line x1="306.55" y1="208.50" x2="306.55" y2="209.70" stroke="#000" stroke-width="0.5" />
<line x1="308.28" y1="208.50" x2="308.28" y2="209.70" stroke="#000" stroke-width="0.5" />
<line x1="309.50" y1="208.50" x2="309.50" y2="209.70" stroke="#000" stroke-width="0.5" />
<line x1="310.45" y1="208.50" x2="310.45" y2="209.70" stroke="#000" stroke-width="0.5" />
<line x1="311.23" y1="208.50" x2="311.23" y2="209.70" stroke="#000" stroke-width="0.5" />
<line x1="311.88" y1="208.50" x2="311.88" y2="209.70" stroke="#000" stroke-width="0.5" />
<line x1="312.45" y1="208.50" x2="312.45" y2="209.70" stroke="#000" stroke-width="0.5" />
<line x1="312.95" y1="208.50" x2="312.95" y2="209.70" stroke="#000" stroke-width="0.5" />
<text x="299.90" y="219.40" font-size="5.0" fill="#4a4a4a" textLength="5.00" lengthAdjust="spacingAndGlyphs" >10</text>
<text x="305.60" y="217.30" font-size="3.6" fill="#4a4a4a" >2</text>
<line x1="313.40" y1="208.50" x2="313.40" y2="210.70" stroke="#000" stroke-width="0.8" />
<line x1="316.35" y1="208.50" x2="316.35" y2="209.70" stroke="#000" stroke-width="0.5" />
<line x1="318.08" y1="208.50" x2="318.08" y2="209.70" stroke="#000" stroke-width="0.5" />
<line x1="319.30" y1="208.50" x2="319.30" y2="209.70" stroke="#000" stroke-width="0.5" />
<line x1="320.25" y1="208.50" x2="320.25" y2="209.70" stroke="#000" stroke-width="0.5" />
<line x1="321.03" y1="208.50" x2="321.03" y2="209.70" stroke="#000" stroke-width="0.5" />
<line x1="321.68" y1="208.50" x2="321.68" y2="209.70" stroke="#000" stroke-width="0.5" />
<line x1="322.25" y1="208.50" x2="322.25" y2="209.70" stroke="#000" stroke-width="0.5" />
<line x1="322.75" y1="208.50" x2="322.75" y2="209.70" stroke="#000" stroke-width="0.5" />
<text x="309.70" y="219.40" font-size="5.0" fill="#4a4a4a" textLength="5.00" lengthAdjust="spacingAndGlyphs" >10</text>
<text x="315.40" y="217.30" font-size="3.6" fill="#4a4a4a" >3</text>
<line x1="323.20" y1="208.50" x2="323.20" y2="210.70" stroke="#000" stroke-width="0.8" />
<line x1="326.15" y1="208.50" x2="326.15" y2="209.70" stroke="#000" stroke-width="0.5" />
<line x1="327.88" y1="208.50" x2="327.88" y2="209.70" stroke="#000" stroke-width="0.5" />
<line x1="329.10" y1="208.50" x2="329.10" y2="209.70" stroke="#000" stroke-width="0.5" />
<line x1="330.05" y1="208.50" x2="330.05" y2="209.70" stroke="#000" stroke-width="0.5" />
<line x1="330.83" y1="208.50" x2="330.83" y2="209.70" stroke="#000" stroke-width="0.5" />
<line x1="331.48" y1="208.50" x2="331.48" y2="209.70" stroke="#000" stroke-width="0.5" />
<line x1="332.05" y1="208.50" x2="332.05" y2="209.70" stroke="#000" stroke-width="0.5" />
<line x1="332.55" y1="208.50" x2="332.55" y2="209.70" stroke="#000" stroke-width="0.5" />
<text x="319.50" y="219.40" font-size="5.0" fill="#4a4a4a" textLength="5.00" lengthAdjust="spacingAndGlyphs" >10</text>
<text x="325.20" y="217.30" font-size="3.6" fill="#4a4a4a" >4</text>
<line x1="333.00" y1="208.50" x2="333.00" y2="210.70" stroke="#000" stroke-width="0.8" />
<line x1="335.95" y1="208.50" x2="335.95" y2="209.70" stroke="#000" stroke-width="0.5" />
<line x1="337.68" y1="208.50" x2="337.68" y2="209.70" stroke="#000" stroke-width="0.5" />
<text x="329.30" y="219.40" font-size="5.0" fill="#4a4a4a" textLength="5.00" lengthAdjust="spacingAndGlyphs" >10</text>
<text x="335.00" y="217.30" font-size="3.6" fill="#4a4a4a" >5</text>
<line x1="290.85" y1="208.50" x2="290.85" y2="209.70" stroke="#000" stroke-width="0.5" />
<line x1="291.63" y1="208.50" x2="291.63" y2="209.70" stroke="#000" stroke-width="0.5" />
<line x1="292.28" y1="208.50" x2="292.28" y2="209.70" stroke="#000" stroke-width="0.5" />
<line x1="292.85" y1="208.50" x2="292.85" y2="209.70" stroke="#000" stroke-width="0.5" />
<line x1="293.35" y1="208.50" x2="293.35" y2="209.70" stroke="#000" stroke-width="0.5" />
<text x="269.20" y="183.60" font-size="8.3" text-anchor="middle" textLength="18.50" lengthAdjust="spacingAndGlyphs" transform="rotate(-90 269.20 183.60)" >Counts</text>
<text x="313.30" y="230.00" font-size="7.6" text-anchor="middle" textLength="30.20" lengthAdjust="spacingAndGlyphs" >pSTAT5-APC</text>
<text x="398.40" y="145.10" font-size="7.3" text-anchor="middle" textLength="22.20" lengthAdjust="spacingAndGlyphs" >PDX#11</text>
<text x="398.10" y="154.20" font-size="7.3" text-anchor="middle" textLength="17.70" lengthAdjust="spacingAndGlyphs" >T-LBL</text>
<path d="M374.00,207.57 L374.48,207.57 L374.97,207.57 L375.45,207.57 L375.94,207.57 L376.42,207.57 L376.90,207.57 L377.39,207.56 L377.87,207.51 L378.36,207.45 L378.84,207.38 L379.32,207.30 L379.81,207.20 L380.29,207.09 L380.78,206.96 L381.26,206.80 L381.74,206.61 L382.23,206.39 L382.71,206.13 L383.20,205.82 L383.68,205.47 L384.16,205.05 L384.65,204.56 L385.13,203.99 L385.62,203.33 L386.10,202.56 L386.58,201.68 L387.07,200.67 L387.55,199.51 L388.04,198.19 L388.52,196.70 L389.00,195.03 L389.49,193.15 L389.97,191.07 L390.46,188.78 L390.94,186.28 L391.42,183.57 L391.91,180.69 L392.39,177.66 L392.88,174.53 L393.36,171.41 L393.84,168.42 L394.33,165.81 L394.81,164.50 L395.30,164.64 L395.78,165.56 L396.26,168.23 L396.75,173.43 L397.23,181.12 L397.72,190.03 L398.20,198.07 L398.68,203.57 L399.17,206.33 L399.65,207.31 L400.14,207.54 L400.62,207.57 L401.10,207.57 L401.59,207.57 L402.07,207.57 L402.56,207.57 L403.04,207.57 L403.52,207.57 L404.01,207.57 L404.49,207.57 L404.98,207.57 L405.46,207.57 L405.94,207.57 L406.43,207.57 L406.91,207.57 L407.40,207.57 L407.88,207.57 L408.36,207.57 L408.85,207.57 L409.33,207.57 L409.82,207.57 L410.30,207.57 L410.78,207.57 L411.27,207.57 L411.75,207.57 L412.24,207.57 L412.72,207.57 L413.20,207.57 L413.69,207.57 L414.17,207.57 L414.66,207.57 L415.14,207.57 L415.62,207.57 L416.11,207.57 L416.59,207.57 L417.08,207.57 L417.56,207.57 L418.04,207.57 L418.53,207.57 L419.01,207.57 L419.50,207.57 L419.98,207.57 L420.46,207.57 L420.95,207.57 L421.43,207.57 L421.92,207.57 L422.40,207.57 L422.40,207.90 L374.00,207.90 Z" stroke="none" fill="rgba(53,83,138,0.47)" stroke-width="1" />
<path d="M374.00,207.57 L374.48,207.57 L374.97,207.57 L375.45,207.57 L375.94,207.57 L376.42,207.57 L376.90,207.57 L377.39,207.56 L377.87,207.51 L378.36,207.45 L378.84,207.39 L379.32,207.30 L379.81,207.21 L380.29,207.10 L380.78,206.96 L381.26,206.81 L381.74,206.62 L382.23,206.40 L382.71,206.15 L383.20,205.84 L383.68,205.49 L384.16,205.07 L384.65,204.59 L385.13,204.03 L385.62,203.37 L386.10,202.61 L386.58,201.74 L387.07,200.74 L387.55,199.59 L388.04,198.29 L388.52,196.82 L389.00,195.16 L389.49,193.31 L389.97,191.25 L390.46,188.98 L390.94,186.51 L391.42,183.83 L391.91,180.98 L392.39,177.98 L392.88,174.89 L393.36,171.80 L393.84,168.84 L394.33,166.26 L394.81,164.96 L395.30,165.10 L395.78,166.02 L396.26,168.66 L396.75,173.80 L397.23,181.40 L397.72,190.22 L398.20,198.18 L398.68,203.62 L399.17,206.34 L399.65,207.31 L400.14,207.54 L400.62,207.57 L401.10,207.57 L401.59,207.57 L402.07,207.57 L402.56,207.57 L403.04,207.57 L403.52,207.57 L404.01,207.57 L404.49,207.57 L404.98,207.57 L405.46,207.57 L405.94,207.57 L406.43,207.57 L406.91,207.57 L407.40,207.57 L407.88,207.57 L408.36,207.57 L408.85,207.57 L409.33,207.57 L409.82,207.57 L410.30,207.57 L410.78,207.57 L411.27,207.57 L411.75,207.57 L412.24,207.57 L412.72,207.57 L413.20,207.57 L413.69,207.57 L414.17,207.57 L414.66,207.57 L415.14,207.57 L415.62,207.57 L416.11,207.57 L416.59,207.57 L417.08,207.57 L417.56,207.57 L418.04,207.57 L418.53,207.57 L419.01,207.57 L419.50,207.57 L419.98,207.57 L420.46,207.57 L420.95,207.57 L421.43,207.57 L421.92,207.57 L422.40,207.57 L422.40,207.90 L374.00,207.90 Z" stroke="none" fill="rgba(150,0,15,0.48)" stroke-width="1" />
<path d="M374.00,207.57 L374.48,207.57 L374.97,207.57 L375.45,207.57 L375.94,207.57 L376.42,207.57 L376.90,207.57 L377.39,207.56 L377.87,207.51 L378.36,207.45 L378.84,207.38 L379.32,207.30 L379.81,207.20 L380.29,207.09 L380.78,206.96 L381.26,206.80 L381.74,206.61 L382.23,206.39 L382.71,206.13 L383.20,205.82 L383.68,205.47 L384.16,205.05 L384.65,204.56 L385.13,203.99 L385.62,203.33 L386.10,202.56 L386.58,201.68 L387.07,200.67 L387.55,199.51 L388.04,198.19 L388.52,196.70 L389.00,195.03 L389.49,193.15 L389.97,191.07 L390.46,188.78 L390.94,186.28 L391.42,183.57 L391.91,180.69 L392.39,177.66 L392.88,174.53 L393.36,171.41 L393.84,168.42 L394.33,165.81 L394.81,164.50 L395.30,164.64 L395.78,165.56 L396.26,168.23 L396.75,173.43 L397.23,181.12 L397.72,190.03 L398.20,198.07 L398.68,203.57 L399.17,206.33 L399.65,207.31 L400.14,207.54 L400.62,207.57 L401.10,207.57 L401.59,207.57 L402.07,207.57 L402.56,207.57 L403.04,207.57 L403.52,207.57 L404.01,207.57 L404.49,207.57 L404.98,207.57 L405.46,207.57 L405.94,207.57 L406.43,207.57 L406.91,207.57 L407.40,207.57 L407.88,207.57 L408.36,207.57 L408.85,207.57 L409.33,207.57 L409.82,207.57 L410.30,207.57 L410.78,207.57 L411.27,207.57 L411.75,207.57 L412.24,207.57 L412.72,207.57 L413.20,207.57 L413.69,207.57 L414.17,207.57 L414.66,207.57 L415.14,207.57 L415.62,207.57 L416.11,207.57 L416.59,207.57 L417.08,207.57 L417.56,207.57 L418.04,207.57 L418.53,207.57 L419.01,207.57 L419.50,207.57 L419.98,207.57 L420.46,207.57 L420.95,207.57 L421.43,207.57 L421.92,207.57 L422.40,207.57" stroke="#2a4781" fill="none" stroke-width="1.1" stroke-linejoin="round"/>
<path d="M374.00,207.57 L374.48,207.57 L374.97,207.57 L375.45,207.57 L375.94,207.57 L376.42,207.57 L376.90,207.57 L377.39,207.56 L377.87,207.51 L378.36,207.45 L378.84,207.39 L379.32,207.30 L379.81,207.21 L380.29,207.10 L380.78,206.96 L381.26,206.81 L381.74,206.62 L382.23,206.40 L382.71,206.15 L383.20,205.84 L383.68,205.49 L384.16,205.07 L384.65,204.59 L385.13,204.03 L385.62,203.37 L386.10,202.61 L386.58,201.74 L387.07,200.74 L387.55,199.59 L388.04,198.29 L388.52,196.82 L389.00,195.16 L389.49,193.31 L389.97,191.25 L390.46,188.98 L390.94,186.51 L391.42,183.83 L391.91,180.98 L392.39,177.98 L392.88,174.89 L393.36,171.80 L393.84,168.84 L394.33,166.26 L394.81,164.96 L395.30,165.10 L395.78,166.02 L396.26,168.66 L396.75,173.80 L397.23,181.40 L397.72,190.22 L398.20,198.18 L398.68,203.62 L399.17,206.34 L399.65,207.31 L400.14,207.54 L400.62,207.57 L401.10,207.57 L401.59,207.57 L402.07,207.57 L402.56,207.57 L403.04,207.57 L403.52,207.57 L404.01,207.57 L404.49,207.57 L404.98,207.57 L405.46,207.57 L405.94,207.57 L406.43,207.57 L406.91,207.57 L407.40,207.57 L407.88,207.57 L408.36,207.57 L408.85,207.57 L409.33,207.57 L409.82,207.57 L410.30,207.57 L410.78,207.57 L411.27,207.57 L411.75,207.57 L412.24,207.57 L412.72,207.57 L413.20,207.57 L413.69,207.57 L414.17,207.57 L414.66,207.57 L415.14,207.57 L415.62,207.57 L416.11,207.57 L416.59,207.57 L417.08,207.57 L417.56,207.57 L418.04,207.57 L418.53,207.57 L419.01,207.57 L419.50,207.57 L419.98,207.57 L420.46,207.57 L420.95,207.57 L421.43,207.57 L421.92,207.57 L422.40,207.57" stroke="#b8143f" fill="none" stroke-width="1.1" stroke-linejoin="round"/>
<path d="M373.40,159.00 L423.00,159.00 L423.00,208.50" fill="none" stroke="#000" stroke-width="1.1"/>
<line x1="373.40" y1="158.50" x2="373.40" y2="209.10" stroke="#000" stroke-width="1.5" />
<line x1="372.80" y1="208.50" x2="423.50" y2="208.50" stroke="#000" stroke-width="1.4" />
<line x1="370.40" y1="207.90" x2="373.40" y2="207.90" stroke="#000" stroke-width="0.9" />
<text x="367.20" y="209.80" font-size="5.4" text-anchor="end" textLength="2.60" lengthAdjust="spacingAndGlyphs" >0</text>
<line x1="371.80" y1="206.03" x2="373.40" y2="206.03" stroke="#000" stroke-width="0.6" />
<line x1="371.80" y1="204.16" x2="373.40" y2="204.16" stroke="#000" stroke-width="0.6" />
<line x1="371.80" y1="202.30" x2="373.40" y2="202.30" stroke="#000" stroke-width="0.6" />
<line x1="371.80" y1="200.43" x2="373.40" y2="200.43" stroke="#000" stroke-width="0.6" />
<line x1="370.40" y1="198.56" x2="373.40" y2="198.56" stroke="#000" stroke-width="0.9" />
<text x="367.20" y="200.46" font-size="5.4" text-anchor="end" textLength="5.40" lengthAdjust="spacingAndGlyphs" >20</text>
<line x1="371.80" y1="196.69" x2="373.40" y2="196.69" stroke="#000" stroke-width="0.6" />
<line x1="371.80" y1="194.82" x2="373.40" y2="194.82" stroke="#000" stroke-width="0.6" />
<line x1="371.80" y1="192.96" x2="373.40" y2="192.96" stroke="#000" stroke-width="0.6" />
<line x1="371.80" y1="191.09" x2="373.40" y2="191.09" stroke="#000" stroke-width="0.6" />
<line x1="370.40" y1="189.22" x2="373.40" y2="189.22" stroke="#000" stroke-width="0.9" />
<text x="367.20" y="191.12" font-size="5.4" text-anchor="end" textLength="5.40" lengthAdjust="spacingAndGlyphs" >40</text>
<line x1="371.80" y1="187.35" x2="373.40" y2="187.35" stroke="#000" stroke-width="0.6" />
<line x1="371.80" y1="185.48" x2="373.40" y2="185.48" stroke="#000" stroke-width="0.6" />
<line x1="371.80" y1="183.62" x2="373.40" y2="183.62" stroke="#000" stroke-width="0.6" />
<line x1="371.80" y1="181.75" x2="373.40" y2="181.75" stroke="#000" stroke-width="0.6" />
<line x1="370.40" y1="179.88" x2="373.40" y2="179.88" stroke="#000" stroke-width="0.9" />
<text x="367.20" y="181.78" font-size="5.4" text-anchor="end" textLength="5.40" lengthAdjust="spacingAndGlyphs" >60</text>
<line x1="371.80" y1="178.01" x2="373.40" y2="178.01" stroke="#000" stroke-width="0.6" />
<line x1="371.80" y1="176.14" x2="373.40" y2="176.14" stroke="#000" stroke-width="0.6" />
<line x1="371.80" y1="174.28" x2="373.40" y2="174.28" stroke="#000" stroke-width="0.6" />
<line x1="371.80" y1="172.41" x2="373.40" y2="172.41" stroke="#000" stroke-width="0.6" />
<line x1="370.40" y1="170.54" x2="373.40" y2="170.54" stroke="#000" stroke-width="0.9" />
<text x="367.20" y="172.44" font-size="5.4" text-anchor="end" textLength="5.40" lengthAdjust="spacingAndGlyphs" >80</text>
<line x1="371.80" y1="168.67" x2="373.40" y2="168.67" stroke="#000" stroke-width="0.6" />
<line x1="371.80" y1="166.80" x2="373.40" y2="166.80" stroke="#000" stroke-width="0.6" />
<line x1="371.80" y1="164.94" x2="373.40" y2="164.94" stroke="#000" stroke-width="0.6" />
<line x1="371.80" y1="163.07" x2="373.40" y2="163.07" stroke="#000" stroke-width="0.6" />
<line x1="370.40" y1="161.20" x2="373.40" y2="161.20" stroke="#000" stroke-width="0.9" />
<text x="367.20" y="163.10" font-size="5.4" text-anchor="end" textLength="7.80" lengthAdjust="spacingAndGlyphs" >100</text>
<line x1="378.90" y1="208.50" x2="378.90" y2="210.70" stroke="#000" stroke-width="0.8" />
<line x1="381.85" y1="208.50" x2="381.85" y2="209.70" stroke="#000" stroke-width="0.5" />
<line x1="383.58" y1="208.50" x2="383.58" y2="209.70" stroke="#000" stroke-width="0.5" />
<line x1="384.80" y1="208.50" x2="384.80" y2="209.70" stroke="#000" stroke-width="0.5" />
<line x1="385.75" y1="208.50" x2="385.75" y2="209.70" stroke="#000" stroke-width="0.5" />
<line x1="386.53" y1="208.50" x2="386.53" y2="209.70" stroke="#000" stroke-width="0.5" />
<line x1="387.18" y1="208.50" x2="387.18" y2="209.70" stroke="#000" stroke-width="0.5" />
<line x1="387.75" y1="208.50" x2="387.75" y2="209.70" stroke="#000" stroke-width="0.5" />
<line x1="388.25" y1="208.50" x2="388.25" y2="209.70" stroke="#000" stroke-width="0.5" />
<text x="375.20" y="219.40" font-size="5.0" fill="#4a4a4a" textLength="5.00" lengthAdjust="spacingAndGlyphs" >10</text>
<text x="380.90" y="217.30" font-size="3.6" fill="#4a4a4a" >1</text>
<line x1="388.70" y1="208.50" x2="388.70" y2="210.70" stroke="#000" stroke-width="0.8" />
<line x1="391.65" y1="208.50" x2="391.65" y2="209.70" stroke="#000" stroke-width="0.5" />
<line x1="393.38" y1="208.50" x2="393.38" y2="209.70" stroke="#000" stroke-width="0.5" />
<line x1="394.60" y1="208.50" x2="394.60" y2="209.70" stroke="#000" stroke-width="0.5" />
<line x1="395.55" y1="208.50" x2="395.55" y2="209.70" stroke="#000" stroke-width="0.5" />
<line x1="396.33" y1="208.50" x2="396.33" y2="209.70" stroke="#000" stroke-width="0.5" />
<line x1="396.98" y1="208.50" x2="396.98" y2="209.70" stroke="#000" stroke-width="0.5" />
<line x1="397.55" y1="208.50" x2="397.55" y2="209.70" stroke="#000" stroke-width="0.5" />
<line x1="398.05" y1="208.50" x2="398.05" y2="209.70" stroke="#000" stroke-width="0.5" />
<text x="385.00" y="219.40" font-size="5.0" fill="#4a4a4a" textLength="5.00" lengthAdjust="spacingAndGlyphs" >10</text>
<text x="390.70" y="217.30" font-size="3.6" fill="#4a4a4a" >2</text>
<line x1="398.50" y1="208.50" x2="398.50" y2="210.70" stroke="#000" stroke-width="0.8" />
<line x1="401.45" y1="208.50" x2="401.45" y2="209.70" stroke="#000" stroke-width="0.5" />
<line x1="403.18" y1="208.50" x2="403.18" y2="209.70" stroke="#000" stroke-width="0.5" />
<line x1="404.40" y1="208.50" x2="404.40" y2="209.70" stroke="#000" stroke-width="0.5" />
<line x1="405.35" y1="208.50" x2="405.35" y2="209.70" stroke="#000" stroke-width="0.5" />
<line x1="406.13" y1="208.50" x2="406.13" y2="209.70" stroke="#000" stroke-width="0.5" />
<line x1="406.78" y1="208.50" x2="406.78" y2="209.70" stroke="#000" stroke-width="0.5" />
<line x1="407.35" y1="208.50" x2="407.35" y2="209.70" stroke="#000" stroke-width="0.5" />
<line x1="407.85" y1="208.50" x2="407.85" y2="209.70" stroke="#000" stroke-width="0.5" />
<text x="394.80" y="219.40" font-size="5.0" fill="#4a4a4a" textLength="5.00" lengthAdjust="spacingAndGlyphs" >10</text>
<text x="400.50" y="217.30" font-size="3.6" fill="#4a4a4a" >3</text>
<line x1="408.30" y1="208.50" x2="408.30" y2="210.70" stroke="#000" stroke-width="0.8" />
<line x1="411.25" y1="208.50" x2="411.25" y2="209.70" stroke="#000" stroke-width="0.5" />
<line x1="412.98" y1="208.50" x2="412.98" y2="209.70" stroke="#000" stroke-width="0.5" />
<line x1="414.20" y1="208.50" x2="414.20" y2="209.70" stroke="#000" stroke-width="0.5" />
<line x1="415.15" y1="208.50" x2="415.15" y2="209.70" stroke="#000" stroke-width="0.5" />
<line x1="415.93" y1="208.50" x2="415.93" y2="209.70" stroke="#000" stroke-width="0.5" />
<line x1="416.58" y1="208.50" x2="416.58" y2="209.70" stroke="#000" stroke-width="0.5" />
<line x1="417.15" y1="208.50" x2="417.15" y2="209.70" stroke="#000" stroke-width="0.5" />
<line x1="417.65" y1="208.50" x2="417.65" y2="209.70" stroke="#000" stroke-width="0.5" />
<text x="404.60" y="219.40" font-size="5.0" fill="#4a4a4a" textLength="5.00" lengthAdjust="spacingAndGlyphs" >10</text>
<text x="410.30" y="217.30" font-size="3.6" fill="#4a4a4a" >4</text>
<line x1="418.10" y1="208.50" x2="418.10" y2="210.70" stroke="#000" stroke-width="0.8" />
<line x1="421.05" y1="208.50" x2="421.05" y2="209.70" stroke="#000" stroke-width="0.5" />
<line x1="422.78" y1="208.50" x2="422.78" y2="209.70" stroke="#000" stroke-width="0.5" />
<text x="414.40" y="219.40" font-size="5.0" fill="#4a4a4a" textLength="5.00" lengthAdjust="spacingAndGlyphs" >10</text>
<text x="420.10" y="217.30" font-size="3.6" fill="#4a4a4a" >5</text>
<line x1="375.95" y1="208.50" x2="375.95" y2="209.70" stroke="#000" stroke-width="0.5" />
<line x1="376.73" y1="208.50" x2="376.73" y2="209.70" stroke="#000" stroke-width="0.5" />
<line x1="377.38" y1="208.50" x2="377.38" y2="209.70" stroke="#000" stroke-width="0.5" />
<line x1="377.95" y1="208.50" x2="377.95" y2="209.70" stroke="#000" stroke-width="0.5" />
<line x1="378.45" y1="208.50" x2="378.45" y2="209.70" stroke="#000" stroke-width="0.5" />
<text x="354.30" y="183.60" font-size="8.3" text-anchor="middle" textLength="18.50" lengthAdjust="spacingAndGlyphs" transform="rotate(-90 354.30 183.60)" >Counts</text>
<text x="398.40" y="230.00" font-size="7.6" text-anchor="middle" textLength="30.20" lengthAdjust="spacingAndGlyphs" >pSTAT5-APC</text>
<rect x="427.6" y="171.4" width="5.9" height="5.9" fill="rgba(53,83,138,0.47)" stroke="#2a4781" stroke-width="0.9"/>
<rect x="427.6" y="182.7" width="5.9" height="5.9" fill="rgba(150,0,15,0.48)" stroke="#b8143f" stroke-width="0.9"/>
<text x="437.20" y="177.20" font-size="7.6" textLength="23.80" lengthAdjust="spacingAndGlyphs" >no IL7</text>
<text x="437.20" y="188.40" font-size="7.6" textLength="76.20" lengthAdjust="spacingAndGlyphs" >30 min 100 ng/ml IL7</text>
<text x="85.70" y="267.50" font-size="9.2" text-anchor="middle" textLength="45.50" lengthAdjust="spacingAndGlyphs" >CD127-PE</text>
<path d="M15.00,298.10 L18.64,298.09 L23.92,298.07 L29.88,298.05 L35.56,298.03 L40.00,298.00 L43.01,297.97 L45.22,297.94 L46.94,297.90 L48.43,297.85 L50.00,297.80 L51.53,297.74 L52.82,297.68 L54.06,297.61 L55.39,297.52 L57.00,297.40 L59.02,297.27 L61.35,297.13 L63.77,296.96 L66.06,296.72 L68.00,296.40 L69.54,295.94 L70.83,295.27 L71.95,294.55 L72.98,294.19 L74.00,293.39 L75.00,293.26 L75.92,292.92 L76.79,292.52 L77.64,292.42 L78.50,291.67 L79.36,291.14 L80.20,290.10 L81.03,289.13 L81.86,288.25 L82.70,287.36 L83.56,285.80 L84.43,284.51 L85.29,283.34 L86.12,282.21 L86.90,280.94 L87.61,279.94 L88.27,279.42 L88.89,278.29 L89.50,278.19 L90.10,277.59 L90.71,277.47 L91.31,277.63 L91.89,278.06 L92.46,278.70 L93.00,278.74 L93.48,279.20 L93.91,279.45 L94.33,279.60 L94.81,280.16 L95.40,280.68 L96.12,281.83 L96.95,283.37 L97.83,285.24 L98.72,286.79 L99.60,288.31 L100.46,290.00 L101.32,291.56 L102.19,293.06 L103.05,294.72 L103.90,295.70 L104.61,296.48 L105.18,297.00 L105.80,297.33 L106.68,297.57 L108.00,297.80 L109.52,297.99 L111.10,298.10 L113.13,298.14 L115.97,298.17 L120.00,298.20 L126.16,298.24 L134.21,298.27 L142.73,298.28 L150.30,298.29 L155.50,298.30 L155.70,298.40 L15.00,298.40 Z" stroke="none" fill="rgba(72,30,110,0.42)" stroke-width="1" />
<path d="M15.00,298.10 L18.64,298.09 L23.92,298.07 L29.88,298.05 L35.56,298.03 L40.00,298.00 L43.01,297.97 L45.22,297.94 L46.94,297.90 L48.43,297.85 L50.00,297.80 L51.53,297.74 L52.82,297.68 L54.06,297.61 L55.39,297.52 L57.00,297.40 L59.02,297.27 L61.35,297.13 L63.77,296.96 L66.06,296.72 L68.00,296.40 L69.54,295.94 L70.83,295.27 L71.95,294.55 L72.98,294.19 L74.00,293.39 L75.00,293.26 L75.92,292.92 L76.79,292.52 L77.64,292.42 L78.50,291.67 L79.36,291.14 L80.20,290.10 L81.03,289.13 L81.86,288.25 L82.70,287.36 L83.56,285.80 L84.43,284.51 L85.29,283.34 L86.12,282.21 L86.90,280.94 L87.61,279.94 L88.27,279.42 L88.89,278.29 L89.50,278.19 L90.10,277.59 L90.71,277.47 L91.31,277.63 L91.89,278.06 L92.46,278.70 L93.00,278.74 L93.48,279.20 L93.91,279.45 L94.33,279.60 L94.81,280.16 L95.40,280.68 L96.12,281.83 L96.95,283.37 L97.83,285.24 L98.72,286.79 L99.60,288.31 L100.46,290.00 L101.32,291.56 L102.19,293.06 L103.05,294.72 L103.90,295.70 L104.61,296.48 L105.18,297.00 L105.80,297.33 L106.68,297.57 L108.00,297.80 L109.52,297.99 L111.10,298.10 L113.13,298.14 L115.97,298.17 L120.00,298.20 L126.16,298.24 L134.21,298.27 L142.73,298.28 L150.30,298.29 L155.50,298.30" stroke="#52226a" fill="none" stroke-width="0.9" stroke-linejoin="round"/>
<path d="M15.00,309.66 L17.04,309.65 L19.92,309.64 L23.28,309.63 L26.76,309.60 L30.00,309.56 L33.04,309.51 L36.13,309.46 L39.19,309.39 L42.17,309.30 L45.00,309.16 L47.72,308.98 L50.38,308.77 L52.91,308.52 L55.24,308.25 L57.30,307.96 L59.01,307.64 L60.42,307.30 L61.64,307.04 L62.79,306.43 L64.00,306.20 L65.28,305.79 L66.55,305.58 L67.78,305.10 L68.94,304.42 L70.00,304.20 L70.92,303.10 L71.72,302.49 L72.46,301.83 L73.20,300.67 L74.00,299.95 L74.85,298.81 L75.72,298.15 L76.60,297.21 L77.53,296.13 L78.50,295.35 L79.55,294.16 L80.67,293.44 L81.82,292.52 L82.94,291.71 L84.00,290.94 L84.96,290.46 L85.87,289.86 L86.75,289.07 L87.64,288.81 L88.60,288.44 L89.63,289.00 L90.69,289.45 L91.79,290.32 L92.89,291.11 L94.00,291.85 L95.14,293.15 L96.33,294.80 L97.51,296.09 L98.62,297.91 L99.60,299.19 L100.43,300.45 L101.14,301.63 L101.77,303.13 L102.38,303.85 L103.00,304.83 L103.58,305.69 L104.08,306.60 L104.60,306.99 L105.21,307.49 L106.00,307.96 L106.41,308.39 L106.38,308.76 L106.76,309.08 L108.35,309.35 L112.00,309.56 L119.00,309.71 L128.79,309.79 L139.43,309.82 L148.98,309.84 L155.50,309.86 L155.70,309.96 L15.00,309.96 Z" stroke="none" fill="rgba(72,30,110,0.42)" stroke-width="1" />
<path d="M15.00,309.66 L17.04,309.65 L19.92,309.64 L23.28,309.63 L26.76,309.60 L30.00,309.56 L33.04,309.51 L36.13,309.46 L39.19,309.39 L42.17,309.30 L45.00,309.16 L47.72,308.98 L50.38,308.77 L52.91,308.52 L55.24,308.25 L57.30,307.96 L59.01,307.64 L60.42,307.30 L61.64,307.04 L62.79,306.43 L64.00,306.20 L65.28,305.79 L66.55,305.58 L67.78,305.10 L68.94,304.42 L70.00,304.20 L70.92,303.10 L71.72,302.49 L72.46,301.83 L73.20,300.67 L74.00,299.95 L74.85,298.81 L75.72,298.15 L76.60,297.21 L77.53,296.13 L78.50,295.35 L79.55,294.16 L80.67,293.44 L81.82,292.52 L82.94,291.71 L84.00,290.94 L84.96,290.46 L85.87,289.86 L86.75,289.07 L87.64,288.81 L88.60,288.44 L89.63,289.00 L90.69,289.45 L91.79,290.32 L92.89,291.11 L94.00,291.85 L95.14,293.15 L96.33,294.80 L97.51,296.09 L98.62,297.91 L99.60,299.19 L100.43,300.45 L101.14,301.63 L101.77,303.13 L102.38,303.85 L103.00,304.83 L103.58,305.69 L104.08,306.60 L104.60,306.99 L105.21,307.49 L106.00,307.96 L106.41,308.39 L106.38,308.76 L106.76,309.08 L108.35,309.35 L112.00,309.56 L119.00,309.71 L128.79,309.79 L139.43,309.82 L148.98,309.84 L155.50,309.86" stroke="#52226a" fill="none" stroke-width="0.9" stroke-linejoin="round"/>
<path d="M15.00,321.22 L17.04,321.21 L19.92,321.20 L23.28,321.19 L26.76,321.16 L30.00,321.12 L33.03,321.08 L36.10,321.04 L39.14,320.99 L42.13,320.89 L45.00,320.72 L47.82,320.48 L50.63,320.17 L53.33,319.82 L55.82,319.43 L58.00,319.02 L59.82,318.60 L61.33,317.94 L62.63,317.64 L63.82,317.15 L65.00,316.71 L66.14,316.00 L67.18,315.30 L68.15,314.21 L69.08,313.42 L70.00,312.45 L70.88,311.61 L71.71,310.39 L72.52,308.69 L73.33,307.52 L74.20,306.59 L75.11,305.95 L76.03,305.66 L76.98,305.40 L77.97,304.90 L79.00,304.27 L80.14,303.71 L81.37,302.74 L82.62,301.88 L83.79,301.26 L84.80,300.62 L85.61,300.37 L86.28,300.50 L86.86,300.79 L87.41,300.86 L88.00,301.72 L88.60,302.17 L89.17,302.83 L89.74,303.50 L90.34,304.10 L91.00,304.97 L91.73,305.82 L92.50,307.23 L93.31,308.14 L94.15,309.29 L95.00,310.37 L95.89,311.16 L96.81,311.93 L97.75,312.42 L98.69,313.07 L99.60,313.95 L100.45,314.95 L101.26,316.26 L102.06,317.31 L102.93,318.65 L103.90,319.52 L104.37,320.10 L104.32,320.50 L104.64,320.76 L106.23,320.94 L110.00,321.12 L117.31,321.27 L127.55,321.35 L138.68,321.38 L148.68,321.40 L155.50,321.42 L155.70,321.52 L15.00,321.52 Z" stroke="none" fill="rgba(72,30,110,0.42)" stroke-width="1" />
<path d="M15.00,321.22 L17.04,321.21 L19.92,321.20 L23.28,321.19 L26.76,321.16 L30.00,321.12 L33.03,321.08 L36.10,321.04 L39.14,320.99 L42.13,320.89 L45.00,320.72 L47.82,320.48 L50.63,320.17 L53.33,319.82 L55.82,319.43 L58.00,319.02 L59.82,318.60 L61.33,317.94 L62.63,317.64 L63.82,317.15 L65.00,316.71 L66.14,316.00 L67.18,315.30 L68.15,314.21 L69.08,313.42 L70.00,312.45 L70.88,311.61 L71.71,310.39 L72.52,308.69 L73.33,307.52 L74.20,306.59 L75.11,305.95 L76.03,305.66 L76.98,305.40 L77.97,304.90 L79.00,304.27 L80.14,303.71 L81.37,302.74 L82.62,301.88 L83.79,301.26 L84.80,300.62 L85.61,300.37 L86.28,300.50 L86.86,300.79 L87.41,300.86 L88.00,301.72 L88.60,302.17 L89.17,302.83 L89.74,303.50 L90.34,304.10 L91.00,304.97 L91.73,305.82 L92.50,307.23 L93.31,308.14 L94.15,309.29 L95.00,310.37 L95.89,311.16 L96.81,311.93 L97.75,312.42 L98.69,313.07 L99.60,313.95 L100.45,314.95 L101.26,316.26 L102.06,317.31 L102.93,318.65 L103.90,319.52 L104.37,320.10 L104.32,320.50 L104.64,320.76 L106.23,320.94 L110.00,321.12 L117.31,321.27 L127.55,321.35 L138.68,321.38 L148.68,321.40 L155.50,321.42" stroke="#52226a" fill="none" stroke-width="0.9" stroke-linejoin="round"/>
<path d="M15.00,332.78 L17.08,332.76 L20.04,332.73 L23.46,332.69 L26.92,332.64 L30.00,332.58 L32.74,332.50 L35.42,332.42 L37.98,332.32 L40.36,332.20 L42.50,332.08 L44.32,331.95 L45.87,331.81 L47.25,331.66 L48.59,331.48 L50.00,331.28 L51.49,331.08 L52.98,330.90 L54.45,330.67 L55.90,330.35 L57.30,330.07 L58.69,329.28 L60.07,328.25 L61.41,327.40 L62.63,326.51 L63.70,325.61 L64.56,324.60 L65.26,324.04 L65.85,323.18 L66.41,321.98 L67.00,321.07 L67.62,319.93 L68.22,318.97 L68.81,318.15 L69.40,317.23 L70.00,316.74 L70.60,315.74 L71.20,315.07 L71.80,315.03 L72.40,314.43 L73.00,314.00 L73.60,314.14 L74.20,313.97 L74.80,314.42 L75.40,314.95 L76.00,315.26 L76.59,315.64 L77.17,315.99 L77.75,316.69 L78.36,317.26 L79.00,318.22 L79.69,318.70 L80.40,319.40 L81.14,319.79 L81.91,320.42 L82.70,321.54 L83.52,322.66 L84.38,323.80 L85.26,325.05 L86.14,326.25 L87.00,327.20 L87.84,327.70 L88.66,328.46 L89.48,328.88 L90.32,329.18 L91.20,329.64 L92.13,330.35 L93.12,330.80 L94.11,331.21 L95.08,331.58 L96.00,331.88 L96.03,332.11 L95.19,332.27 L94.73,332.38 L95.92,332.48 L100.00,332.58 L108.69,332.69 L121.16,332.78 L134.82,332.86 L147.13,332.93 L155.50,332.98 L155.70,333.08 L15.00,333.08 Z" stroke="none" fill="rgba(72,30,110,0.42)" stroke-width="1" />
<path d="M15.00,332.78 L17.08,332.76 L20.04,332.73 L23.46,332.69 L26.92,332.64 L30.00,332.58 L32.74,332.50 L35.42,332.42 L37.98,332.32 L40.36,332.20 L42.50,332.08 L44.32,331.95 L45.87,331.81 L47.25,331.66 L48.59,331.48 L50.00,331.28 L51.49,331.08 L52.98,330.90 L54.45,330.67 L55.90,330.35 L57.30,330.07 L58.69,329.28 L60.07,328.25 L61.41,327.40 L62.63,326.51 L63.70,325.61 L64.56,324.60 L65.26,324.04 L65.85,323.18 L66.41,321.98 L67.00,321.07 L67.62,319.93 L68.22,318.97 L68.81,318.15 L69.40,317.23 L70.00,316.74 L70.60,315.74 L71.20,315.07 L71.80,315.03 L72.40,314.43 L73.00,314.00 L73.60,314.14 L74.20,313.97 L74.80,314.42 L75.40,314.95 L76.00,315.26 L76.59,315.64 L77.17,315.99 L77.75,316.69 L78.36,317.26 L79.00,318.22 L79.69,318.70 L80.40,319.40 L81.14,319.79 L81.91,320.42 L82.70,321.54 L83.52,322.66 L84.38,323.80 L85.26,325.05 L86.14,326.25 L87.00,327.20 L87.84,327.70 L88.66,328.46 L89.48,328.88 L90.32,329.18 L91.20,329.64 L92.13,330.35 L93.12,330.80 L94.11,331.21 L95.08,331.58 L96.00,331.88 L96.03,332.11 L95.19,332.27 L94.73,332.38 L95.92,332.48 L100.00,332.58 L108.69,332.69 L121.16,332.78 L134.82,332.86 L147.13,332.93 L155.50,332.98" stroke="#52226a" fill="none" stroke-width="0.9" stroke-linejoin="round"/>
<path d="M15.00,344.34 L17.12,344.31 L20.16,344.28 L23.64,344.24 L27.08,344.19 L30.00,344.14 L32.27,344.09 L34.22,344.05 L36.02,343.99 L37.89,343.93 L40.00,343.84 L42.50,343.73 L45.27,343.60 L48.09,343.46 L50.74,343.31 L53.00,343.14 L54.77,342.97 L56.19,342.80 L57.42,342.60 L58.64,342.39 L60.00,342.14 L61.58,341.88 L63.28,341.50 L64.97,341.18 L66.55,341.02 L67.90,340.67 L68.96,339.82 L69.80,339.38 L70.53,338.64 L71.23,337.78 L72.00,336.57 L72.86,335.46 L73.73,334.29 L74.61,333.06 L75.48,331.87 L76.30,331.00 L77.09,330.16 L77.85,329.20 L78.59,328.15 L79.31,327.44 L80.00,326.79 L80.66,325.75 L81.29,325.40 L81.90,324.97 L82.50,324.50 L83.10,324.27 L83.69,324.15 L84.27,324.21 L84.84,324.87 L85.42,325.08 L86.00,325.79 L86.57,326.34 L87.13,326.54 L87.70,327.13 L88.32,328.13 L89.00,328.95 L89.74,329.92 L90.53,331.42 L91.37,333.06 L92.29,335.04 L93.30,336.39 L94.46,337.30 L95.77,338.80 L97.12,339.94 L98.43,340.72 L99.60,341.37 L100.61,342.07 L101.52,342.54 L102.36,342.89 L103.18,343.18 L104.00,343.44 L104.13,343.65 L103.54,343.79 L103.29,343.87 L104.42,343.95 L108.00,344.04 L115.48,344.15 L126.15,344.27 L137.83,344.38 L148.34,344.47 L155.50,344.54 L155.70,344.64 L15.00,344.64 Z" stroke="none" fill="rgba(72,30,110,0.42)" stroke-width="1" />
<path d="M15.00,344.34 L17.12,344.31 L20.16,344.28 L23.64,344.24 L27.08,344.19 L30.00,344.14 L32.27,344.09 L34.22,344.05 L36.02,343.99 L37.89,343.93 L40.00,343.84 L42.50,343.73 L45.27,343.60 L48.09,343.46 L50.74,343.31 L53.00,343.14 L54.77,342.97 L56.19,342.80 L57.42,342.60 L58.64,342.39 L60.00,342.14 L61.58,341.88 L63.28,341.50 L64.97,341.18 L66.55,341.02 L67.90,340.67 L68.96,339.82 L69.80,339.38 L70.53,338.64 L71.23,337.78 L72.00,336.57 L72.86,335.46 L73.73,334.29 L74.61,333.06 L75.48,331.87 L76.30,331.00 L77.09,330.16 L77.85,329.20 L78.59,328.15 L79.31,327.44 L80.00,326.79 L80.66,325.75 L81.29,325.40 L81.90,324.97 L82.50,324.50 L83.10,324.27 L83.69,324.15 L84.27,324.21 L84.84,324.87 L85.42,325.08 L86.00,325.79 L86.57,326.34 L87.13,326.54 L87.70,327.13 L88.32,328.13 L89.00,328.95 L89.74,329.92 L90.53,331.42 L91.37,333.06 L92.29,335.04 L93.30,336.39 L94.46,337.30 L95.77,338.80 L97.12,339.94 L98.43,340.72 L99.60,341.37 L100.61,342.07 L101.52,342.54 L102.36,342.89 L103.18,343.18 L104.00,343.44 L104.13,343.65 L103.54,343.79 L103.29,343.87 L104.42,343.95 L108.00,344.04 L115.48,344.15 L126.15,344.27 L137.83,344.38 L148.34,344.47 L155.50,344.54" stroke="#52226a" fill="none" stroke-width="0.9" stroke-linejoin="round"/>
<path d="M15.00,355.90 L16.34,355.88 L18.23,355.85 L20.45,355.81 L22.78,355.76 L25.00,355.70 L27.17,355.64 L29.42,355.57 L31.70,355.49 L33.91,355.37 L36.00,355.20 L37.94,354.97 L39.79,354.69 L41.57,354.37 L43.30,354.04 L45.00,353.70 L46.66,353.40 L48.25,353.14 L49.81,352.62 L51.38,352.18 L53.00,352.14 L54.72,351.31 L56.52,350.46 L58.31,349.79 L60.00,348.62 L61.50,347.89 L62.80,346.82 L63.95,345.34 L64.98,344.19 L65.93,343.14 L66.80,342.27 L67.59,341.87 L68.26,341.33 L68.87,341.15 L69.44,340.79 L70.00,340.91 L70.54,340.28 L71.05,339.97 L71.53,339.69 L72.01,339.57 L72.50,339.16 L73.00,339.41 L73.50,339.35 L74.01,339.56 L74.51,339.71 L75.00,339.46 L75.48,339.43 L75.93,338.87 L76.39,338.32 L76.88,338.39 L77.40,338.04 L77.96,338.48 L78.53,339.12 L79.14,339.71 L79.79,340.35 L80.50,341.21 L81.28,342.02 L82.14,343.02 L83.03,343.60 L83.93,344.75 L84.80,345.47 L85.64,346.36 L86.48,347.49 L87.32,348.22 L88.16,349.04 L89.00,349.83 L89.82,350.45 L90.62,350.64 L91.43,351.09 L92.31,351.42 L93.30,351.91 L94.45,352.63 L95.72,353.27 L97.05,354.02 L98.37,354.70 L99.60,355.20 L100.02,355.50 L99.66,355.65 L99.64,355.71 L101.05,355.74 L105.00,355.80 L113.02,355.88 L124.38,355.96 L136.77,356.02 L147.91,356.06 L155.50,356.10 L155.70,356.20 L15.00,356.20 Z" stroke="none" fill="rgba(72,30,110,0.42)" stroke-width="1" />
<path d="M15.00,355.90 L16.34,355.88 L18.23,355.85 L20.45,355.81 L22.78,355.76 L25.00,355.70 L27.17,355.64 L29.42,355.57 L31.70,355.49 L33.91,355.37 L36.00,355.20 L37.94,354.97 L39.79,354.69 L41.57,354.37 L43.30,354.04 L45.00,353.70 L46.66,353.40 L48.25,353.14 L49.81,352.62 L51.38,352.18 L53.00,352.14 L54.72,351.31 L56.52,350.46 L58.31,349.79 L60.00,348.62 L61.50,347.89 L62.80,346.82 L63.95,345.34 L64.98,344.19 L65.93,343.14 L66.80,342.27 L67.59,341.87 L68.26,341.33 L68.87,341.15 L69.44,340.79 L70.00,340.91 L70.54,340.28 L71.05,339.97 L71.53,339.69 L72.01,339.57 L72.50,339.16 L73.00,339.41 L73.50,339.35 L74.01,339.56 L74.51,339.71 L75.00,339.46 L75.48,339.43 L75.93,338.87 L76.39,338.32 L76.88,338.39 L77.40,338.04 L77.96,338.48 L78.53,339.12 L79.14,339.71 L79.79,340.35 L80.50,341.21 L81.28,342.02 L82.14,343.02 L83.03,343.60 L83.93,344.75 L84.80,345.47 L85.64,346.36 L86.48,347.49 L87.32,348.22 L88.16,349.04 L89.00,349.83 L89.82,350.45 L90.62,350.64 L91.43,351.09 L92.31,351.42 L93.30,351.91 L94.45,352.63 L95.72,353.27 L97.05,354.02 L98.37,354.70 L99.60,355.20 L100.02,355.50 L99.66,355.65 L99.64,355.71 L101.05,355.74 L105.00,355.80 L113.02,355.88 L124.38,355.96 L136.77,356.02 L147.91,356.06 L155.50,356.10" stroke="#52226a" fill="none" stroke-width="0.9" stroke-linejoin="round"/>
<path d="M15.00,367.46 L16.44,367.40 L18.49,367.32 L20.87,367.22 L23.32,367.10 L25.60,366.96 L27.69,366.80 L29.76,366.62 L31.83,366.43 L33.90,366.21 L36.00,365.96 L38.21,365.68 L40.52,365.36 L42.79,365.03 L44.90,364.67 L46.70,364.38 L48.11,364.05 L49.21,363.99 L50.14,363.57 L51.03,363.33 L52.00,362.98 L53.07,362.20 L54.15,361.86 L55.22,361.53 L56.28,360.92 L57.30,359.98 L58.29,359.37 L59.27,358.91 L60.21,358.06 L61.13,357.43 L62.00,356.55 L62.83,355.92 L63.61,354.95 L64.37,353.93 L65.09,352.52 L65.80,351.87 L66.48,351.00 L67.13,349.93 L67.76,349.56 L68.38,348.98 L69.00,348.12 L69.61,348.18 L70.20,347.76 L70.79,347.76 L71.38,348.01 L72.00,347.93 L72.66,347.49 L73.36,347.48 L74.05,347.44 L74.71,347.46 L75.30,347.81 L75.79,348.72 L76.20,350.11 L76.58,351.13 L76.97,352.77 L77.40,353.93 L77.89,354.79 L78.40,355.98 L78.93,357.11 L79.47,357.96 L80.00,358.54 L80.44,359.70 L80.79,360.22 L81.20,360.84 L81.79,360.86 L82.70,361.34 L83.96,361.52 L85.48,362.07 L87.22,361.95 L89.14,362.03 L91.20,362.42 L93.51,363.01 L96.08,363.37 L98.78,363.52 L101.43,363.93 L103.90,364.77 L106.06,365.05 L108.01,365.58 L109.94,366.12 L112.01,366.59 L114.40,366.96 L117.04,367.20 L119.80,367.35 L122.80,367.44 L126.16,367.50 L130.00,367.56 L134.87,367.61 L140.71,367.64 L146.66,367.65 L151.87,367.65 L155.50,367.66 L155.70,367.76 L15.00,367.76 Z" stroke="none" fill="rgba(90,170,45,0.4)" stroke-width="1" />
<path d="M15.00,367.46 L16.44,367.40 L18.49,367.32 L20.87,367.22 L23.32,367.10 L25.60,366.96 L27.69,366.80 L29.76,366.62 L31.83,366.43 L33.90,366.21 L36.00,365.96 L38.21,365.68 L40.52,365.36 L42.79,365.03 L44.90,364.67 L46.70,364.38 L48.11,364.05 L49.21,363.99 L50.14,363.57 L51.03,363.33 L52.00,362.98 L53.07,362.20 L54.15,361.86 L55.22,361.53 L56.28,360.92 L57.30,359.98 L58.29,359.37 L59.27,358.91 L60.21,358.06 L61.13,357.43 L62.00,356.55 L62.83,355.92 L63.61,354.95 L64.37,353.93 L65.09,352.52 L65.80,351.87 L66.48,351.00 L67.13,349.93 L67.76,349.56 L68.38,348.98 L69.00,348.12 L69.61,348.18 L70.20,347.76 L70.79,347.76 L71.38,348.01 L72.00,347.93 L72.66,347.49 L73.36,347.48 L74.05,347.44 L74.71,347.46 L75.30,347.81 L75.79,348.72 L76.20,350.11 L76.58,351.13 L76.97,352.77 L77.40,353.93 L77.89,354.79 L78.40,355.98 L78.93,357.11 L79.47,357.96 L80.00,358.54 L80.44,359.70 L80.79,360.22 L81.20,360.84 L81.79,360.86 L82.70,361.34 L83.96,361.52 L85.48,362.07 L87.22,361.95 L89.14,362.03 L91.20,362.42 L93.51,363.01 L96.08,363.37 L98.78,363.52 L101.43,363.93 L103.90,364.77 L106.06,365.05 L108.01,365.58 L109.94,366.12 L112.01,366.59 L114.40,366.96 L117.04,367.20 L119.80,367.35 L122.80,367.44 L126.16,367.50 L130.00,367.56 L134.87,367.61 L140.71,367.64 L146.66,367.65 L151.87,367.65 L155.50,367.66" stroke="#66ac40" fill="none" stroke-width="0.9" stroke-linejoin="round"/>
<path d="M15.00,379.02 L16.36,378.96 L18.28,378.88 L20.52,378.78 L22.84,378.66 L25.00,378.52 L27.02,378.36 L29.05,378.18 L31.07,377.99 L33.06,377.77 L35.00,377.52 L36.91,377.24 L38.82,376.92 L40.66,376.59 L42.41,376.28 L44.00,376.02 L45.42,375.41 L46.71,375.11 L47.89,375.13 L48.98,374.67 L50.00,374.11 L50.91,374.10 L51.70,373.46 L52.42,373.02 L53.17,372.10 L54.00,371.90 L54.95,370.88 L55.98,370.60 L57.02,369.70 L58.05,368.94 L59.00,368.35 L59.86,367.82 L60.67,366.76 L61.45,365.97 L62.22,365.47 L63.00,364.69 L63.80,364.05 L64.60,363.55 L65.40,363.01 L66.20,362.62 L67.00,362.23 L67.83,361.73 L68.70,361.42 L69.54,360.70 L70.33,360.46 L71.00,360.16 L71.53,360.36 L71.94,360.50 L72.30,361.06 L72.63,361.49 L73.00,362.44 L73.38,363.00 L73.75,363.57 L74.13,364.54 L74.54,365.64 L75.00,366.12 L75.54,367.46 L76.13,368.36 L76.75,369.49 L77.38,370.66 L78.00,371.27 L78.54,371.92 L79.01,372.45 L79.51,372.94 L80.14,372.92 L81.00,373.49 L82.06,373.76 L83.27,374.02 L84.65,374.20 L86.22,374.45 L88.00,374.60 L90.08,374.92 L92.44,375.17 L94.96,375.79 L97.52,375.85 L100.00,376.32 L102.30,376.74 L104.51,377.23 L106.77,377.72 L109.22,378.17 L112.00,378.52 L115.10,378.75 L118.41,378.90 L121.97,378.99 L125.82,379.06 L130.00,379.12 L135.03,379.17 L140.88,379.20 L146.78,379.21 L151.91,379.21 L155.50,379.22 L155.70,379.32 L15.00,379.32 Z" stroke="none" fill="rgba(90,170,45,0.4)" stroke-width="1" />
<path d="M15.00,379.02 L16.36,378.96 L18.28,378.88 L20.52,378.78 L22.84,378.66 L25.00,378.52 L27.02,378.36 L29.05,378.18 L31.07,377.99 L33.06,377.77 L35.00,377.52 L36.91,377.24 L38.82,376.92 L40.66,376.59 L42.41,376.28 L44.00,376.02 L45.42,375.41 L46.71,375.11 L47.89,375.13 L48.98,374.67 L50.00,374.11 L50.91,374.10 L51.70,373.46 L52.42,373.02 L53.17,372.10 L54.00,371.90 L54.95,370.88 L55.98,370.60 L57.02,369.70 L58.05,368.94 L59.00,368.35 L59.86,367.82 L60.67,366.76 L61.45,365.97 L62.22,365.47 L63.00,364.69 L63.80,364.05 L64.60,363.55 L65.40,363.01 L66.20,362.62 L67.00,362.23 L67.83,361.73 L68.70,361.42 L69.54,360.70 L70.33,360.46 L71.00,360.16 L71.53,360.36 L71.94,360.50 L72.30,361.06 L72.63,361.49 L73.00,362.44 L73.38,363.00 L73.75,363.57 L74.13,364.54 L74.54,365.64 L75.00,366.12 L75.54,367.46 L76.13,368.36 L76.75,369.49 L77.38,370.66 L78.00,371.27 L78.54,371.92 L79.01,372.45 L79.51,372.94 L80.14,372.92 L81.00,373.49 L82.06,373.76 L83.27,374.02 L84.65,374.20 L86.22,374.45 L88.00,374.60 L90.08,374.92 L92.44,375.17 L94.96,375.79 L97.52,375.85 L100.00,376.32 L102.30,376.74 L104.51,377.23 L106.77,377.72 L109.22,378.17 L112.00,378.52 L115.10,378.75 L118.41,378.90 L121.97,378.99 L125.82,379.06 L130.00,379.12 L135.03,379.17 L140.88,379.20 L146.78,379.21 L151.91,379.21 L155.50,379.22" stroke="#66ac40" fill="none" stroke-width="0.9" stroke-linejoin="round"/>
<path d="M15.00,390.58 L16.39,390.52 L18.38,390.43 L20.66,390.33 L22.97,390.21 L25.00,390.08 L26.74,389.95 L28.39,389.81 L29.97,389.66 L31.50,389.48 L33.00,389.28 L34.50,389.04 L35.97,388.77 L37.39,388.48 L38.74,388.18 L40.00,387.88 L41.13,387.43 L42.14,387.13 L43.10,387.23 L44.03,386.93 L45.00,386.47 L45.98,385.84 L46.95,385.35 L47.93,384.86 L48.94,384.41 L50.00,383.71 L51.15,383.28 L52.38,382.57 L53.62,382.30 L54.85,381.69 L56.00,380.90 L57.09,380.22 L58.16,380.06 L59.18,379.24 L60.13,378.78 L61.00,378.13 L61.78,377.81 L62.48,377.30 L63.11,376.80 L63.68,376.25 L64.20,376.18 L64.64,375.99 L65.00,376.40 L65.31,376.69 L65.63,377.18 L66.00,377.15 L66.43,377.03 L66.89,376.90 L67.36,376.54 L67.84,376.47 L68.30,376.39 L68.76,376.71 L69.22,377.02 L69.68,377.51 L70.11,378.09 L70.50,378.32 L70.80,378.74 L71.03,379.51 L71.25,379.57 L71.55,380.39 L72.00,380.95 L72.61,381.40 L73.32,382.66 L74.14,383.58 L75.03,384.28 L76.00,385.00 L76.96,385.50 L77.92,385.48 L79.00,385.91 L80.32,386.12 L82.00,386.55 L84.12,386.82 L86.60,387.11 L89.32,387.27 L92.16,387.73 L95.00,387.88 L97.79,388.30 L100.62,388.79 L103.54,389.28 L106.65,389.73 L110.00,390.08 L113.59,390.31 L117.38,390.46 L121.36,390.55 L125.57,390.62 L130.00,390.68 L135.16,390.73 L141.03,390.76 L146.87,390.77 L151.94,390.77 L155.50,390.78 L155.70,390.88 L15.00,390.88 Z" stroke="none" fill="rgba(90,170,45,0.4)" stroke-width="1" />
<path d="M15.00,390.58 L16.39,390.52 L18.38,390.43 L20.66,390.33 L22.97,390.21 L25.00,390.08 L26.74,389.95 L28.39,389.81 L29.97,389.66 L31.50,389.48 L33.00,389.28 L34.50,389.04 L35.97,388.77 L37.39,388.48 L38.74,388.18 L40.00,387.88 L41.13,387.43 L42.14,387.13 L43.10,387.23 L44.03,386.93 L45.00,386.47 L45.98,385.84 L46.95,385.35 L47.93,384.86 L48.94,384.41 L50.00,383.71 L51.15,383.28 L52.38,382.57 L53.62,382.30 L54.85,381.69 L56.00,380.90 L57.09,380.22 L58.16,380.06 L59.18,379.24 L60.13,378.78 L61.00,378.13 L61.78,377.81 L62.48,377.30 L63.11,376.80 L63.68,376.25 L64.20,376.18 L64.64,375.99 L65.00,376.40 L65.31,376.69 L65.63,377.18 L66.00,377.15 L66.43,377.03 L66.89,376.90 L67.36,376.54 L67.84,376.47 L68.30,376.39 L68.76,376.71 L69.22,377.02 L69.68,377.51 L70.11,378.09 L70.50,378.32 L70.80,378.74 L71.03,379.51 L71.25,379.57 L71.55,380.39 L72.00,380.95 L72.61,381.40 L73.32,382.66 L74.14,383.58 L75.03,384.28 L76.00,385.00 L76.96,385.50 L77.92,385.48 L79.00,385.91 L80.32,386.12 L82.00,386.55 L84.12,386.82 L86.60,387.11 L89.32,387.27 L92.16,387.73 L95.00,387.88 L97.79,388.30 L100.62,388.79 L103.54,389.28 L106.65,389.73 L110.00,390.08 L113.59,390.31 L117.38,390.46 L121.36,390.55 L125.57,390.62 L130.00,390.68 L135.16,390.73 L141.03,390.76 L146.87,390.77 L151.94,390.77 L155.50,390.78" stroke="#66ac40" fill="none" stroke-width="0.9" stroke-linejoin="round"/>
<path d="M15.00,402.14 L16.39,402.08 L18.38,401.99 L20.66,401.89 L22.97,401.77 L25.00,401.64 L26.74,401.51 L28.39,401.37 L29.97,401.22 L31.50,401.04 L33.00,400.84 L34.48,400.61 L35.92,400.35 L37.32,400.07 L38.68,399.77 L40.00,399.44 L41.30,399.17 L42.57,398.78 L43.79,398.13 L44.94,397.62 L46.00,397.26 L46.93,396.97 L47.74,396.44 L48.50,396.41 L49.23,395.87 L50.00,395.50 L50.80,395.11 L51.60,394.75 L52.40,394.27 L53.20,393.62 L54.00,393.59 L54.82,393.09 L55.65,392.45 L56.47,391.95 L57.26,391.50 L58.00,390.72 L58.65,390.62 L59.24,389.95 L59.80,389.45 L60.38,389.17 L61.00,389.05 L61.68,388.44 L62.41,388.34 L63.15,388.14 L63.88,387.69 L64.60,387.58 L65.32,387.79 L66.04,388.22 L66.75,388.69 L67.41,389.08 L68.00,389.51 L68.49,389.60 L68.90,390.00 L69.27,390.44 L69.62,391.09 L70.00,391.34 L70.37,392.01 L70.70,392.32 L71.06,392.97 L71.47,393.71 L72.00,394.53 L72.59,395.16 L73.22,395.80 L73.94,396.24 L74.85,396.94 L76.00,397.42 L77.38,397.82 L78.95,397.96 L80.73,398.61 L82.74,398.51 L85.00,399.18 L87.66,399.46 L90.71,399.54 L93.93,399.84 L97.10,400.14 L100.00,400.44 L102.50,400.76 L104.73,401.10 L106.91,401.43 L109.26,401.72 L112.00,401.94 L115.10,402.08 L118.41,402.16 L121.97,402.19 L125.82,402.21 L130.00,402.24 L135.03,402.27 L140.88,402.30 L146.78,402.32 L151.91,402.33 L155.50,402.34 L155.70,402.44 L15.00,402.44 Z" stroke="none" fill="rgba(90,170,45,0.4)" stroke-width="1" />
<path d="M15.00,402.14 L16.39,402.08 L18.38,401.99 L20.66,401.89 L22.97,401.77 L25.00,401.64 L26.74,401.51 L28.39,401.37 L29.97,401.22 L31.50,401.04 L33.00,400.84 L34.48,400.61 L35.92,400.35 L37.32,400.07 L38.68,399.77 L40.00,399.44 L41.30,399.17 L42.57,398.78 L43.79,398.13 L44.94,397.62 L46.00,397.26 L46.93,396.97 L47.74,396.44 L48.50,396.41 L49.23,395.87 L50.00,395.50 L50.80,395.11 L51.60,394.75 L52.40,394.27 L53.20,393.62 L54.00,393.59 L54.82,393.09 L55.65,392.45 L56.47,391.95 L57.26,391.50 L58.00,390.72 L58.65,390.62 L59.24,389.95 L59.80,389.45 L60.38,389.17 L61.00,389.05 L61.68,388.44 L62.41,388.34 L63.15,388.14 L63.88,387.69 L64.60,387.58 L65.32,387.79 L66.04,388.22 L66.75,388.69 L67.41,389.08 L68.00,389.51 L68.49,389.60 L68.90,390.00 L69.27,390.44 L69.62,391.09 L70.00,391.34 L70.37,392.01 L70.70,392.32 L71.06,392.97 L71.47,393.71 L72.00,394.53 L72.59,395.16 L73.22,395.80 L73.94,396.24 L74.85,396.94 L76.00,397.42 L77.38,397.82 L78.95,397.96 L80.73,398.61 L82.74,398.51 L85.00,399.18 L87.66,399.46 L90.71,399.54 L93.93,399.84 L97.10,400.14 L100.00,400.44 L102.50,400.76 L104.73,401.10 L106.91,401.43 L109.26,401.72 L112.00,401.94 L115.10,402.08 L118.41,402.16 L121.97,402.19 L125.82,402.21 L130.00,402.24 L135.03,402.27 L140.88,402.30 L146.78,402.32 L151.91,402.33 L155.50,402.34" stroke="#66ac40" fill="none" stroke-width="0.9" stroke-linejoin="round"/>
<path d="M15.00,413.80 L17.15,413.72 L20.26,413.62 L23.78,413.50 L27.21,413.36 L30.00,413.20 L32.06,413.03 L33.75,412.84 L35.21,412.63 L36.58,412.42 L38.00,412.20 L39.50,411.99 L40.97,411.77 L42.39,411.55 L43.74,411.29 L45.00,411.00 L46.16,410.41 L47.24,410.24 L48.24,410.00 L49.16,409.65 L50.00,408.97 L50.71,408.49 L51.30,408.08 L51.82,408.06 L52.37,407.29 L53.00,407.04 L53.75,406.35 L54.58,406.05 L55.42,405.75 L56.25,404.82 L57.00,404.66 L57.66,404.01 L58.27,403.72 L58.85,403.14 L59.42,402.40 L60.00,402.20 L60.62,401.41 L61.25,400.55 L61.87,399.90 L62.46,399.54 L63.00,398.98 L63.46,398.42 L63.87,397.91 L64.25,397.62 L64.62,397.24 L65.00,397.17 L65.37,396.43 L65.70,396.51 L66.06,396.30 L66.47,395.73 L67.00,396.01 L67.70,395.86 L68.55,395.98 L69.45,395.76 L70.30,395.94 L71.00,396.15 L71.54,396.72 L71.97,396.85 L72.33,397.13 L72.66,397.57 L73.00,397.89 L73.32,398.10 L73.59,398.39 L73.85,399.07 L74.14,399.23 L74.50,400.22 L74.93,400.83 L75.40,402.04 L75.92,403.49 L76.45,404.64 L77.00,405.94 L77.55,407.34 L78.12,408.41 L78.70,409.42 L79.33,410.27 L80.00,411.00 L80.62,411.61 L81.19,412.08 L81.85,412.44 L82.74,412.73 L84.00,413.00 L84.96,413.23 L85.52,413.40 L86.70,413.52 L89.52,413.61 L95.00,413.70 L104.90,413.78 L118.54,413.83 L133.28,413.86 L146.48,413.88 L155.50,413.90 L155.70,414.00 L15.00,414.00 Z" stroke="none" fill="rgba(90,170,45,0.4)" stroke-width="1" />
<path d="M15.00,413.80 L17.15,413.72 L20.26,413.62 L23.78,413.50 L27.21,413.36 L30.00,413.20 L32.06,413.03 L33.75,412.84 L35.21,412.63 L36.58,412.42 L38.00,412.20 L39.50,411.99 L40.97,411.77 L42.39,411.55 L43.74,411.29 L45.00,411.00 L46.16,410.41 L47.24,410.24 L48.24,410.00 L49.16,409.65 L50.00,408.97 L50.71,408.49 L51.30,408.08 L51.82,408.06 L52.37,407.29 L53.00,407.04 L53.75,406.35 L54.58,406.05 L55.42,405.75 L56.25,404.82 L57.00,404.66 L57.66,404.01 L58.27,403.72 L58.85,403.14 L59.42,402.40 L60.00,402.20 L60.62,401.41 L61.25,400.55 L61.87,399.90 L62.46,399.54 L63.00,398.98 L63.46,398.42 L63.87,397.91 L64.25,397.62 L64.62,397.24 L65.00,397.17 L65.37,396.43 L65.70,396.51 L66.06,396.30 L66.47,395.73 L67.00,396.01 L67.70,395.86 L68.55,395.98 L69.45,395.76 L70.30,395.94 L71.00,396.15 L71.54,396.72 L71.97,396.85 L72.33,397.13 L72.66,397.57 L73.00,397.89 L73.32,398.10 L73.59,398.39 L73.85,399.07 L74.14,399.23 L74.50,400.22 L74.93,400.83 L75.40,402.04 L75.92,403.49 L76.45,404.64 L77.00,405.94 L77.55,407.34 L78.12,408.41 L78.70,409.42 L79.33,410.27 L80.00,411.00 L80.62,411.61 L81.19,412.08 L81.85,412.44 L82.74,412.73 L84.00,413.00 L84.96,413.23 L85.52,413.40 L86.70,413.52 L89.52,413.61 L95.00,413.70 L104.90,413.78 L118.54,413.83 L133.28,413.86 L146.48,413.88 L155.50,413.90" stroke="#66ac40" fill="none" stroke-width="0.9" stroke-linejoin="round"/>
<text x="146.20" y="295.10" font-size="9.0" text-anchor="end" fill="#654879" textLength="24.40" lengthAdjust="spacingAndGlyphs" >PDX#1</text>
<text x="146.20" y="306.66" font-size="9.0" text-anchor="end" fill="#654879" textLength="24.40" lengthAdjust="spacingAndGlyphs" >PDX#2</text>
<text x="146.20" y="318.22" font-size="9.0" text-anchor="end" fill="#654879" textLength="24.40" lengthAdjust="spacingAndGlyphs" >PDX#3</text>
<text x="146.20" y="329.78" font-size="9.0" text-anchor="end" fill="#654879" textLength="24.40" lengthAdjust="spacingAndGlyphs" >PDX#4</text>
<text x="146.20" y="341.34" font-size="9.0" text-anchor="end" fill="#654879" textLength="24.40" lengthAdjust="spacingAndGlyphs" >PDX#5</text>
<text x="146.20" y="352.90" font-size="9.0" text-anchor="end" fill="#654879" textLength="24.40" lengthAdjust="spacingAndGlyphs" >PDX#6</text>
<text x="146.20" y="364.46" font-size="9.0" text-anchor="end" fill="#6daf48" textLength="24.40" lengthAdjust="spacingAndGlyphs" >PDX#7</text>
<text x="146.20" y="376.02" font-size="9.0" text-anchor="end" fill="#6daf48" textLength="24.40" lengthAdjust="spacingAndGlyphs" >PDX#8</text>
<text x="146.20" y="387.58" font-size="9.0" text-anchor="end" fill="#6daf48" textLength="24.40" lengthAdjust="spacingAndGlyphs" >PDX#9</text>
<text x="146.20" y="399.14" font-size="9.0" text-anchor="end" fill="#6daf48" textLength="29.60" lengthAdjust="spacingAndGlyphs" >PDX#10</text>
<text x="146.20" y="410.70" font-size="9.0" text-anchor="end" fill="#6daf48" textLength="29.60" lengthAdjust="spacingAndGlyphs" >PDX#11</text>
<path d="M15.00,273.60 L155.70,273.60 L155.70,414.00" fill="none" stroke="#333" stroke-width="0.9"/>
<line x1="15.00" y1="273.20" x2="15.00" y2="414.60" stroke="#000" stroke-width="1.3" />
<line x1="14.40" y1="414.00" x2="156.10" y2="414.00" stroke="#000" stroke-width="1.3" />
<line x1="29.40" y1="414.00" x2="29.40" y2="416.40" stroke="#000" stroke-width="0.9" />
<text x="29.70" y="427.8" font-size="8.1" text-anchor="middle">10<tspan font-size="6.0" dy="-3.4">1</tspan></text>
<line x1="38.01" y1="414.00" x2="38.01" y2="415.40" stroke="#000" stroke-width="0.6" />
<line x1="43.05" y1="414.00" x2="43.05" y2="415.40" stroke="#000" stroke-width="0.6" />
<line x1="46.62" y1="414.00" x2="46.62" y2="415.40" stroke="#000" stroke-width="0.6" />
<line x1="49.39" y1="414.00" x2="49.39" y2="415.40" stroke="#000" stroke-width="0.6" />
<line x1="51.66" y1="414.00" x2="51.66" y2="415.40" stroke="#000" stroke-width="0.6" />
<line x1="53.57" y1="414.00" x2="53.57" y2="415.40" stroke="#000" stroke-width="0.6" />
<line x1="55.23" y1="414.00" x2="55.23" y2="415.40" stroke="#000" stroke-width="0.6" />
<line x1="56.69" y1="414.00" x2="56.69" y2="415.40" stroke="#000" stroke-width="0.6" />
<line x1="58.00" y1="414.00" x2="58.00" y2="416.40" stroke="#000" stroke-width="0.9" />
<text x="58.30" y="427.8" font-size="8.1" text-anchor="middle">10<tspan font-size="6.0" dy="-3.4">2</tspan></text>
<line x1="66.61" y1="414.00" x2="66.61" y2="415.40" stroke="#000" stroke-width="0.6" />
<line x1="71.65" y1="414.00" x2="71.65" y2="415.40" stroke="#000" stroke-width="0.6" />
<line x1="75.22" y1="414.00" x2="75.22" y2="415.40" stroke="#000" stroke-width="0.6" />
<line x1="77.99" y1="414.00" x2="77.99" y2="415.40" stroke="#000" stroke-width="0.6" />
<line x1="80.26" y1="414.00" x2="80.26" y2="415.40" stroke="#000" stroke-width="0.6" />
<line x1="82.17" y1="414.00" x2="82.17" y2="415.40" stroke="#000" stroke-width="0.6" />
<line x1="83.83" y1="414.00" x2="83.83" y2="415.40" stroke="#000" stroke-width="0.6" />
<line x1="85.29" y1="414.00" x2="85.29" y2="415.40" stroke="#000" stroke-width="0.6" />
<line x1="86.60" y1="414.00" x2="86.60" y2="416.40" stroke="#000" stroke-width="0.9" />
<text x="86.90" y="427.8" font-size="8.1" text-anchor="middle">10<tspan font-size="6.0" dy="-3.4">3</tspan></text>
<line x1="95.21" y1="414.00" x2="95.21" y2="415.40" stroke="#000" stroke-width="0.6" />
<line x1="100.25" y1="414.00" x2="100.25" y2="415.40" stroke="#000" stroke-width="0.6" />
<line x1="103.82" y1="414.00" x2="103.82" y2="415.40" stroke="#000" stroke-width="0.6" />
<line x1="106.59" y1="414.00" x2="106.59" y2="415.40" stroke="#000" stroke-width="0.6" />
<line x1="108.86" y1="414.00" x2="108.86" y2="415.40" stroke="#000" stroke-width="0.6" />
<line x1="110.77" y1="414.00" x2="110.77" y2="415.40" stroke="#000" stroke-width="0.6" />
<line x1="112.43" y1="414.00" x2="112.43" y2="415.40" stroke="#000" stroke-width="0.6" />
<line x1="113.89" y1="414.00" x2="113.89" y2="415.40" stroke="#000" stroke-width="0.6" />
<line x1="115.20" y1="414.00" x2="115.20" y2="416.40" stroke="#000" stroke-width="0.9" />
<text x="115.50" y="427.8" font-size="8.1" text-anchor="middle">10<tspan font-size="6.0" dy="-3.4">4</tspan></text>
<line x1="123.81" y1="414.00" x2="123.81" y2="415.40" stroke="#000" stroke-width="0.6" />
<line x1="128.85" y1="414.00" x2="128.85" y2="415.40" stroke="#000" stroke-width="0.6" />
<line x1="132.42" y1="414.00" x2="132.42" y2="415.40" stroke="#000" stroke-width="0.6" />
<line x1="135.19" y1="414.00" x2="135.19" y2="415.40" stroke="#000" stroke-width="0.6" />
<line x1="137.46" y1="414.00" x2="137.46" y2="415.40" stroke="#000" stroke-width="0.6" />
<line x1="139.37" y1="414.00" x2="139.37" y2="415.40" stroke="#000" stroke-width="0.6" />
<line x1="141.03" y1="414.00" x2="141.03" y2="415.40" stroke="#000" stroke-width="0.6" />
<line x1="142.49" y1="414.00" x2="142.49" y2="415.40" stroke="#000" stroke-width="0.6" />
<line x1="143.80" y1="414.00" x2="143.80" y2="416.40" stroke="#000" stroke-width="0.9" />
<text x="144.10" y="427.8" font-size="8.1" text-anchor="middle">10<tspan font-size="6.0" dy="-3.4">5</tspan></text>
<line x1="152.41" y1="414.00" x2="152.41" y2="415.40" stroke="#000" stroke-width="0.6" />
<line x1="18.02" y1="414.00" x2="18.02" y2="415.40" stroke="#000" stroke-width="0.6" />
<line x1="20.79" y1="414.00" x2="20.79" y2="415.40" stroke="#000" stroke-width="0.6" />
<line x1="23.06" y1="414.00" x2="23.06" y2="415.40" stroke="#000" stroke-width="0.6" />
<line x1="24.97" y1="414.00" x2="24.97" y2="415.40" stroke="#000" stroke-width="0.6" />
<line x1="26.63" y1="414.00" x2="26.63" y2="415.40" stroke="#000" stroke-width="0.6" />
<line x1="28.09" y1="414.00" x2="28.09" y2="415.40" stroke="#000" stroke-width="0.6" />
<line x1="159.30" y1="288.30" x2="159.30" y2="353.90" stroke="#8c67a0" stroke-width="1.1" />
<line x1="159.30" y1="357.00" x2="159.30" y2="411.20" stroke="#8cc46c" stroke-width="1.1" />
<text x="162.70" y="312.80" font-size="8.9" fill="#654879" textLength="48.90" lengthAdjust="spacingAndGlyphs" >IL7 responder</text>
<text x="162.70" y="383.80" font-size="8.9" fill="#6daf48" textLength="26.20" lengthAdjust="spacingAndGlyphs" >IL7 non</text>
<text x="162.70" y="392.60" font-size="8.9" fill="#6daf48" textLength="35.80" lengthAdjust="spacingAndGlyphs" >responder</text>
<text x="308.5" y="268.0" font-size="9" textLength="101.8" lengthAdjust="spacingAndGlyphs"><tspan font-style="italic">PIM1</tspan> mRNA expression</text>
<line x1="263.50" y1="278.20" x2="263.50" y2="365.70" stroke="#000" stroke-width="1.1" />
<line x1="260.60" y1="365.20" x2="263.50" y2="365.20" stroke="#000" stroke-width="0.9" />
<text x="257.60" y="367.70" font-size="8.2" text-anchor="end" textLength="4.10" lengthAdjust="spacingAndGlyphs" >0</text>
<line x1="260.60" y1="343.70" x2="263.50" y2="343.70" stroke="#000" stroke-width="0.9" />
<text x="257.60" y="346.20" font-size="8.2" text-anchor="end" textLength="4.10" lengthAdjust="spacingAndGlyphs" >5</text>
<line x1="260.60" y1="322.20" x2="263.50" y2="322.20" stroke="#000" stroke-width="0.9" />
<text x="257.60" y="324.70" font-size="8.2" text-anchor="end" textLength="8.20" lengthAdjust="spacingAndGlyphs" >10</text>
<line x1="260.60" y1="300.70" x2="263.50" y2="300.70" stroke="#000" stroke-width="0.9" />
<text x="257.60" y="303.20" font-size="8.2" text-anchor="end" textLength="8.20" lengthAdjust="spacingAndGlyphs" >15</text>
<line x1="260.60" y1="279.20" x2="263.50" y2="279.20" stroke="#000" stroke-width="0.9" />
<text x="257.60" y="281.70" font-size="8.2" text-anchor="end" textLength="8.20" lengthAdjust="spacingAndGlyphs" >20</text>
<text x="243.10" y="320.50" font-size="10.0" text-anchor="middle" textLength="39.10" lengthAdjust="spacingAndGlyphs" transform="rotate(-90 243.10 320.50)" >PIM1 CNRQ</text>
<line x1="263.00" y1="365.20" x2="455.20" y2="365.20" stroke="#000" stroke-width="1.1" />
<line x1="271.30" y1="365.20" x2="271.30" y2="367.60" stroke="#000" stroke-width="0.9" />
<rect x="266.80" y="362.62" width="2.8" height="2.58" fill="#1e3b70"/>
<line x1="268.20" y1="362.62" x2="268.20" y2="361.33" stroke="#000" stroke-width="0.8" />
<line x1="267.20" y1="361.33" x2="269.20" y2="361.33" stroke="#000" stroke-width="0.9" />
<rect x="273.10" y="351.87" width="3.0" height="13.33" fill="#5aa7e2"/>
<line x1="274.60" y1="351.87" x2="274.60" y2="350.58" stroke="#000" stroke-width="0.8" />
<line x1="273.60" y1="350.58" x2="275.60" y2="350.58" stroke="#000" stroke-width="0.9" />
<text x="274.50" y="374.60" font-size="9.4" text-anchor="end" textLength="24.40" lengthAdjust="spacingAndGlyphs" transform="rotate(-45 274.50 374.60)" >PDX#1</text>
<line x1="288.78" y1="365.20" x2="288.78" y2="367.60" stroke="#000" stroke-width="0.9" />
<rect x="284.28" y="363.91" width="2.8" height="1.29" fill="#1e3b70"/>
<line x1="285.68" y1="363.91" x2="285.68" y2="363.48" stroke="#000" stroke-width="0.8" />
<line x1="284.68" y1="363.48" x2="286.68" y2="363.48" stroke="#000" stroke-width="0.9" />
<rect x="290.58" y="358.75" width="3.0" height="6.45" fill="#5aa7e2"/>
<line x1="292.08" y1="358.75" x2="292.08" y2="357.46" stroke="#000" stroke-width="0.8" />
<line x1="291.08" y1="357.46" x2="293.08" y2="357.46" stroke="#000" stroke-width="0.9" />
<text x="291.98" y="374.60" font-size="9.4" text-anchor="end" textLength="24.40" lengthAdjust="spacingAndGlyphs" transform="rotate(-45 291.98 374.60)" >PDX#2</text>
<line x1="306.26" y1="365.20" x2="306.26" y2="367.60" stroke="#000" stroke-width="0.9" />
<rect x="301.76" y="337.68" width="2.8" height="27.52" fill="#1e3b70"/>
<line x1="303.16" y1="337.68" x2="303.16" y2="335.10" stroke="#000" stroke-width="0.8" />
<line x1="302.16" y1="335.10" x2="304.16" y2="335.10" stroke="#000" stroke-width="0.9" />
<rect x="308.06" y="301.13" width="3.0" height="64.07" fill="#5aa7e2"/>
<line x1="309.56" y1="301.13" x2="309.56" y2="300.27" stroke="#000" stroke-width="0.8" />
<line x1="308.56" y1="300.27" x2="310.56" y2="300.27" stroke="#000" stroke-width="0.9" />
<text x="309.46" y="374.60" font-size="9.4" text-anchor="end" textLength="24.40" lengthAdjust="spacingAndGlyphs" transform="rotate(-45 309.46 374.60)" >PDX#3</text>
<line x1="323.74" y1="365.20" x2="323.74" y2="367.60" stroke="#000" stroke-width="0.9" />
<rect x="319.24" y="363.91" width="2.8" height="1.29" fill="#1e3b70"/>
<line x1="320.64" y1="363.91" x2="320.64" y2="361.11" stroke="#000" stroke-width="0.8" />
<line x1="319.64" y1="361.11" x2="321.64" y2="361.11" stroke="#000" stroke-width="0.9" />
<rect x="325.54" y="356.60" width="3.0" height="8.60" fill="#5aa7e2"/>
<line x1="327.04" y1="356.60" x2="327.04" y2="355.74" stroke="#000" stroke-width="0.8" />
<line x1="326.04" y1="355.74" x2="328.04" y2="355.74" stroke="#000" stroke-width="0.9" />
<text x="326.94" y="374.60" font-size="9.4" text-anchor="end" textLength="24.40" lengthAdjust="spacingAndGlyphs" transform="rotate(-45 326.94 374.60)" >PDX#4</text>
<line x1="341.22" y1="365.20" x2="341.22" y2="367.60" stroke="#000" stroke-width="0.9" />
<rect x="336.72" y="364.34" width="2.8" height="0.86" fill="#1e3b70"/>
<line x1="338.12" y1="364.34" x2="338.12" y2="362.83" stroke="#000" stroke-width="0.8" />
<line x1="337.12" y1="362.83" x2="339.12" y2="362.83" stroke="#000" stroke-width="0.9" />
<rect x="343.02" y="354.02" width="3.0" height="11.18" fill="#5aa7e2"/>
<line x1="344.52" y1="354.02" x2="344.52" y2="351.44" stroke="#000" stroke-width="0.8" />
<line x1="343.52" y1="351.44" x2="345.52" y2="351.44" stroke="#000" stroke-width="0.9" />
<text x="344.42" y="374.60" font-size="9.4" text-anchor="end" textLength="24.40" lengthAdjust="spacingAndGlyphs" transform="rotate(-45 344.42 374.60)" >PDX#5</text>
<line x1="358.70" y1="365.20" x2="358.70" y2="367.60" stroke="#000" stroke-width="0.9" />
<rect x="354.20" y="357.89" width="2.8" height="7.31" fill="#1e3b70"/>
<line x1="355.60" y1="357.89" x2="355.60" y2="354.88" stroke="#000" stroke-width="0.8" />
<line x1="354.60" y1="354.88" x2="356.60" y2="354.88" stroke="#000" stroke-width="0.9" />
<rect x="360.50" y="311.88" width="3.0" height="53.32" fill="#5aa7e2"/>
<line x1="362.00" y1="311.88" x2="362.00" y2="299.84" stroke="#000" stroke-width="0.8" />
<line x1="361.00" y1="299.84" x2="363.00" y2="299.84" stroke="#000" stroke-width="0.9" />
<text x="361.90" y="374.60" font-size="9.4" text-anchor="end" textLength="24.40" lengthAdjust="spacingAndGlyphs" transform="rotate(-45 361.90 374.60)" >PDX#6</text>
<line x1="376.18" y1="365.20" x2="376.18" y2="367.60" stroke="#000" stroke-width="0.9" />
<rect x="371.68" y="364.77" width="2.8" height="0.43" fill="#1e3b70"/>
<line x1="373.08" y1="364.77" x2="373.08" y2="364.56" stroke="#000" stroke-width="0.8" />
<line x1="372.08" y1="364.56" x2="374.08" y2="364.56" stroke="#000" stroke-width="0.9" />
<rect x="377.98" y="364.86" width="3.0" height="0.34" fill="#5aa7e2"/>
<line x1="379.48" y1="364.86" x2="379.48" y2="364.64" stroke="#000" stroke-width="0.8" />
<line x1="378.48" y1="364.64" x2="380.48" y2="364.64" stroke="#000" stroke-width="0.9" />
<text x="379.38" y="374.60" font-size="9.4" text-anchor="end" textLength="24.40" lengthAdjust="spacingAndGlyphs" transform="rotate(-45 379.38 374.60)" >PDX#7</text>
<line x1="393.66" y1="365.20" x2="393.66" y2="367.60" stroke="#000" stroke-width="0.9" />
<rect x="389.16" y="364.77" width="2.8" height="0.43" fill="#1e3b70"/>
<line x1="390.56" y1="364.77" x2="390.56" y2="364.56" stroke="#000" stroke-width="0.8" />
<line x1="389.56" y1="364.56" x2="391.56" y2="364.56" stroke="#000" stroke-width="0.9" />
<line x1="396.96" y1="364.99" x2="396.96" y2="364.77" stroke="#000" stroke-width="0.8" />
<line x1="395.96" y1="364.77" x2="397.96" y2="364.77" stroke="#000" stroke-width="0.9" />
<text x="396.86" y="374.60" font-size="9.4" text-anchor="end" textLength="24.40" lengthAdjust="spacingAndGlyphs" transform="rotate(-45 396.86 374.60)" >PDX#8</text>
<line x1="411.14" y1="365.20" x2="411.14" y2="367.60" stroke="#000" stroke-width="0.9" />
<rect x="406.64" y="364.77" width="2.8" height="0.43" fill="#1e3b70"/>
<line x1="408.04" y1="364.77" x2="408.04" y2="364.56" stroke="#000" stroke-width="0.8" />
<line x1="407.04" y1="364.56" x2="409.04" y2="364.56" stroke="#000" stroke-width="0.9" />
<rect x="412.94" y="364.77" width="3.0" height="0.43" fill="#5aa7e2"/>
<line x1="414.44" y1="364.77" x2="414.44" y2="364.56" stroke="#000" stroke-width="0.8" />
<line x1="413.44" y1="364.56" x2="415.44" y2="364.56" stroke="#000" stroke-width="0.9" />
<text x="414.34" y="374.60" font-size="9.4" text-anchor="end" textLength="24.40" lengthAdjust="spacingAndGlyphs" transform="rotate(-45 414.34 374.60)" >PDX#9</text>
<line x1="428.62" y1="365.20" x2="428.62" y2="367.60" stroke="#000" stroke-width="0.9" />
<line x1="425.52" y1="364.99" x2="425.52" y2="364.77" stroke="#000" stroke-width="0.8" />
<line x1="424.52" y1="364.77" x2="426.52" y2="364.77" stroke="#000" stroke-width="0.9" />
<rect x="430.42" y="364.77" width="3.0" height="0.43" fill="#5aa7e2"/>
<line x1="431.92" y1="364.77" x2="431.92" y2="364.56" stroke="#000" stroke-width="0.8" />
<line x1="430.92" y1="364.56" x2="432.92" y2="364.56" stroke="#000" stroke-width="0.9" />
<text x="431.82" y="374.60" font-size="9.4" text-anchor="end" textLength="29.40" lengthAdjust="spacingAndGlyphs" transform="rotate(-45 431.82 374.60)" >PDX#10</text>
<line x1="446.10" y1="365.20" x2="446.10" y2="367.60" stroke="#000" stroke-width="0.9" />
<rect x="441.60" y="362.19" width="2.8" height="3.01" fill="#1e3b70"/>
<line x1="443.00" y1="362.19" x2="443.00" y2="361.33" stroke="#000" stroke-width="0.8" />
<line x1="442.00" y1="361.33" x2="444.00" y2="361.33" stroke="#000" stroke-width="0.9" />
<rect x="447.90" y="363.05" width="3.0" height="2.15" fill="#5aa7e2"/>
<line x1="449.40" y1="363.05" x2="449.40" y2="362.19" stroke="#000" stroke-width="0.8" />
<line x1="448.40" y1="362.19" x2="450.40" y2="362.19" stroke="#000" stroke-width="0.9" />
<text x="449.30" y="374.60" font-size="9.4" text-anchor="end" textLength="29.40" lengthAdjust="spacingAndGlyphs" transform="rotate(-45 449.30 374.60)" >PDX#11</text>
<rect x="427.7" y="278.0" width="8" height="5" fill="#1e3b70"/>
<rect x="427.7" y="289.5" width="8" height="5" fill="#5aa7e2"/>
<text x="438.80" y="283.70" font-size="8.6" textLength="21.70" lengthAdjust="spacingAndGlyphs" >no IL7</text>
<text x="438.80" y="294.70" font-size="8.6" textLength="65.10" lengthAdjust="spacingAndGlyphs" >50 ng/ml IL7 (24h)</text>
<line x1="264.30" y1="399.30" x2="362.90" y2="399.30" stroke="#8c67a0" stroke-width="1.1" />
<line x1="374.20" y1="399.30" x2="457.80" y2="399.30" stroke="#8cc46c" stroke-width="1.1" />
<text x="313.50" y="411.20" font-size="8.6" text-anchor="middle" fill="#654879" textLength="49.40" lengthAdjust="spacingAndGlyphs" >IL7 responder</text>
<text x="415.90" y="411.20" font-size="8.6" text-anchor="middle" fill="#6daf48" textLength="65.80" lengthAdjust="spacingAndGlyphs" >IL7 non responder</text>
<text x="88.85" y="467.3" font-size="8.9" text-anchor="middle" textLength="83.1" lengthAdjust="spacingAndGlyphs">TLX3<tspan font-size="6.6" dy="-3.2">+</tspan><tspan dy="3.2"> T-ALL PDX#6</tspan></text>
<text x="88.75" y="478.10" font-size="8.9" text-anchor="middle" textLength="60.90" lengthAdjust="spacingAndGlyphs" >%hCD45 in PB</text>
<line x1="39.50" y1="499.50" x2="39.50" y2="578.50" stroke="#000" stroke-width="1.1" />
<line x1="39.00" y1="578.00" x2="137.30" y2="578.00" stroke="#000" stroke-width="1.1" />
<line x1="36.50" y1="578.00" x2="39.50" y2="578.00" stroke="#000" stroke-width="0.9" />
<text x="35.00" y="580.80" font-size="8.2" text-anchor="end" textLength="4.20" lengthAdjust="spacingAndGlyphs" >0</text>
<line x1="36.50" y1="562.54" x2="39.50" y2="562.54" stroke="#000" stroke-width="0.9" />
<text x="35.00" y="565.34" font-size="8.2" text-anchor="end" textLength="9.00" lengthAdjust="spacingAndGlyphs" >20</text>
<line x1="36.50" y1="547.08" x2="39.50" y2="547.08" stroke="#000" stroke-width="0.9" />
<text x="35.00" y="549.88" font-size="8.2" text-anchor="end" textLength="9.00" lengthAdjust="spacingAndGlyphs" >40</text>
<line x1="36.50" y1="531.62" x2="39.50" y2="531.62" stroke="#000" stroke-width="0.9" />
<text x="35.00" y="534.42" font-size="8.2" text-anchor="end" textLength="9.00" lengthAdjust="spacingAndGlyphs" >60</text>
<line x1="36.50" y1="516.16" x2="39.50" y2="516.16" stroke="#000" stroke-width="0.9" />
<text x="35.00" y="518.96" font-size="8.2" text-anchor="end" textLength="9.00" lengthAdjust="spacingAndGlyphs" >80</text>
<line x1="36.50" y1="500.70" x2="39.50" y2="500.70" stroke="#000" stroke-width="0.9" />
<text x="35.00" y="503.50" font-size="8.2" text-anchor="end" textLength="13.70" lengthAdjust="spacingAndGlyphs" >100</text>
<line x1="55.80" y1="578.00" x2="55.80" y2="580.50" stroke="#000" stroke-width="0.9" />
<text x="55.80" y="591.60" font-size="8.0" text-anchor="middle" textLength="23.50" lengthAdjust="spacingAndGlyphs" >day -2</text>
<line x1="88.80" y1="578.00" x2="88.80" y2="580.50" stroke="#000" stroke-width="0.9" />
<text x="88.80" y="591.60" font-size="8.0" text-anchor="middle" textLength="20.50" lengthAdjust="spacingAndGlyphs" >day 5</text>
<line x1="121.50" y1="578.00" x2="121.50" y2="580.50" stroke="#000" stroke-width="0.9" />
<text x="121.50" y="591.60" font-size="8.0" text-anchor="middle" textLength="23.50" lengthAdjust="spacingAndGlyphs" >day 12</text>
<text x="89.00" y="604.20" font-size="10.3" text-anchor="middle" textLength="58.90" lengthAdjust="spacingAndGlyphs" >Days of treatment</text>
<text x="15.30" y="538.20" font-size="10.6" text-anchor="middle" textLength="95.70" lengthAdjust="spacingAndGlyphs" transform="rotate(-90 15.30 538.20)" >%hCD45 in peripheral blood</text>
<path d="M55.80,577.61 L88.80,574.52 L121.50,555.97" stroke="#e690c3" fill="none" stroke-width="0.9" />
<line x1="88.80" y1="575.29" x2="88.80" y2="573.75" stroke="#e690c3" stroke-width="0.9" />
<line x1="87.50" y1="573.75" x2="90.10" y2="573.75" stroke="#e690c3" stroke-width="0.8" />
<line x1="87.50" y1="575.29" x2="90.10" y2="575.29" stroke="#e690c3" stroke-width="0.8" />
<line x1="121.50" y1="563.70" x2="121.50" y2="548.24" stroke="#e690c3" stroke-width="0.9" />
<line x1="120.20" y1="548.24" x2="122.80" y2="548.24" stroke="#e690c3" stroke-width="0.8" />
<line x1="120.20" y1="563.70" x2="122.80" y2="563.70" stroke="#e690c3" stroke-width="0.8" />
<path d="M55.80,577.61 L88.80,561.38 L121.50,525.82" stroke="#a9cff3" fill="none" stroke-width="0.9" />
<line x1="88.80" y1="563.70" x2="88.80" y2="559.06" stroke="#a9cff3" stroke-width="0.9" />
<line x1="87.50" y1="559.06" x2="90.10" y2="559.06" stroke="#a9cff3" stroke-width="0.8" />
<line x1="87.50" y1="563.70" x2="90.10" y2="563.70" stroke="#a9cff3" stroke-width="0.8" />
<line x1="121.50" y1="528.91" x2="121.50" y2="521.96" stroke="#a9cff3" stroke-width="0.9" />
<line x1="120.20" y1="521.96" x2="122.80" y2="521.96" stroke="#a9cff3" stroke-width="0.8" />
<line x1="120.20" y1="528.91" x2="122.80" y2="528.91" stroke="#a9cff3" stroke-width="0.8" />
<path d="M55.80,577.61 L88.80,562.15 L121.50,515.00" stroke="#cc1f85" fill="none" stroke-width="1.3" />
<line x1="88.80" y1="566.79" x2="88.80" y2="560.61" stroke="#cc1f85" stroke-width="0.9" />
<line x1="87.50" y1="560.61" x2="90.10" y2="560.61" stroke="#cc1f85" stroke-width="0.8" />
<line x1="87.50" y1="566.79" x2="90.10" y2="566.79" stroke="#cc1f85" stroke-width="0.8" />
<line x1="121.50" y1="515.77" x2="121.50" y2="514.23" stroke="#cc1f85" stroke-width="0.9" />
<line x1="120.20" y1="514.23" x2="122.80" y2="514.23" stroke="#cc1f85" stroke-width="0.8" />
<line x1="120.20" y1="515.77" x2="122.80" y2="515.77" stroke="#cc1f85" stroke-width="0.8" />
<path d="M55.80,577.61 L88.80,560.61 L121.50,513.45" stroke="#4298dc" fill="none" stroke-width="1.3" />
<line x1="88.80" y1="562.93" x2="88.80" y2="557.52" stroke="#4298dc" stroke-width="0.9" />
<line x1="87.50" y1="557.52" x2="90.10" y2="557.52" stroke="#4298dc" stroke-width="0.8" />
<line x1="87.50" y1="562.93" x2="90.10" y2="562.93" stroke="#4298dc" stroke-width="0.8" />
<line x1="121.50" y1="514.23" x2="121.50" y2="511.91" stroke="#4298dc" stroke-width="0.9" />
<line x1="120.20" y1="511.91" x2="122.80" y2="511.91" stroke="#4298dc" stroke-width="0.8" />
<line x1="120.20" y1="514.23" x2="122.80" y2="514.23" stroke="#4298dc" stroke-width="0.8" />
<path d="M127.3,513.0 L131.6,513.0 L131.6,525.6 L127.3,525.6" stroke="#222" fill="none" stroke-width="1.1" />
<text x="133.60" y="522.30" font-size="8.2" textLength="8.30" lengthAdjust="spacingAndGlyphs" >ns</text>
<path d="M139.8,513.0 L146.0,513.0 L146.0,555.0 L139.8,555.0" stroke="#222" fill="none" stroke-width="1.1" />
<text x="148.40" y="537.00" font-size="8.2" textLength="38.30" lengthAdjust="spacingAndGlyphs" >p = 0.0047</text>
<line x1="25.10" y1="617.10" x2="31.50" y2="617.10" stroke="#4298dc" stroke-width="1.4" />
<text x="34.60" y="620.00" font-size="8.0" textLength="68.40" lengthAdjust="spacingAndGlyphs" >VEHICLE AZD1208</text>
<line x1="110.20" y1="617.10" x2="116.60" y2="617.10" stroke="#a9cff3" stroke-width="1.4" />
<text x="119.70" y="620.00" font-size="8.0" textLength="33.10" lengthAdjust="spacingAndGlyphs" >AZD1208</text>
<line x1="25.10" y1="627.50" x2="31.50" y2="627.50" stroke="#cc1f85" stroke-width="1.4" />
<text x="34.60" y="630.40" font-size="8.0" textLength="61.70" lengthAdjust="spacingAndGlyphs" >VEHICLE PIM447</text>
<line x1="110.20" y1="627.50" x2="116.60" y2="627.50" stroke="#e690c3" stroke-width="1.4" />
<text x="119.70" y="630.40" font-size="8.0" textLength="27.10" lengthAdjust="spacingAndGlyphs" >PIM447</text>
<text x="277.35" y="467.3" font-size="8.9" text-anchor="middle" textLength="83.1" lengthAdjust="spacingAndGlyphs">TLX3<tspan font-size="6.6" dy="-3.2">+</tspan><tspan dy="3.2"> T-ALL PDX#6</tspan></text>
<text x="277.35" y="478.10" font-size="8.9" text-anchor="middle" textLength="73.00" lengthAdjust="spacingAndGlyphs" >spleen weight (g)</text>
<line x1="234.20" y1="485.80" x2="234.20" y2="574.70" stroke="#000" stroke-width="1.1" />
<line x1="233.70" y1="574.20" x2="320.40" y2="574.20" stroke="#000" stroke-width="1.1" />
<line x1="231.20" y1="574.20" x2="234.20" y2="574.20" stroke="#000" stroke-width="0.9" />
<text x="228.70" y="577.00" font-size="8.2" text-anchor="end" textLength="10.90" lengthAdjust="spacingAndGlyphs" >0.0</text>
<line x1="231.20" y1="556.78" x2="234.20" y2="556.78" stroke="#000" stroke-width="0.9" />
<text x="228.70" y="559.58" font-size="8.2" text-anchor="end" textLength="10.90" lengthAdjust="spacingAndGlyphs" >0.2</text>
<line x1="231.20" y1="539.36" x2="234.20" y2="539.36" stroke="#000" stroke-width="0.9" />
<text x="228.70" y="542.16" font-size="8.2" text-anchor="end" textLength="10.90" lengthAdjust="spacingAndGlyphs" >0.4</text>
<line x1="231.20" y1="521.94" x2="234.20" y2="521.94" stroke="#000" stroke-width="0.9" />
<text x="228.70" y="524.74" font-size="8.2" text-anchor="end" textLength="10.90" lengthAdjust="spacingAndGlyphs" >0.6</text>
<line x1="231.20" y1="504.52" x2="234.20" y2="504.52" stroke="#000" stroke-width="0.9" />
<text x="228.70" y="507.32" font-size="8.2" text-anchor="end" textLength="10.90" lengthAdjust="spacingAndGlyphs" >0.8</text>
<line x1="231.20" y1="487.10" x2="234.20" y2="487.10" stroke="#000" stroke-width="0.9" />
<text x="228.70" y="489.90" font-size="8.2" text-anchor="end" textLength="10.90" lengthAdjust="spacingAndGlyphs" >1.0</text>
<text x="211.90" y="528.80" font-size="10.2" text-anchor="middle" textLength="60.00" lengthAdjust="spacingAndGlyphs" transform="rotate(-90 211.90 528.80)" >Spleen weight (g)</text>
<line x1="247.70" y1="574.20" x2="247.70" y2="576.70" stroke="#000" stroke-width="0.9" />
<text x="250.90" y="582.60" font-size="8.8" text-anchor="end" textLength="60.50" lengthAdjust="spacingAndGlyphs" transform="rotate(-45 250.90 582.60)" >VEHICLE PIM447</text>
<line x1="267.90" y1="574.20" x2="267.90" y2="576.70" stroke="#000" stroke-width="0.9" />
<text x="271.10" y="582.60" font-size="8.8" text-anchor="end" textLength="26.00" lengthAdjust="spacingAndGlyphs" transform="rotate(-45 271.10 582.60)" >PIM447</text>
<line x1="287.70" y1="574.20" x2="287.70" y2="576.70" stroke="#000" stroke-width="0.9" />
<text x="290.90" y="582.60" font-size="8.8" text-anchor="end" textLength="67.50" lengthAdjust="spacingAndGlyphs" transform="rotate(-45 290.90 582.60)" >VEHICLE AZD1208</text>
<line x1="307.30" y1="574.20" x2="307.30" y2="576.70" stroke="#000" stroke-width="0.9" />
<text x="310.50" y="582.60" font-size="8.8" text-anchor="end" textLength="33.00" lengthAdjust="spacingAndGlyphs" transform="rotate(-45 310.50 582.60)" >AZD1208</text>
<circle cx="247.70" cy="516.20" r="1.7" fill="#b0102c"/>
<circle cx="244.40" cy="523.80" r="1.7" fill="#b0102c"/>
<circle cx="251.70" cy="523.30" r="1.7" fill="#b0102c"/>
<line x1="241.10" y1="523.30" x2="254.60" y2="523.30" stroke="#000" stroke-width="1.1" />
<circle cx="263.10" cy="560.40" r="1.7" fill="#b0102c"/>
<circle cx="267.90" cy="557.90" r="1.7" fill="#b0102c"/>
<circle cx="273.30" cy="559.60" r="1.7" fill="#b0102c"/>
<line x1="261.30" y1="559.40" x2="274.80" y2="559.40" stroke="#000" stroke-width="1.1" />
<circle cx="287.70" cy="506.50" r="1.7" fill="#b0102c"/>
<circle cx="287.70" cy="515.20" r="1.7" fill="#b0102c"/>
<circle cx="287.70" cy="529.40" r="1.7" fill="#b0102c"/>
<line x1="281.10" y1="515.20" x2="294.60" y2="515.20" stroke="#000" stroke-width="1.1" />
<circle cx="307.90" cy="536.20" r="1.7" fill="#b0102c"/>
<circle cx="304.60" cy="544.00" r="1.7" fill="#b0102c"/>
<circle cx="311.70" cy="543.10" r="1.7" fill="#b0102c"/>
<line x1="300.70" y1="542.90" x2="314.20" y2="542.90" stroke="#000" stroke-width="1.1" />
<path d="M247.3,501.4 L247.3,498.8 L267.1,498.8 L267.1,501.4" stroke="#222" fill="none" stroke-width="0.9" />
<path d="M287.3,501.4 L287.3,498.8 L307.5,498.8 L307.5,501.4" stroke="#222" fill="none" stroke-width="0.9" />
<text x="257.10" y="494.20" font-size="7.9" text-anchor="middle" textLength="36.20" lengthAdjust="spacingAndGlyphs" >p = 0.0001</text>
<text x="297.00" y="494.20" font-size="7.9" text-anchor="middle" textLength="32.00" lengthAdjust="spacingAndGlyphs" >p = 0.027</text>
<text x="431.00" y="467.3" font-size="8.9" text-anchor="middle" textLength="84.5" lengthAdjust="spacingAndGlyphs">TLX3<tspan font-size="6.6" dy="-3.2">+</tspan><tspan dy="3.2"> T-ALL PDX#6</tspan></text>
<text x="431.1" y="478.1" font-size="8.9" text-anchor="middle" textLength="120.7" lengthAdjust="spacingAndGlyphs"><tspan font-style="italic">ex vivo</tspan> PIM1 inhibition (72h)</text>
<line x1="369.30" y1="496.50" x2="369.30" y2="578.50" stroke="#000" stroke-width="1.1" />
<line x1="368.80" y1="578.00" x2="491.30" y2="578.00" stroke="#000" stroke-width="1.1" />
<line x1="366.30" y1="578.00" x2="369.30" y2="578.00" stroke="#000" stroke-width="0.9" />
<text x="364.40" y="580.80" font-size="8.2" text-anchor="end" textLength="4.20" lengthAdjust="spacingAndGlyphs" >0</text>
<line x1="366.30" y1="561.94" x2="369.30" y2="561.94" stroke="#000" stroke-width="0.9" />
<text x="364.40" y="564.74" font-size="8.2" text-anchor="end" textLength="9.00" lengthAdjust="spacingAndGlyphs" >20</text>
<line x1="366.30" y1="545.88" x2="369.30" y2="545.88" stroke="#000" stroke-width="0.9" />
<text x="364.40" y="548.68" font-size="8.2" text-anchor="end" textLength="9.00" lengthAdjust="spacingAndGlyphs" >40</text>
<line x1="366.30" y1="529.82" x2="369.30" y2="529.82" stroke="#000" stroke-width="0.9" />
<text x="364.40" y="532.62" font-size="8.2" text-anchor="end" textLength="9.00" lengthAdjust="spacingAndGlyphs" >60</text>
<line x1="366.30" y1="513.76" x2="369.30" y2="513.76" stroke="#000" stroke-width="0.9" />
<text x="364.40" y="516.56" font-size="8.2" text-anchor="end" textLength="9.00" lengthAdjust="spacingAndGlyphs" >80</text>
<line x1="366.30" y1="497.70" x2="369.30" y2="497.70" stroke="#000" stroke-width="0.9" />
<text x="364.40" y="500.50" font-size="8.2" text-anchor="end" textLength="13.70" lengthAdjust="spacingAndGlyphs" >100</text>
<line x1="369.30" y1="578.00" x2="369.30" y2="580.50" stroke="#000" stroke-width="0.9" />
<text x="369.30" y="591.00" font-size="8.0" text-anchor="middle" textLength="15.20" lengthAdjust="spacingAndGlyphs" >0.01</text>
<line x1="399.75" y1="578.00" x2="399.75" y2="580.50" stroke="#000" stroke-width="0.9" />
<text x="399.75" y="591.00" font-size="8.0" text-anchor="middle" textLength="11.00" lengthAdjust="spacingAndGlyphs" >0.1</text>
<line x1="430.20" y1="578.00" x2="430.20" y2="580.50" stroke="#000" stroke-width="0.9" />
<text x="430.20" y="591.00" font-size="8.0" text-anchor="middle" textLength="4.20" lengthAdjust="spacingAndGlyphs" >1</text>
<line x1="460.65" y1="578.00" x2="460.65" y2="580.50" stroke="#000" stroke-width="0.9" />
<text x="460.65" y="591.00" font-size="8.0" text-anchor="middle" textLength="8.60" lengthAdjust="spacingAndGlyphs" >10</text>
<line x1="491.10" y1="578.00" x2="491.10" y2="580.50" stroke="#000" stroke-width="0.9" />
<text x="491.10" y="591.00" font-size="8.0" text-anchor="middle" textLength="13.00" lengthAdjust="spacingAndGlyphs" >100</text>
<text x="431.40" y="604.40" font-size="10.9" text-anchor="middle" textLength="113.50" lengthAdjust="spacingAndGlyphs" >Concentration PIM inhibitor (µM)</text>
<text x="344.90" y="536.50" font-size="10.8" text-anchor="middle" textLength="68.80" lengthAdjust="spacingAndGlyphs" transform="rotate(-90 344.90 536.50)" >Relative cell viability</text>
<line x1="387.63" y1="535.44" x2="387.63" y2="527.41" stroke="#eaa6cc" stroke-width="0.8" />
<line x1="386.33" y1="527.41" x2="388.93" y2="527.41" stroke="#eaa6cc" stroke-width="0.8" />
<line x1="386.33" y1="535.44" x2="388.93" y2="535.44" stroke="#eaa6cc" stroke-width="0.8" />
<circle cx="387.63" cy="531.43" r="0.8" fill="#eaa6cc"/>
<line x1="396.80" y1="534.64" x2="396.80" y2="531.43" stroke="#eaa6cc" stroke-width="0.8" />
<line x1="395.50" y1="531.43" x2="398.10" y2="531.43" stroke="#eaa6cc" stroke-width="0.8" />
<line x1="395.50" y1="534.64" x2="398.10" y2="534.64" stroke="#eaa6cc" stroke-width="0.8" />
<circle cx="396.80" cy="533.03" r="0.8" fill="#eaa6cc"/>
<line x1="405.97" y1="536.24" x2="405.97" y2="533.03" stroke="#eaa6cc" stroke-width="0.8" />
<line x1="404.67" y1="533.03" x2="407.27" y2="533.03" stroke="#eaa6cc" stroke-width="0.8" />
<line x1="404.67" y1="536.24" x2="407.27" y2="536.24" stroke="#eaa6cc" stroke-width="0.8" />
<circle cx="405.97" cy="534.64" r="0.8" fill="#eaa6cc"/>
<line x1="415.13" y1="537.05" x2="415.13" y2="533.84" stroke="#eaa6cc" stroke-width="0.8" />
<line x1="413.83" y1="533.84" x2="416.43" y2="533.84" stroke="#eaa6cc" stroke-width="0.8" />
<line x1="413.83" y1="537.05" x2="416.43" y2="537.05" stroke="#eaa6cc" stroke-width="0.8" />
<circle cx="415.13" cy="535.44" r="0.8" fill="#eaa6cc"/>
<line x1="424.30" y1="539.46" x2="424.30" y2="536.24" stroke="#eaa6cc" stroke-width="0.8" />
<line x1="423.00" y1="536.24" x2="425.60" y2="536.24" stroke="#eaa6cc" stroke-width="0.8" />
<line x1="423.00" y1="539.46" x2="425.60" y2="539.46" stroke="#eaa6cc" stroke-width="0.8" />
<circle cx="424.30" cy="537.85" r="0.8" fill="#eaa6cc"/>
<line x1="433.46" y1="543.47" x2="433.46" y2="540.26" stroke="#eaa6cc" stroke-width="0.8" />
<line x1="432.16" y1="540.26" x2="434.76" y2="540.26" stroke="#eaa6cc" stroke-width="0.8" />
<line x1="432.16" y1="543.47" x2="434.76" y2="543.47" stroke="#eaa6cc" stroke-width="0.8" />
<circle cx="433.46" cy="541.87" r="0.8" fill="#eaa6cc"/>
<line x1="442.63" y1="551.50" x2="442.63" y2="548.29" stroke="#eaa6cc" stroke-width="0.8" />
<line x1="441.33" y1="548.29" x2="443.93" y2="548.29" stroke="#eaa6cc" stroke-width="0.8" />
<line x1="441.33" y1="551.50" x2="443.93" y2="551.50" stroke="#eaa6cc" stroke-width="0.8" />
<circle cx="442.63" cy="549.89" r="0.8" fill="#eaa6cc"/>
<line x1="451.80" y1="561.94" x2="451.80" y2="555.52" stroke="#eaa6cc" stroke-width="0.8" />
<line x1="450.50" y1="555.52" x2="453.10" y2="555.52" stroke="#eaa6cc" stroke-width="0.8" />
<line x1="450.50" y1="561.94" x2="453.10" y2="561.94" stroke="#eaa6cc" stroke-width="0.8" />
<circle cx="451.80" cy="558.73" r="0.8" fill="#eaa6cc"/>
<line x1="460.65" y1="576.39" x2="460.65" y2="574.79" stroke="#eaa6cc" stroke-width="0.8" />
<line x1="459.35" y1="574.79" x2="461.95" y2="574.79" stroke="#eaa6cc" stroke-width="0.8" />
<line x1="459.35" y1="576.39" x2="461.95" y2="576.39" stroke="#eaa6cc" stroke-width="0.8" />
<circle cx="460.65" cy="575.59" r="0.8" fill="#eaa6cc"/>
<line x1="387.63" y1="518.58" x2="387.63" y2="513.76" stroke="#b3d3f1" stroke-width="0.8" />
<line x1="386.33" y1="513.76" x2="388.93" y2="513.76" stroke="#b3d3f1" stroke-width="0.8" />
<line x1="386.33" y1="518.58" x2="388.93" y2="518.58" stroke="#b3d3f1" stroke-width="0.8" />
<circle cx="387.63" cy="516.17" r="0.8" fill="#b3d3f1"/>
<line x1="396.80" y1="522.59" x2="396.80" y2="517.77" stroke="#b3d3f1" stroke-width="0.8" />
<line x1="395.50" y1="517.77" x2="398.10" y2="517.77" stroke="#b3d3f1" stroke-width="0.8" />
<line x1="395.50" y1="522.59" x2="398.10" y2="522.59" stroke="#b3d3f1" stroke-width="0.8" />
<circle cx="396.80" cy="520.18" r="0.8" fill="#b3d3f1"/>
<line x1="405.97" y1="528.21" x2="405.97" y2="523.40" stroke="#b3d3f1" stroke-width="0.8" />
<line x1="404.67" y1="523.40" x2="407.27" y2="523.40" stroke="#b3d3f1" stroke-width="0.8" />
<line x1="404.67" y1="528.21" x2="407.27" y2="528.21" stroke="#b3d3f1" stroke-width="0.8" />
<circle cx="405.97" cy="525.80" r="0.8" fill="#b3d3f1"/>
<line x1="415.13" y1="533.84" x2="415.13" y2="529.02" stroke="#b3d3f1" stroke-width="0.8" />
<line x1="413.83" y1="529.02" x2="416.43" y2="529.02" stroke="#b3d3f1" stroke-width="0.8" />
<line x1="413.83" y1="533.84" x2="416.43" y2="533.84" stroke="#b3d3f1" stroke-width="0.8" />
<circle cx="415.13" cy="531.43" r="0.8" fill="#b3d3f1"/>
<line x1="424.30" y1="537.85" x2="424.30" y2="533.03" stroke="#b3d3f1" stroke-width="0.8" />
<line x1="423.00" y1="533.03" x2="425.60" y2="533.03" stroke="#b3d3f1" stroke-width="0.8" />
<line x1="423.00" y1="537.85" x2="425.60" y2="537.85" stroke="#b3d3f1" stroke-width="0.8" />
<circle cx="424.30" cy="535.44" r="0.8" fill="#b3d3f1"/>
<line x1="433.46" y1="541.06" x2="433.46" y2="536.24" stroke="#b3d3f1" stroke-width="0.8" />
<line x1="432.16" y1="536.24" x2="434.76" y2="536.24" stroke="#b3d3f1" stroke-width="0.8" />
<line x1="432.16" y1="541.06" x2="434.76" y2="541.06" stroke="#b3d3f1" stroke-width="0.8" />
<circle cx="433.46" cy="538.65" r="0.8" fill="#b3d3f1"/>
<line x1="442.63" y1="540.26" x2="442.63" y2="537.05" stroke="#b3d3f1" stroke-width="0.8" />
<line x1="441.33" y1="537.05" x2="443.93" y2="537.05" stroke="#b3d3f1" stroke-width="0.8" />
<line x1="441.33" y1="540.26" x2="443.93" y2="540.26" stroke="#b3d3f1" stroke-width="0.8" />
<circle cx="442.63" cy="538.65" r="0.8" fill="#b3d3f1"/>
<line x1="451.80" y1="539.46" x2="451.80" y2="536.24" stroke="#b3d3f1" stroke-width="0.8" />
<line x1="450.50" y1="536.24" x2="453.10" y2="536.24" stroke="#b3d3f1" stroke-width="0.8" />
<line x1="450.50" y1="539.46" x2="453.10" y2="539.46" stroke="#b3d3f1" stroke-width="0.8" />
<circle cx="451.80" cy="537.85" r="0.8" fill="#b3d3f1"/>
<line x1="460.65" y1="540.26" x2="460.65" y2="537.05" stroke="#b3d3f1" stroke-width="0.8" />
<line x1="459.35" y1="537.05" x2="461.95" y2="537.05" stroke="#b3d3f1" stroke-width="0.8" />
<line x1="459.35" y1="540.26" x2="461.95" y2="540.26" stroke="#b3d3f1" stroke-width="0.8" />
<circle cx="460.65" cy="538.65" r="0.8" fill="#b3d3f1"/>
<line x1="387.63" y1="537.85" x2="387.63" y2="533.03" stroke="#d0238a" stroke-width="0.9" />
<line x1="386.33" y1="533.03" x2="388.93" y2="533.03" stroke="#d0238a" stroke-width="0.9" />
<line x1="386.33" y1="537.85" x2="388.93" y2="537.85" stroke="#d0238a" stroke-width="0.9" />
<circle cx="387.63" cy="535.44" r="0.8" fill="#d0238a"/>
<line x1="396.80" y1="540.26" x2="396.80" y2="537.05" stroke="#d0238a" stroke-width="0.9" />
<line x1="395.50" y1="537.05" x2="398.10" y2="537.05" stroke="#d0238a" stroke-width="0.9" />
<line x1="395.50" y1="540.26" x2="398.10" y2="540.26" stroke="#d0238a" stroke-width="0.9" />
<circle cx="396.80" cy="538.65" r="0.8" fill="#d0238a"/>
<line x1="405.97" y1="542.67" x2="405.97" y2="537.85" stroke="#d0238a" stroke-width="0.9" />
<line x1="404.67" y1="537.85" x2="407.27" y2="537.85" stroke="#d0238a" stroke-width="0.9" />
<line x1="404.67" y1="542.67" x2="407.27" y2="542.67" stroke="#d0238a" stroke-width="0.9" />
<circle cx="405.97" cy="540.26" r="0.8" fill="#d0238a"/>
<line x1="415.13" y1="545.88" x2="415.13" y2="542.67" stroke="#d0238a" stroke-width="0.9" />
<line x1="413.83" y1="542.67" x2="416.43" y2="542.67" stroke="#d0238a" stroke-width="0.9" />
<line x1="413.83" y1="545.88" x2="416.43" y2="545.88" stroke="#d0238a" stroke-width="0.9" />
<circle cx="415.13" cy="544.27" r="0.8" fill="#d0238a"/>
<line x1="424.30" y1="543.47" x2="424.30" y2="540.26" stroke="#d0238a" stroke-width="0.9" />
<line x1="423.00" y1="540.26" x2="425.60" y2="540.26" stroke="#d0238a" stroke-width="0.9" />
<line x1="423.00" y1="543.47" x2="425.60" y2="543.47" stroke="#d0238a" stroke-width="0.9" />
<circle cx="424.30" cy="541.87" r="0.8" fill="#d0238a"/>
<line x1="433.46" y1="548.29" x2="433.46" y2="543.47" stroke="#d0238a" stroke-width="0.9" />
<line x1="432.16" y1="543.47" x2="434.76" y2="543.47" stroke="#d0238a" stroke-width="0.9" />
<line x1="432.16" y1="548.29" x2="434.76" y2="548.29" stroke="#d0238a" stroke-width="0.9" />
<circle cx="433.46" cy="545.88" r="0.8" fill="#d0238a"/>
<line x1="442.63" y1="554.71" x2="442.63" y2="551.50" stroke="#d0238a" stroke-width="0.9" />
<line x1="441.33" y1="551.50" x2="443.93" y2="551.50" stroke="#d0238a" stroke-width="0.9" />
<line x1="441.33" y1="554.71" x2="443.93" y2="554.71" stroke="#d0238a" stroke-width="0.9" />
<circle cx="442.63" cy="553.11" r="0.8" fill="#d0238a"/>
<line x1="451.80" y1="565.15" x2="451.80" y2="561.94" stroke="#d0238a" stroke-width="0.9" />
<line x1="450.50" y1="561.94" x2="453.10" y2="561.94" stroke="#d0238a" stroke-width="0.9" />
<line x1="450.50" y1="565.15" x2="453.10" y2="565.15" stroke="#d0238a" stroke-width="0.9" />
<circle cx="451.80" cy="563.55" r="0.8" fill="#d0238a"/>
<line x1="460.65" y1="577.20" x2="460.65" y2="575.59" stroke="#d0238a" stroke-width="0.9" />
<line x1="459.35" y1="575.59" x2="461.95" y2="575.59" stroke="#d0238a" stroke-width="0.9" />
<line x1="459.35" y1="577.20" x2="461.95" y2="577.20" stroke="#d0238a" stroke-width="0.9" />
<circle cx="460.65" cy="576.39" r="0.8" fill="#d0238a"/>
<line x1="387.63" y1="529.82" x2="387.63" y2="513.76" stroke="#5aa3dc" stroke-width="0.9" />
<line x1="386.33" y1="513.76" x2="388.93" y2="513.76" stroke="#5aa3dc" stroke-width="0.9" />
<line x1="386.33" y1="529.82" x2="388.93" y2="529.82" stroke="#5aa3dc" stroke-width="0.9" />
<circle cx="387.63" cy="521.79" r="0.8" fill="#5aa3dc"/>
<line x1="396.80" y1="530.62" x2="396.80" y2="512.96" stroke="#5aa3dc" stroke-width="0.9" />
<line x1="395.50" y1="512.96" x2="398.10" y2="512.96" stroke="#5aa3dc" stroke-width="0.9" />
<line x1="395.50" y1="530.62" x2="398.10" y2="530.62" stroke="#5aa3dc" stroke-width="0.9" />
<circle cx="396.80" cy="521.79" r="0.8" fill="#5aa3dc"/>
<line x1="405.97" y1="533.84" x2="405.97" y2="522.59" stroke="#5aa3dc" stroke-width="0.9" />
<line x1="404.67" y1="522.59" x2="407.27" y2="522.59" stroke="#5aa3dc" stroke-width="0.9" />
<line x1="404.67" y1="533.84" x2="407.27" y2="533.84" stroke="#5aa3dc" stroke-width="0.9" />
<circle cx="405.97" cy="528.21" r="0.8" fill="#5aa3dc"/>
<line x1="415.13" y1="534.64" x2="415.13" y2="521.79" stroke="#5aa3dc" stroke-width="0.9" />
<line x1="413.83" y1="521.79" x2="416.43" y2="521.79" stroke="#5aa3dc" stroke-width="0.9" />
<line x1="413.83" y1="534.64" x2="416.43" y2="534.64" stroke="#5aa3dc" stroke-width="0.9" />
<circle cx="415.13" cy="528.21" r="0.8" fill="#5aa3dc"/>
<line x1="424.30" y1="538.65" x2="424.30" y2="529.02" stroke="#5aa3dc" stroke-width="0.9" />
<line x1="423.00" y1="529.02" x2="425.60" y2="529.02" stroke="#5aa3dc" stroke-width="0.9" />
<line x1="423.00" y1="538.65" x2="425.60" y2="538.65" stroke="#5aa3dc" stroke-width="0.9" />
<circle cx="424.30" cy="533.84" r="0.8" fill="#5aa3dc"/>
<line x1="433.46" y1="541.87" x2="433.46" y2="530.62" stroke="#5aa3dc" stroke-width="0.9" />
<line x1="432.16" y1="530.62" x2="434.76" y2="530.62" stroke="#5aa3dc" stroke-width="0.9" />
<line x1="432.16" y1="541.87" x2="434.76" y2="541.87" stroke="#5aa3dc" stroke-width="0.9" />
<circle cx="433.46" cy="536.24" r="0.8" fill="#5aa3dc"/>
<line x1="442.63" y1="545.88" x2="442.63" y2="539.46" stroke="#5aa3dc" stroke-width="0.9" />
<line x1="441.33" y1="539.46" x2="443.93" y2="539.46" stroke="#5aa3dc" stroke-width="0.9" />
<line x1="441.33" y1="545.88" x2="443.93" y2="545.88" stroke="#5aa3dc" stroke-width="0.9" />
<circle cx="442.63" cy="542.67" r="0.8" fill="#5aa3dc"/>
<line x1="451.80" y1="545.88" x2="451.80" y2="539.46" stroke="#5aa3dc" stroke-width="0.9" />
<line x1="450.50" y1="539.46" x2="453.10" y2="539.46" stroke="#5aa3dc" stroke-width="0.9" />
<line x1="450.50" y1="545.88" x2="453.10" y2="545.88" stroke="#5aa3dc" stroke-width="0.9" />
<circle cx="451.80" cy="542.67" r="0.8" fill="#5aa3dc"/>
<line x1="460.65" y1="545.88" x2="460.65" y2="539.46" stroke="#5aa3dc" stroke-width="0.9" />
<line x1="459.35" y1="539.46" x2="461.95" y2="539.46" stroke="#5aa3dc" stroke-width="0.9" />
<line x1="459.35" y1="545.88" x2="461.95" y2="545.88" stroke="#5aa3dc" stroke-width="0.9" />
<circle cx="460.65" cy="542.67" r="0.8" fill="#5aa3dc"/>
<path d="M387.63,517.50 L389.46,518.07 L391.28,518.70 L393.11,519.40 L394.93,520.17 L396.76,521.01 L398.59,521.91 L400.41,522.88 L402.24,523.89 L404.06,524.95 L405.89,526.03 L407.71,527.12 L409.54,528.22 L411.36,529.29 L413.19,530.34 L415.01,531.35 L416.84,532.30 L418.67,533.19 L420.49,534.01 L422.32,534.77 L424.14,535.46 L425.97,536.07 L427.79,536.62 L429.62,537.11 L431.44,537.54 L433.27,537.92 L435.09,538.25 L436.92,538.54 L438.74,538.79 L440.57,539.00 L442.40,539.19 L444.22,539.34 L446.05,539.48 L447.87,539.60 L449.70,539.69 L451.52,539.78 L453.35,539.85 L455.17,539.91 L457.00,539.96 L458.82,540.01 L460.65,540.05" stroke="#b3d3f1" fill="none" stroke-width="1.0" />
<path d="M387.63,533.15 L389.46,533.17 L391.28,533.20 L393.11,533.23 L394.93,533.27 L396.76,533.31 L398.59,533.37 L400.41,533.43 L402.24,533.51 L404.06,533.60 L405.89,533.71 L407.71,533.85 L409.54,534.00 L411.36,534.19 L413.19,534.41 L415.01,534.68 L416.84,534.99 L418.67,535.36 L420.49,535.80 L422.32,536.31 L424.14,536.92 L425.97,537.63 L427.79,538.45 L429.62,539.40 L431.44,540.50 L433.27,541.76 L435.09,543.19 L436.92,544.80 L438.74,546.60 L440.57,548.59 L442.40,550.76 L444.22,553.09 L446.05,555.58 L447.87,558.19 L449.70,560.87 L451.52,563.60 L453.35,566.33 L455.17,569.02 L457.00,571.62 L458.82,574.10 L460.65,576.43" stroke="#eaa6cc" fill="none" stroke-width="1.0" />
<path d="M387.63,537.07 L389.46,537.07 L391.28,537.08 L393.11,537.08 L394.93,537.09 L396.76,537.10 L398.59,537.12 L400.41,537.14 L402.24,537.16 L404.06,537.18 L405.89,537.22 L407.71,537.26 L409.54,537.31 L411.36,537.38 L413.19,537.46 L415.01,537.56 L416.84,537.68 L418.67,537.84 L420.49,538.03 L422.32,538.27 L424.14,538.56 L425.97,538.93 L427.79,539.37 L429.62,539.92 L431.44,540.58 L433.27,541.39 L435.09,542.36 L436.92,543.53 L438.74,544.91 L440.57,546.53 L442.40,548.40 L444.22,550.55 L446.05,552.95 L447.87,555.60 L449.70,558.47 L451.52,561.49 L453.35,564.61 L455.17,567.75 L457.00,570.85 L458.82,573.81 L460.65,576.60" stroke="#d0238a" fill="none" stroke-width="1.3" />
<path d="M387.63,522.19 L389.46,522.34 L391.28,522.51 L393.11,522.72 L394.93,522.96 L396.76,523.25 L398.59,523.58 L400.41,523.96 L402.24,524.39 L404.06,524.89 L405.89,525.45 L407.71,526.08 L409.54,526.78 L411.36,527.54 L413.19,528.37 L415.01,529.26 L416.84,530.19 L418.67,531.15 L420.49,532.14 L422.32,533.12 L424.14,534.10 L425.97,535.06 L427.79,535.97 L429.62,536.83 L431.44,537.63 L433.27,538.37 L435.09,539.04 L436.92,539.64 L438.74,540.18 L440.57,540.65 L442.40,541.06 L444.22,541.42 L446.05,541.73 L447.87,542.00 L449.70,542.23 L451.52,542.42 L453.35,542.59 L455.17,542.73 L457.00,542.85 L458.82,542.95 L460.65,543.03" stroke="#5aa3dc" fill="none" stroke-width="1.3" />
<text x="370.4" y="565.1" font-size="9.2" fill="#5aa3dc" textLength="75" lengthAdjust="spacingAndGlyphs">IC50<tspan font-size="5.6" dy="2">AZD1208</tspan><tspan dy="-2"> = 2.16 µM</tspan></text>
<text x="370.4" y="575.0" font-size="9.2" fill="#d0238a" textLength="70.8" lengthAdjust="spacingAndGlyphs">IC50<tspan font-size="5.6" dy="2">PIM447</tspan><tspan dy="-2"> = 0.19 µM</tspan></text>
<line x1="341.70" y1="616.30" x2="347.30" y2="616.30" stroke="#5aa3dc" stroke-width="1.4" />
<text x="349.70" y="619.20" font-size="8.0" textLength="66.50" lengthAdjust="spacingAndGlyphs" >AZD1208 spleen 1</text>
<line x1="423.00" y1="616.30" x2="428.60" y2="616.30" stroke="#d0238a" stroke-width="1.4" />
<text x="431.00" y="619.20" font-size="8.0" textLength="59.90" lengthAdjust="spacingAndGlyphs" >PIM447 spleen 1</text>
<line x1="341.70" y1="627.40" x2="347.30" y2="627.40" stroke="#b3d3f1" stroke-width="1.4" />
<text x="349.70" y="630.30" font-size="8.0" textLength="66.50" lengthAdjust="spacingAndGlyphs" >AZD1208 spleen 2</text>
<line x1="423.00" y1="627.40" x2="428.60" y2="627.40" stroke="#eaa6cc" stroke-width="1.4" />
<text x="431.00" y="630.30" font-size="8.0" textLength="59.90" lengthAdjust="spacingAndGlyphs" >PIM447 spleen 2</text>
<rect x="0.5" y="0.5" width="519" height="639" fill="none" stroke="#000" stroke-width="1.2"/>
</svg>
</body></html>
